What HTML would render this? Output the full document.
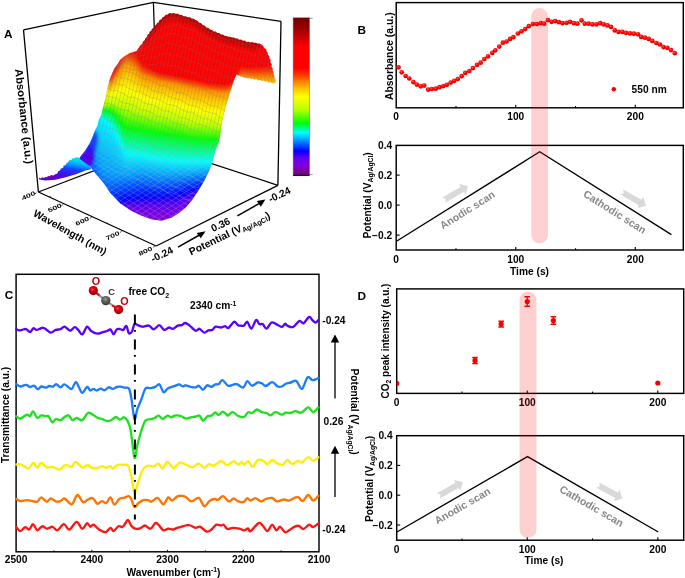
<!DOCTYPE html>
<html><head><meta charset="utf-8"><style>
html,body{margin:0;padding:0;background:#fff;width:685px;height:578px;overflow:hidden}
svg{display:block;will-change:transform}
</style></head><body>
<svg width="685" height="578" viewBox="0 0 685 578">
<defs><linearGradient id="gCbar" x1="0" y1="0" x2="0" y2="1"><stop offset="0" stop-color="#700000"/><stop offset="0.075" stop-color="#A00000"/><stop offset="0.15" stop-color="#E00000"/><stop offset="0.19" stop-color="#FF0000"/><stop offset="0.32" stop-color="#FF0000"/><stop offset="0.37" stop-color="#FF4000"/><stop offset="0.415" stop-color="#FF9000"/><stop offset="0.46" stop-color="#FFD000"/><stop offset="0.5" stop-color="#FFFF00"/><stop offset="0.58" stop-color="#C0FF00"/><stop offset="0.67" stop-color="#00FF00"/><stop offset="0.73" stop-color="#00FFFF"/><stop offset="0.775" stop-color="#00A0FF"/><stop offset="0.846" stop-color="#0000FF"/><stop offset="0.89" stop-color="#6000F0"/><stop offset="0.936" stop-color="#8000E0"/><stop offset="0.981" stop-color="#800090"/><stop offset="1.0" stop-color="#700080"/></linearGradient><radialGradient id="gDot" cx="0.4" cy="0.35" r="0.65"><stop offset="0" stop-color="#FF6060"/><stop offset="0.45" stop-color="#FF0000"/><stop offset="1" stop-color="#E00000"/></radialGradient><clipPath id="cpD1"><rect x="396.7" y="288.9" width="287.00000000000006" height="104.5"/></clipPath><radialGradient id="gO" cx="0.4" cy="0.38" r="0.62"><stop offset="0" stop-color="#FF5050"/><stop offset="0.35" stop-color="#E00010"/><stop offset="1" stop-color="#900000"/></radialGradient><radialGradient id="gC" cx="0.45" cy="0.35" r="0.62"><stop offset="0" stop-color="#9A9A9A"/><stop offset="0.4" stop-color="#666"/><stop offset="1" stop-color="#3A3A3A"/></radialGradient><clipPath id="cpMain"><polygon points="79.5,158.6 80.4,156.8 85.6,149.9 89.9,143 92.5,136.9 95.1,130 97.4,125.7 98.7,120 101.1,115.5 104,103.8 106.9,90.7 109.8,79 114.2,68.8 117.5,64.2 120,60 123.4,56.9 129.2,53.3 136.5,51.1 140.6,45.1 142.4,43.8 142.9,41.6 144.7,40.2 145.4,38.2 147.1,36.8 147.4,34.8 149.1,33.7 149.6,31.8 151.3,30.8 151.8,28.9 153.5,27.9 154.4,26.1 156,25 156.9,23.2 158.7,22.2 159.5,20.1 161.5,19.2 162.5,17.3 164.3,16.4 165.7,14.8 167.8,14.6 169.3,13.1 171.5,13.6 173.7,13.1 175.8,13.8 178,13.7 179.8,14.9 181.9,14.9 183.6,16.3 185.7,16.2 187.5,17.2 190.1,17.2 191.6,18.6 193.8,18.8 195.4,20.1 197.5,20.7 198.9,22.5 201.2,23.2 202.7,25 204.8,25.8 206.3,27.4 208.5,27.9 210,29.5 212,30.1 213.6,31.6 215.7,31.6 217.3,32.9 219.3,33 220.9,34.4 223,34.4 224.6,35.8 226.6,36 228.3,36.8 230.2,36.7 231.9,37.6 233.9,37.5 235.5,38.6 237.5,38.6 239.2,39.7 241.2,39.5 242.8,40.8 244.9,40.6 246.5,41.9 248.4,41.7 250.2,42.6 252.1,42 253.9,42.8 255.7,42.7 257.6,43.5 259.6,43.6 261.2,44.5 263.1,45.8 264.2,47.9 266.2,49.3 266.5,51.2 267.8,52.7 267.9,54.8 269.3,56.3 269.4,58.2 270.6,60.1 270.4,62.4 271.8,64.2 271.4,66.5 272.7,68.3 272.7,70.4 273.7,72.2 273.7,74.3 274.6,76.2 274.5,78.3 275.6,80.1 275.4,82 276.1,83.7 274.4,82.6 272.3,83.7 270.8,81.9 268.7,82.8 267.2,81.3 265.2,81.8 263.7,80.5 261.7,81.1 260.2,79.8 258.2,80.5 256.7,78.9 254.7,79.7 253.1,78.6 251.3,78.9 249.6,78 247.7,78.6 246.1,77.4 244.3,77.9 242.8,76.7 240.9,76.8 239.8,75.4 237.9,75.5 236.7,74.2 233.9,80.4 230.3,92.1 225.9,106.7 222.3,121.3 219.5,140 215.5,150.2 212.4,162.5 209.3,170.7 204.2,180.9 198.1,191.1 192,200.3 185.8,207.4 179.7,212.6 171.5,217.7 161.3,220.7 151.1,219.3 140.9,215.6 130.7,210.5 120.4,203.4 110.2,193.1 105,184.9 101,180 96,174.2 90.8,167.2"/></clipPath><clipPath id="cpBump"><polygon points="39.1,178.2 45.2,177.2 51.3,175.7 55.4,174.6 58.5,171.6 62.6,167.5 66.7,163.4 69.7,160.3 73.8,158.1 75.9,157.4 78.2,157.4 80.4,158.2 84,161.5 88,165 91.5,168.2 90.2,169.4 86.1,170.3 75.9,174.2 65.7,177.3 55.4,179.8 45.2,180.4 39.1,179.4"/></clipPath><filter id="bl1" x="-10%" y="-10%" width="120%" height="120%"><feGaussianBlur stdDeviation="1.1"/></filter><filter id="bl2" x="-20%" y="-20%" width="140%" height="140%"><feGaussianBlur stdDeviation="1.6"/></filter><filter id="bl3" x="-20%" y="-20%" width="140%" height="140%"><feGaussianBlur stdDeviation="2.6"/></filter><linearGradient id="gBump" gradientUnits="userSpaceOnUse" x1="70" y1="157" x2="66" y2="180"><stop offset="0" stop-color="#00E8F0"/><stop offset="0.25" stop-color="#00B0FF"/><stop offset="0.5" stop-color="#1840FF"/><stop offset="0.8" stop-color="#4010E8"/><stop offset="1" stop-color="#6800C8"/></linearGradient><linearGradient id="gMesh" gradientUnits="userSpaceOnUse" x1="0" y1="105" x2="0" y2="175"><stop offset="0" stop-color="#707070"/><stop offset="1" stop-color="#B8B8B8"/></linearGradient><clipPath id="cpLow"><rect x="60" y="145" width="240" height="100"/></clipPath><linearGradient id="gBand" gradientUnits="userSpaceOnUse" x1="96" y1="134" x2="84" y2="162"><stop offset="0" stop-color="#1838FF" stop-opacity="0.6"/><stop offset="0.4" stop-color="#2010F8"/><stop offset="1" stop-color="#6000E0"/></linearGradient></defs>
<line x1="23.5" y1="29.9" x2="153.4" y2="2.3" stroke="#000" stroke-width="1.25" />
<line x1="153.4" y1="2.3" x2="281" y2="21.3" stroke="#000" stroke-width="1.25" />
<line x1="153.4" y1="2.3" x2="158.3" y2="146.1" stroke="#000" stroke-width="1.25" />
<line x1="38.4" y1="192" x2="158.3" y2="146.1" stroke="#000" stroke-width="1.25" />
<line x1="158.3" y1="146.1" x2="277.9" y2="185.3" stroke="#000" stroke-width="1.25" />
<polygon points="39,177.5 40.7,178.5 42.1,177.2 43.8,178 45.2,177 46.8,177.3 48.1,176 49.8,176.3 51.2,175.1 53.5,175.6 55.2,174.3 57.4,173.5 58.1,171.2 60,170.4 60.8,168.5 63.1,168 63.5,165.7 65.6,165.1 66.5,163.2 68.3,162 69.5,160 71.4,160.2 72.2,158.3 74,158.6 75.9,157.2 78.1,157.6 80.7,157.9 81.2,159.7 83,160.1 84,161.5 88,165 91.5,168.2 90.2,169.4 86.1,170.3 75.9,174.2 65.7,177.3 55.4,179.8 45.2,180.4 39.1,179.4" fill="url(#gBump)"/>
<g clip-path="url(#cpMain)"><g filter="url(#bl1)">
<rect x="70" y="0" width="215" height="230" fill="#780088"/>
<polygon points="76,205 79,206.4 82,210.7 85,215 88,219.3 91,223.6 94,226.9 97,229.7 100,232.5 103,234.9 106,233.7 109,232.5 112,231.2 115,230.5 118,229.8 121,229.1 124,228.4 127,228.1 130,228.5 133,228.8 136,229.1 139,229.6 142,230 145,230.3 148,230.7 151,231.1 154,231.4 157,231.8 160,231.8 163,231.5 166,231.1 169,230.7 172,230.4 175,230 178,228.5 181,227.1 184,225.6 187,224.2 190,222.7 193,221.1 196,219.3 199,217.4 202,215.6 205,213.8 208,212 211,211.6 214,211.3 217,210.9 220,210.5 223,210.2 226,207.6 229,203 232,198 235,192 238,190 241,190 244,190 247,190 250,190 253,190 256,190 259,190 262,190 265,190 268,190 271,190 274,190 277,190 280,190 283,190 283,-5 76,-5" fill="#780088"/>
<polygon points="76,203.2 79,204.7 82,209 85,213.2 88,217.5 91,221.8 94,225.2 97,228 100,230.9 103,233.4 106,232.1 109,230.8 112,229.5 115,228.7 118,228.1 121,227.4 124,226.7 127,226.5 130,226.8 133,227.1 136,227.4 139,227.8 142,228.2 145,228.6 148,228.9 151,229.3 154,229.6 157,229.9 160,230 163,229.6 166,229.3 169,228.9 172,228.6 175,228.2 178,226.8 181,225.4 184,223.9 187,222.5 190,221.1 193,219.5 196,217.7 199,215.9 202,214.1 205,212.3 208,210.6 211,210.2 214,209.7 217,209.3 220,208.9 223,208.4 226,206 229,201.7 232,196.8 235,190.8 238,188.8 241,188.8 244,188.8 247,188.8 250,188.8 253,188.8 256,188.8 259,188.8 262,188.8 265,188.8 268,188.8 271,188.8 274,188.8 277,188.8 280,188.8 283,188.8 283,-5 76,-5" fill="#7E008E"/>
<polygon points="76,201.5 79,202.9 82,207.2 85,211.5 88,215.8 91,220.1 94,223.5 97,226.4 100,229.3 103,231.8 106,230.5 109,229.1 112,227.8 115,227 118,226.4 121,225.7 124,225.1 127,224.9 130,225.1 133,225.4 136,225.7 139,226.1 142,226.5 145,226.8 148,227.1 151,227.4 154,227.8 157,228.1 160,228.1 163,227.8 166,227.5 169,227.1 172,226.8 175,226.5 178,225.1 181,223.7 184,222.3 187,220.9 190,219.4 193,217.9 196,216.1 199,214.4 202,212.6 205,210.9 208,209.2 211,208.7 214,208.2 217,207.7 220,207.2 223,206.7 226,204.4 229,200.3 232,195.7 235,189.7 238,187.7 241,187.7 244,187.7 247,187.7 250,187.7 253,187.7 256,187.7 259,187.7 262,187.7 265,187.7 268,187.7 271,187.7 274,187.7 277,187.7 280,187.7 283,187.7 283,-5 76,-5" fill="#800099"/>
<polygon points="76,199.8 79,201.2 82,205.5 85,209.8 88,214 91,218.3 94,221.8 97,224.8 100,227.7 103,230.3 106,228.9 109,227.5 112,226 115,225.3 118,224.7 121,224.1 124,223.4 127,223.2 130,223.5 133,223.7 136,224 139,224.4 142,224.7 145,225 148,225.3 151,225.6 154,225.9 157,226.2 160,226.3 163,226 166,225.7 169,225.4 172,225.1 175,224.8 178,223.4 181,222 184,220.6 187,219.2 190,217.8 193,216.2 196,214.5 199,212.8 202,211.1 205,209.4 208,207.8 211,207.2 214,206.7 217,206.1 220,205.6 223,205 226,202.8 229,199 232,194.5 235,188.5 238,186.5 241,186.5 244,186.5 247,186.5 250,186.5 253,186.5 256,186.5 259,186.5 262,186.5 265,186.5 268,186.5 271,186.5 274,186.5 277,186.5 280,186.5 283,186.5 283,-5 76,-5" fill="#8000A5"/>
<polygon points="76,198 79,199.4 82,203.7 85,208 88,212.3 91,216.6 94,220 97,223.1 100,226.2 103,228.8 106,227.3 109,225.8 112,224.3 115,223.5 118,223 121,222.4 124,221.8 127,221.6 130,221.8 133,222.1 136,222.3 139,222.7 142,223 145,223.3 148,223.5 151,223.8 154,224.1 157,224.4 160,224.4 163,224.1 166,223.8 169,223.6 172,223.3 175,223 178,221.6 181,220.3 184,218.9 187,217.5 190,216.2 193,214.6 196,213 199,211.3 202,209.7 205,208 208,206.4 211,205.8 214,205.1 217,204.5 220,203.9 223,203.3 226,201.1 229,197.7 232,193.3 235,187.3 238,185.3 241,185.3 244,185.3 247,185.3 250,185.3 253,185.3 256,185.3 259,185.3 262,185.3 265,185.3 268,185.3 271,185.3 274,185.3 277,185.3 280,185.3 283,185.3 283,-5 76,-5" fill="#8000B2"/>
<polygon points="76,196.2 79,197.7 82,202 85,206.2 88,210.5 91,214.8 94,218.3 97,221.5 100,224.6 103,227.3 106,225.7 109,224.1 112,222.6 115,221.8 118,221.3 121,220.7 124,220.1 127,219.9 130,220.2 133,220.4 136,220.6 139,220.9 142,221.2 145,221.5 148,221.8 151,222 154,222.3 157,222.5 160,222.5 163,222.3 166,222 169,221.8 172,221.5 175,221.2 178,219.9 181,218.6 184,217.2 187,215.9 190,214.5 193,213 196,211.4 199,209.8 202,208.2 205,206.6 208,205 211,204.3 214,203.6 217,202.9 220,202.2 223,201.6 226,199.5 229,196.3 232,192.2 235,186.2 238,184.2 241,184.2 244,184.2 247,184.2 250,184.2 253,184.2 256,184.2 259,184.2 262,184.2 265,184.2 268,184.2 271,184.2 274,184.2 277,184.2 280,184.2 283,184.2 283,-5 76,-5" fill="#8000BE"/>
<polygon points="76,194.5 79,195.9 82,200.2 85,204.5 88,208.8 91,213.1 94,216.6 97,219.8 100,223 103,225.7 106,224.1 109,222.5 112,220.8 115,220.1 118,219.6 121,219 124,218.5 127,218.3 130,218.5 133,218.7 136,218.9 139,219.2 142,219.5 145,219.7 148,220 151,220.2 154,220.4 157,220.7 160,220.7 163,220.5 166,220.2 169,220 172,219.7 175,219.5 178,218.2 181,216.8 184,215.5 187,214.2 190,212.9 193,211.4 196,209.8 199,208.3 202,206.7 205,205.1 208,203.6 211,202.8 214,202.1 217,201.3 220,200.6 223,199.8 226,197.9 229,195 232,191 235,185 238,183 241,183 244,183 247,183 250,183 253,183 256,183 259,183 262,183 265,183 268,183 271,183 274,183 277,183 280,183 283,183 283,-5 76,-5" fill="#8000CB"/>
<polygon points="76,192.7 79,194.2 82,198.5 85,202.7 88,207 91,211.3 94,214.9 97,218.2 100,221.4 103,224.2 106,222.5 109,220.8 112,219.1 115,218.3 118,217.8 121,217.3 124,216.8 127,216.6 130,216.8 133,217 136,217.2 139,217.5 142,217.7 145,218 148,218.2 151,218.4 154,218.6 157,218.8 160,218.8 163,218.6 166,218.4 169,218.2 172,218 175,217.7 178,216.4 181,215.1 184,213.8 187,212.5 190,211.2 193,209.8 196,208.3 199,206.7 202,205.2 205,203.7 208,202.2 211,201.4 214,200.6 217,199.7 220,198.9 223,198.1 226,196.3 229,193.6 232,189.8 235,183.8 238,181.8 241,181.8 244,181.8 247,181.8 250,181.8 253,181.8 256,181.8 259,181.8 262,181.8 265,181.8 268,181.8 271,181.8 274,181.8 277,181.8 280,181.8 283,181.8 283,-5 76,-5" fill="#8000D7"/>
<polygon points="76,191 79,192.4 82,196.7 85,201 88,205.3 91,209.6 94,213.2 97,216.5 100,219.9 103,222.7 106,220.9 109,219.1 112,217.4 115,216.6 118,216.1 121,215.7 124,215.2 127,215 130,215.2 133,215.4 136,215.5 139,215.8 142,216 145,216.2 148,216.4 151,216.6 154,216.8 157,217 160,217 163,216.8 166,216.6 169,216.4 172,216.2 175,216 178,214.7 181,213.4 184,212.1 187,210.9 190,209.6 193,208.2 196,206.7 199,205.2 202,203.7 205,202.2 208,200.8 211,199.9 214,199 217,198.2 220,197.3 223,196.4 226,194.7 229,192.3 232,188.7 235,182.7 238,180.7 241,180.7 244,180.7 247,180.7 250,180.7 253,180.7 256,180.7 259,180.7 262,180.7 265,180.7 268,180.7 271,180.7 274,180.7 277,180.7 280,180.7 283,180.7 283,-5 76,-5" fill="#7F00E1"/>
<polygon points="76,189.5 79,190.9 82,195.2 85,199.5 88,203.7 91,208 94,211.7 97,215.2 100,218.6 103,221.5 106,219.6 109,217.8 112,216 115,215.3 118,214.8 121,214.3 124,213.8 127,213.6 130,213.7 133,213.9 136,214 139,214.2 142,214.4 145,214.6 148,214.7 151,214.9 154,215.1 157,215.3 160,215.3 163,215.1 166,214.9 169,214.7 172,214.5 175,214.3 178,213.1 181,211.8 184,210.5 187,209.3 190,208 193,206.7 196,205.2 199,203.8 202,202.3 205,200.9 208,199.5 211,198.6 214,197.7 217,196.8 220,195.9 223,195 226,193.3 229,191.1 232,187.6 235,181.6 238,179.6 241,179.6 244,179.6 247,179.6 250,179.6 253,179.6 256,179.6 259,179.6 262,179.6 265,179.6 268,179.6 271,179.6 274,179.6 277,179.6 280,179.6 283,179.6 283,-5 76,-5" fill="#7A00E3"/>
<polygon points="76,188.2 79,189.6 82,193.9 85,198.2 88,202.5 91,206.8 94,210.6 97,214.1 100,217.6 103,220.6 106,218.8 109,217 112,215.2 115,214.4 118,213.8 121,213.2 124,212.7 127,212.4 130,212.5 133,212.6 136,212.7 139,212.8 142,213 145,213.1 148,213.3 151,213.4 154,213.6 157,213.8 160,213.8 163,213.6 166,213.4 169,213.1 172,212.9 175,212.7 178,211.5 181,210.3 184,209 187,207.8 190,206.6 193,205.3 196,203.9 199,202.5 202,201.1 205,199.7 208,198.3 211,197.4 214,196.5 217,195.6 220,194.8 223,193.9 226,192.3 229,190.2 232,186.8 235,180.8 238,178.8 241,178.8 244,178.8 247,178.8 250,178.8 253,178.8 256,178.8 259,178.8 262,178.8 265,178.8 268,178.8 271,178.8 274,178.8 277,178.8 280,178.8 283,178.8 283,-5 76,-5" fill="#7500E6"/>
<polygon points="76,187 79,188.4 82,192.7 85,197 88,201.2 91,205.5 94,209.4 97,213 100,216.7 103,219.8 106,218 109,216.2 112,214.3 115,213.5 118,212.8 121,212.2 124,211.5 127,211.2 130,211.3 133,211.3 136,211.4 139,211.5 142,211.6 145,211.7 148,211.8 151,212 154,212.1 157,212.3 160,212.3 163,212 166,211.8 169,211.6 172,211.4 175,211.2 178,210 181,208.8 184,207.6 187,206.4 190,205.2 193,203.9 196,202.5 199,201.2 202,199.8 205,198.5 208,197.1 211,196.3 214,195.4 217,194.5 220,193.6 223,192.8 226,191.3 229,189.3 232,186 235,180 238,178 241,178 244,178 247,178 250,178 253,178 256,178 259,178 262,178 265,178 268,178 271,178 274,178 277,178 280,178 283,178 283,-5 76,-5" fill="#7000E8"/>
<polygon points="76,185.7 79,187.1 82,191.4 85,195.7 88,200 91,204.3 94,208.2 97,212 100,215.8 103,219 106,217.1 109,215.3 112,213.5 115,212.6 118,211.8 121,211.1 124,210.4 127,210 130,210 133,210.1 136,210.1 139,210.1 142,210.1 145,210.3 148,210.4 151,210.5 154,210.7 157,210.8 160,210.7 163,210.5 166,210.3 169,210 172,209.8 175,209.6 178,208.4 181,207.2 184,206.1 187,204.9 190,203.7 193,202.5 196,201.2 199,199.9 202,198.6 205,197.3 208,196 211,195.1 214,194.3 217,193.4 220,192.5 223,191.7 226,190.3 229,188.4 232,185.1 235,179.1 238,177.1 241,177.1 244,177.1 247,177.1 250,177.1 253,177.1 256,177.1 259,177.1 262,177.1 265,177.1 268,177.1 271,177.1 274,177.1 277,177.1 280,177.1 283,177.1 283,-5 76,-5" fill="#6B00EA"/>
<polygon points="76,184.5 79,185.9 82,190.2 85,194.5 88,198.7 91,203 94,207.1 97,210.9 100,214.8 103,218.1 106,216.3 109,214.5 112,212.7 115,211.7 118,210.9 121,210.1 124,209.3 127,208.8 130,208.8 133,208.8 136,208.8 139,208.7 142,208.7 145,208.8 148,208.9 151,209.1 154,209.2 157,209.3 160,209.2 163,209 166,208.7 169,208.5 172,208.2 175,208 178,206.8 181,205.7 184,204.6 187,203.4 190,202.3 193,201.1 196,199.8 199,198.6 202,197.3 205,196.1 208,194.8 211,194 214,193.1 217,192.3 220,191.4 223,190.6 226,189.3 229,187.5 232,184.3 235,178.3 238,176.3 241,176.3 244,176.3 247,176.3 250,176.3 253,176.3 256,176.3 259,176.3 262,176.3 265,176.3 268,176.3 271,176.3 274,176.3 277,176.3 280,176.3 283,176.3 283,-5 76,-5" fill="#6600ED"/>
<polygon points="76,183.2 79,184.6 82,188.9 85,193.2 88,197.5 91,201.8 94,205.9 97,209.9 100,213.9 103,217.3 106,215.5 109,213.7 112,211.8 115,210.8 118,209.9 121,209 124,208.2 127,207.6 130,207.6 133,207.5 136,207.5 139,207.4 142,207.3 145,207.4 148,207.5 151,207.6 154,207.7 157,207.8 160,207.7 163,207.5 166,207.2 169,206.9 172,206.7 175,206.4 178,205.3 181,204.2 184,203.1 187,202 190,200.9 193,199.7 196,198.5 199,197.3 202,196.1 205,194.8 208,193.6 211,192.8 214,192 217,191.2 220,190.3 223,189.5 226,188.2 229,186.6 232,183.5 235,177.5 238,175.5 241,175.5 244,175.5 247,175.5 250,175.5 253,175.5 256,175.5 259,175.5 262,175.5 265,175.5 268,175.5 271,175.5 274,175.5 277,175.5 280,175.5 283,175.5 283,-5 76,-5" fill="#6100EF"/>
<polygon points="76,182 79,183.4 82,187.7 85,192 88,196.2 91,200.5 94,204.7 97,208.8 100,212.9 103,216.5 106,214.6 109,212.8 112,211 115,209.9 118,208.9 121,208 124,207 127,206.5 130,206.4 133,206.3 136,206.2 139,206 142,205.9 145,206 148,206.1 151,206.1 154,206.2 157,206.3 160,206.2 163,205.9 166,205.7 169,205.4 172,205.1 175,204.8 178,203.7 181,202.7 184,201.6 187,200.5 190,199.4 193,198.3 196,197.1 199,196 202,194.8 205,193.6 208,192.5 211,191.7 214,190.8 217,190 220,189.2 223,188.4 226,187.2 229,185.7 232,182.6 235,176.6 238,174.6 241,174.6 244,174.6 247,174.6 250,174.6 253,174.6 256,174.6 259,174.6 262,174.6 265,174.6 268,174.6 271,174.6 274,174.6 277,174.6 280,174.6 283,174.6 283,-5 76,-5" fill="#5500F2"/>
<polygon points="76,180.7 79,182.1 82,186.4 85,190.7 88,195 91,199.3 94,203.5 97,207.8 100,212 103,215.6 106,213.8 109,212 112,210.2 115,209 118,208 121,206.9 124,205.9 127,205.3 130,205.1 133,205 136,204.8 139,204.7 142,204.5 145,204.5 148,204.6 151,204.7 154,204.8 157,204.8 160,204.7 163,204.4 166,204.1 169,203.8 172,203.5 175,203.2 178,202.2 181,201.1 184,200.1 187,199 190,198 193,196.9 196,195.8 199,194.7 202,193.5 205,192.4 208,191.3 211,190.5 214,189.7 217,188.9 220,188.1 223,187.3 226,186.2 229,184.8 232,181.8 235,175.8 238,173.8 241,173.8 244,173.8 247,173.8 250,173.8 253,173.8 256,173.8 259,173.8 262,173.8 265,173.8 268,173.8 271,173.8 274,173.8 277,173.8 280,173.8 283,173.8 283,-5 76,-5" fill="#4600F4"/>
<polygon points="76,179.5 79,180.9 82,185.2 85,189.5 88,193.7 91,198 94,202.4 97,206.7 100,211.1 103,214.8 106,213 109,211.2 112,209.3 115,208.1 118,207 121,205.9 124,204.8 127,204.1 130,203.9 133,203.7 136,203.5 139,203.3 142,203.1 145,203.1 148,203.2 151,203.2 154,203.3 157,203.3 160,203.2 163,202.9 166,202.6 169,202.3 172,202 175,201.7 178,200.6 181,199.6 184,198.6 187,197.6 190,196.6 193,195.5 196,194.4 199,193.4 202,192.3 205,191.2 208,190.1 211,189.4 214,188.6 217,187.8 220,187 223,186.2 226,185.2 229,183.9 232,181 235,175 238,173 241,173 244,173 247,173 250,173 253,173 256,173 259,173 262,173 265,173 268,173 271,173 274,173 277,173 280,173 283,173 283,-5 76,-5" fill="#3700F6"/>
<polygon points="76,178.2 79,179.6 82,183.9 85,188.2 88,192.5 91,196.8 94,201.2 97,205.7 100,210.1 103,214 106,212.1 109,210.3 112,208.5 115,207.2 118,206 121,204.8 124,203.7 127,202.9 130,202.7 133,202.5 136,202.2 139,201.9 142,201.7 145,201.7 148,201.7 151,201.8 154,201.8 157,201.8 160,201.7 163,201.4 166,201.1 169,200.7 172,200.4 175,200.1 178,199.1 181,198.1 184,197.1 187,196.1 190,195.1 193,194.1 196,193.1 199,192.1 202,191 205,190 208,189 211,188.2 214,187.4 217,186.7 220,185.9 223,185.1 226,184.1 229,182.9 232,180.1 235,174.1 238,172.1 241,172.1 244,172.1 247,172.1 250,172.1 253,172.1 256,172.1 259,172.1 262,172.1 265,172.1 268,172.1 271,172.1 274,172.1 277,172.1 280,172.1 283,172.1 283,-5 76,-5" fill="#2700F9"/>
<polygon points="76,177 79,178.4 82,182.7 85,187 88,191.2 91,195.5 94,200 97,204.6 100,209.2 103,213.1 106,211.3 109,209.5 112,207.7 115,206.3 118,205.1 121,203.8 124,202.5 127,201.7 130,201.5 133,201.2 136,200.9 139,200.6 142,200.2 145,200.2 148,200.3 151,200.3 154,200.3 157,200.3 160,200.2 163,199.9 166,199.5 169,199.2 172,198.8 175,198.5 178,197.5 181,196.6 184,195.6 187,194.7 190,193.7 193,192.7 196,191.7 199,190.8 202,189.8 205,188.8 208,187.8 211,187.1 214,186.3 217,185.6 220,184.8 223,184.1 226,183.1 229,182 232,179.3 235,173.3 238,171.3 241,171.3 244,171.3 247,171.3 250,171.3 253,171.3 256,171.3 259,171.3 262,171.3 265,171.3 268,171.3 271,171.3 274,171.3 277,171.3 280,171.3 283,171.3 283,-5 76,-5" fill="#1800FB"/>
<polygon points="76,175.7 79,177.1 82,181.4 85,185.7 88,190 91,194.3 94,198.8 97,203.5 100,208.2 103,212.3 106,210.5 109,208.7 112,206.8 115,205.4 118,204.1 121,202.8 124,201.4 127,200.5 130,200.2 133,199.9 136,199.6 139,199.2 142,198.8 145,198.8 148,198.8 151,198.8 154,198.8 157,198.9 160,198.7 163,198.3 166,198 169,197.6 172,197.3 175,196.9 178,196 181,195.1 184,194.1 187,193.2 190,192.3 193,191.3 196,190.4 199,189.5 202,188.5 205,187.6 208,186.6 211,185.9 214,185.2 217,184.4 220,183.7 223,183 226,182.1 229,181.1 232,178.5 235,172.5 238,170.5 241,170.5 244,170.5 247,170.5 250,170.5 253,170.5 256,170.5 259,170.5 262,170.5 265,170.5 268,170.5 271,170.5 274,170.5 277,170.5 280,170.5 283,170.5 283,-5 76,-5" fill="#0900FE"/>
<polygon points="76,173 79,174.4 82,178.8 85,183.1 88,187.4 91,191.7 94,196.3 97,201.1 100,206 103,210.1 106,208.5 109,206.8 112,205.1 115,203.7 118,202.4 121,201 124,199.7 127,198.8 130,198.5 133,198.2 136,197.8 139,197.4 142,197 145,197 148,197 151,197 154,197 157,197.1 160,196.9 163,196.6 166,196.2 169,195.9 172,195.5 175,195.2 178,194.3 181,193.4 184,192.5 187,191.6 190,190.8 193,189.9 196,189 199,188.1 202,187.2 205,186.3 208,185.4 211,184.7 214,184 217,183.3 220,182.6 223,181.9 226,181.1 229,180.2 232,177.6 235,171.6 238,169.6 241,169.6 244,169.6 247,169.6 250,169.6 253,169.6 256,169.6 259,169.6 262,169.6 265,169.6 268,169.6 271,169.6 274,169.6 277,169.6 280,169.6 283,169.6 283,-5 76,-5" fill="#0007FF"/>
<polygon points="76,168.4 79,169.8 82,174.2 85,178.5 88,182.9 91,187.2 94,192 97,196.9 100,201.9 103,206.2 106,204.8 109,203.4 112,202.1 115,200.8 118,199.6 121,198.5 124,197.3 127,196.5 130,196.2 133,195.8 136,195.5 139,195.1 142,194.6 145,194.7 148,194.7 151,194.8 154,194.8 157,194.9 160,194.8 163,194.4 166,194.1 169,193.8 172,193.5 175,193.2 178,192.4 181,191.6 184,190.8 187,190 190,189.1 193,188.3 196,187.5 199,186.7 202,185.8 205,185 208,184.1 211,183.5 214,182.8 217,182.2 220,181.5 223,180.9 226,180.1 229,179.2 232,176.6 235,170.6 238,168.6 241,168.6 244,168.6 247,168.6 250,168.6 253,168.6 256,168.6 259,168.6 262,168.6 265,168.6 268,168.6 271,168.6 274,168.6 277,168.6 280,168.6 283,168.6 283,-5 76,-5" fill="#0017FF"/>
<polygon points="76,163.7 79,165.2 82,169.6 85,174 88,178.4 91,182.8 94,187.6 97,192.7 100,197.8 103,202.3 106,201.2 109,200.1 112,199 115,198 118,196.9 121,195.9 124,194.8 127,194.1 130,193.8 133,193.5 136,193.1 139,192.7 142,192.3 145,192.3 148,192.4 151,192.5 154,192.6 157,192.7 160,192.6 163,192.3 166,192 169,191.8 172,191.5 175,191.2 178,190.5 181,189.7 184,189 187,188.3 190,187.5 193,186.8 196,186 199,185.2 202,184.4 205,183.6 208,182.9 211,182.3 214,181.7 217,181.1 220,180.5 223,179.9 226,179.1 229,178.2 232,175.6 235,169.6 238,167.6 241,167.6 244,167.6 247,167.6 250,167.6 253,167.6 256,167.6 259,167.6 262,167.6 265,167.6 268,167.6 271,167.6 274,167.6 277,167.6 280,167.6 283,167.6 283,-5 76,-5" fill="#0026FF"/>
<polygon points="76,159.1 79,160.6 82,165 85,169.5 88,173.9 91,178.3 94,183.3 97,188.5 100,193.8 103,198.4 106,197.6 109,196.8 112,196 115,195.1 118,194.2 121,193.3 124,192.4 127,191.7 130,191.4 133,191.1 136,190.7 139,190.3 142,189.9 145,190 148,190.1 151,190.3 154,190.4 157,190.5 160,190.5 163,190.2 166,190 169,189.7 172,189.5 175,189.2 178,188.6 181,187.9 184,187.2 187,186.6 190,185.9 193,185.2 196,184.5 199,183.8 202,183 205,182.3 208,181.6 211,181 214,180.5 217,180 220,179.4 223,178.9 226,178.1 229,177.2 232,174.6 235,168.6 238,166.6 241,166.6 244,166.6 247,166.6 250,166.6 253,166.6 256,166.6 259,166.6 262,166.6 265,166.6 268,166.6 271,166.6 274,166.6 277,166.6 280,166.6 283,166.6 283,-5 76,-5" fill="#0036FF"/>
<polygon points="76,154.5 79,156 82,160.4 85,164.9 88,169.4 91,173.9 94,178.9 97,184.3 100,189.7 103,194.5 106,194 109,193.5 112,193 115,192.3 118,191.5 121,190.7 124,190 127,189.4 130,189.1 133,188.7 136,188.4 139,188 142,187.5 145,187.7 148,187.8 151,188 154,188.1 157,188.3 160,188.3 163,188.1 166,187.9 169,187.7 172,187.5 175,187.3 178,186.7 181,186.1 184,185.5 187,184.9 190,184.3 193,183.7 196,183 199,182.3 202,181.7 205,181 208,180.3 211,179.8 214,179.3 217,178.8 220,178.4 223,177.9 226,177.1 229,176.2 232,173.6 235,167.6 238,165.6 241,165.6 244,165.6 247,165.6 250,165.6 253,165.6 256,165.6 259,165.6 262,165.6 265,165.6 268,165.6 271,165.6 274,165.6 277,165.6 280,165.6 283,165.6 283,-5 76,-5" fill="#0046FF"/>
<polygon points="76,149.8 79,151.4 82,155.9 85,160.4 88,164.9 91,169.4 94,174.6 97,180.1 100,185.6 103,190.6 106,190.4 109,190.2 112,190 115,189.4 118,188.8 121,188.2 124,187.5 127,187 130,186.7 133,186.4 136,186 139,185.6 142,185.2 145,185.3 148,185.5 151,185.7 154,185.9 157,186.1 160,186.1 163,186 166,185.8 169,185.6 172,185.5 175,185.3 178,184.8 181,184.3 184,183.7 187,183.2 190,182.7 193,182.1 196,181.5 199,180.9 202,180.3 205,179.6 208,179 211,178.6 214,178.2 217,177.7 220,177.3 223,176.9 226,176.2 229,175.3 232,172.6 235,166.6 238,164.6 241,164.6 244,164.6 247,164.6 250,164.6 253,164.6 256,164.6 259,164.6 262,164.6 265,164.6 268,164.6 271,164.6 274,164.6 277,164.6 280,164.6 283,164.6 283,-5 76,-5" fill="#0056FF"/>
<polygon points="76,145.2 79,146.7 82,151.3 85,155.8 88,160.4 91,165 94,170.2 97,175.9 100,181.6 103,186.7 106,186.8 109,186.9 112,187 115,186.6 118,186.1 121,185.6 124,185.1 127,184.6 130,184.3 133,184 136,183.6 139,183.2 142,182.8 145,183 148,183.2 151,183.5 154,183.7 157,183.9 160,184 163,183.9 166,183.7 169,183.6 172,183.5 175,183.3 178,182.9 181,182.4 184,182 187,181.5 190,181.1 193,180.6 196,180 199,179.4 202,178.9 205,178.3 208,177.7 211,177.4 214,177 217,176.6 220,176.2 223,175.8 226,175.2 229,174.3 232,171.7 235,165.7 238,163.7 241,163.7 244,163.7 247,163.7 250,163.7 253,163.7 256,163.7 259,163.7 262,163.7 265,163.7 268,163.7 271,163.7 274,163.7 277,163.7 280,163.7 283,163.7 283,-5 76,-5" fill="#0065FF"/>
<polygon points="76,140.6 79,142.1 82,146.7 85,151.3 88,155.9 91,160.5 94,165.9 97,171.7 100,177.5 103,182.7 106,183.1 109,183.5 112,183.9 115,183.7 118,183.4 121,183 124,182.6 127,182.3 130,182 133,181.6 136,181.3 139,180.9 142,180.5 145,180.7 148,180.9 151,181.2 154,181.5 157,181.7 160,181.8 163,181.7 166,181.6 169,181.5 172,181.5 175,181.4 178,181 181,180.6 184,180.2 187,179.8 190,179.5 193,179 196,178.5 199,178 202,177.5 205,177 208,176.5 211,176.1 214,175.8 217,175.5 220,175.2 223,174.8 226,174.2 229,173.3 232,170.7 235,164.7 238,162.7 241,162.7 244,162.7 247,162.7 250,162.7 253,162.7 256,162.7 259,162.7 262,162.7 265,162.7 268,162.7 271,162.7 274,162.7 277,162.7 280,162.7 283,162.7 283,-5 76,-5" fill="#0075FF"/>
<polygon points="76,135.9 79,137.5 82,142.1 85,146.8 88,151.4 91,156.1 94,161.6 97,167.5 100,173.4 103,178.8 106,179.5 109,180.2 112,180.9 115,180.9 118,180.7 121,180.4 124,180.2 127,179.9 130,179.6 133,179.3 136,178.9 139,178.5 142,178.1 145,178.3 148,178.6 151,178.9 154,179.3 157,179.6 160,179.7 163,179.6 166,179.6 169,179.5 172,179.4 175,179.4 178,179.1 181,178.8 184,178.5 187,178.2 190,177.9 193,177.5 196,177 199,176.6 202,176.1 205,175.6 208,175.2 211,174.9 214,174.6 217,174.4 220,174.1 223,173.8 226,173.2 229,172.3 232,169.7 235,163.7 238,161.7 241,161.7 244,161.7 247,161.7 250,161.7 253,161.7 256,161.7 259,161.7 262,161.7 265,161.7 268,161.7 271,161.7 274,161.7 277,161.7 280,161.7 283,161.7 283,-5 76,-5" fill="#0085FF"/>
<polygon points="76,131.3 79,132.9 82,137.6 85,142.2 88,146.9 91,151.6 94,157.2 97,163.3 100,169.4 103,174.9 106,175.9 109,176.9 112,177.9 115,178 118,177.9 121,177.8 124,177.7 127,177.6 130,177.2 133,176.9 136,176.6 139,176.1 142,175.7 145,176 148,176.3 151,176.7 154,177 157,177.4 160,177.5 163,177.5 166,177.5 169,177.5 172,177.4 175,177.4 178,177.2 181,176.9 184,176.7 187,176.5 190,176.2 193,175.9 196,175.5 199,175.1 202,174.7 205,174.3 208,173.9 211,173.7 214,173.5 217,173.2 220,173 223,172.8 226,172.2 229,171.3 232,168.7 235,162.7 238,160.7 241,160.7 244,160.7 247,160.7 250,160.7 253,160.7 256,160.7 259,160.7 262,160.7 265,160.7 268,160.7 271,160.7 274,160.7 277,160.7 280,160.7 283,160.7 283,-5 76,-5" fill="#0095FF"/>
<polygon points="76,127.3 79,128.8 82,133.3 85,137.8 88,142.2 91,146.7 94,152.2 97,158.2 100,164.2 103,169.8 106,171.1 109,172.3 112,173.6 115,174.1 118,174.4 121,174.6 124,174.9 127,174.9 130,174.6 133,174.4 136,174 139,173.6 142,173.3 145,173.6 148,174 151,174.3 154,174.7 157,175.1 160,175.3 163,175.3 166,175.3 169,175.3 172,175.4 175,175.4 178,175.2 181,175 184,174.9 187,174.7 190,174.5 193,174.3 196,173.9 199,173.6 202,173.2 205,172.9 208,172.5 211,172.4 214,172.2 217,172 220,171.8 223,171.6 226,171.1 229,170.2 232,167.6 235,161.6 238,159.6 241,159.6 244,159.6 247,159.6 250,159.6 253,159.6 256,159.6 259,159.6 262,159.6 265,159.6 268,159.6 271,159.6 274,159.6 277,159.6 280,159.6 283,159.6 283,-5 76,-5" fill="#00A4FF"/>
<polygon points="76,124.8 79,126 82,129.7 85,133.4 88,137.1 91,140.8 94,145.6 97,151.1 100,156.5 103,161.6 106,163.1 109,164.6 112,166.1 115,167.4 118,168.6 121,169.9 124,171.1 127,171.7 130,171.5 133,171.3 136,171.1 139,170.9 142,170.6 145,171 148,171.4 151,171.8 154,172.2 157,172.6 160,172.8 163,172.9 166,173 169,173.1 172,173.1 175,173.2 178,173.1 181,173 184,172.9 187,172.8 190,172.7 193,172.5 196,172.2 199,171.9 202,171.6 205,171.3 208,171 211,170.8 214,170.6 217,170.4 220,170.3 223,170.1 226,169.5 229,168.6 232,166 235,160 238,158 241,158 244,158 247,158 250,158 253,158 256,158 259,158 262,158 265,158 268,158 271,158 274,158 277,158 280,158 283,158 283,-5 76,-5" fill="#00B3FF"/>
<polygon points="76,122.3 79,123.3 82,126.2 85,129 88,131.9 91,134.8 94,139 97,143.9 100,148.8 103,153.3 106,155.1 109,156.8 112,158.6 115,160.7 118,162.9 121,165.1 124,167.3 127,168.5 130,168.4 133,168.3 136,168.2 139,168.1 142,168 145,168.4 148,168.8 151,169.2 154,169.7 157,170.1 160,170.4 163,170.5 166,170.6 169,170.8 172,170.9 175,171 178,171 181,170.9 184,170.9 187,170.8 190,170.8 193,170.6 196,170.4 199,170.1 202,169.9 205,169.7 208,169.4 211,169.3 214,169.1 217,168.9 220,168.7 223,168.5 226,168 229,167.1 232,164.4 235,158.4 238,156.4 241,156.4 244,156.4 247,156.4 250,156.4 253,156.4 256,156.4 259,156.4 262,156.4 265,156.4 268,156.4 271,156.4 274,156.4 277,156.4 280,156.4 283,156.4 283,-5 76,-5" fill="#00C2FF"/>
<polygon points="76,119.8 79,120.5 82,122.6 85,124.7 88,126.8 91,128.9 94,132.4 97,136.7 100,141 103,145.1 106,147.1 109,149.1 112,151.1 115,154 118,157.2 121,160.3 124,163.5 127,165.3 130,165.3 133,165.3 136,165.3 139,165.3 142,165.3 145,165.7 148,166.2 151,166.7 154,167.1 157,167.6 160,167.9 163,168.1 166,168.3 169,168.5 172,168.7 175,168.8 178,168.8 181,168.9 184,168.9 187,168.9 190,168.9 193,168.8 196,168.6 199,168.4 202,168.2 205,168.1 208,167.9 211,167.7 214,167.5 217,167.3 220,167.2 223,167 226,166.4 229,165.5 232,162.9 235,156.9 238,154.9 241,154.9 244,154.9 247,154.9 250,154.9 253,154.9 256,154.9 259,154.9 262,154.9 265,154.9 268,154.9 271,154.9 274,154.9 277,154.9 280,154.9 283,154.9 283,-5 76,-5" fill="#00D1FF"/>
<polygon points="76,117.3 79,117.8 82,119 85,120.3 88,121.6 91,122.9 94,125.8 97,129.6 100,133.3 103,136.9 106,139.1 109,141.3 112,143.6 115,147.3 118,151.4 121,155.5 124,159.7 127,162 130,162.2 133,162.3 136,162.4 139,162.5 142,162.7 145,163.1 148,163.6 151,164.1 154,164.6 157,165.1 160,165.4 163,165.7 166,165.9 169,166.2 172,166.4 175,166.7 178,166.7 181,166.8 184,166.8 187,166.9 190,167 193,166.9 196,166.8 199,166.7 202,166.6 205,166.5 208,166.3 211,166.1 214,166 217,165.8 220,165.6 223,165.4 226,164.8 229,163.9 232,161.3 235,155.3 238,153.3 241,153.3 244,153.3 247,153.3 250,153.3 253,153.3 256,153.3 259,153.3 262,153.3 265,153.3 268,153.3 271,153.3 274,153.3 277,153.3 280,153.3 283,153.3 283,-5 76,-5" fill="#00DFFF"/>
<polygon points="76,114.8 79,115 82,115.5 85,116 88,116.5 91,116.9 94,119.2 97,122.4 100,125.6 103,128.7 106,131.1 109,133.6 112,136 115,140.6 118,145.7 121,150.8 124,155.9 127,158.8 130,159 133,159.2 136,159.5 139,159.7 142,160 145,160.5 148,161 151,161.5 154,162.1 157,162.6 160,163 163,163.3 166,163.6 169,163.9 172,164.2 175,164.5 178,164.6 181,164.7 184,164.8 187,165 190,165.1 193,165.1 196,165 199,165 202,164.9 205,164.8 208,164.8 211,164.6 214,164.4 217,164.2 220,164 223,163.9 226,163.3 229,162.4 232,159.8 235,153.8 238,151.8 241,151.8 244,151.8 247,151.8 250,151.8 253,151.8 256,151.8 259,151.8 262,151.8 265,151.8 268,151.8 271,151.8 274,151.8 277,151.8 280,151.8 283,151.8 283,-5 76,-5" fill="#00EEFF"/>
<polygon points="76,112.4 79,112.3 82,111.9 85,111.6 88,111.3 91,111 94,112.6 97,115.2 100,117.8 103,120.4 106,123.1 109,125.8 112,128.5 115,133.9 118,139.9 121,146 124,152 127,155.6 130,155.9 133,156.2 136,156.6 139,157 142,157.4 145,157.9 148,158.4 151,159 154,159.5 157,160.1 160,160.5 163,160.9 166,161.2 169,161.6 172,162 175,162.3 178,162.5 181,162.7 184,162.8 187,163 190,163.2 193,163.3 196,163.3 199,163.2 202,163.2 205,163.2 208,163.2 211,163 214,162.9 217,162.7 220,162.5 223,162.3 226,161.7 229,160.8 232,158.2 235,152.2 238,150.2 241,150.2 244,150.2 247,150.2 250,150.2 253,150.2 256,150.2 259,150.2 262,150.2 265,150.2 268,150.2 271,150.2 274,150.2 277,150.2 280,150.2 283,150.2 283,-5 76,-5" fill="#00FDFF"/>
<polygon points="76,110.8 79,110.7 82,110.3 85,109.9 88,109.5 91,109.1 94,110.7 97,113.3 100,115.8 103,118.4 106,120.9 109,123.4 112,125.9 115,131.2 118,137.1 121,143.1 124,149 127,152.5 130,152.9 133,153.2 136,153.5 139,154 142,154.4 145,154.9 148,155.5 151,156 154,156.6 157,157.1 160,157.6 163,157.9 166,158.3 169,158.7 172,159 175,159.4 178,159.6 181,159.8 184,160.1 187,160.3 190,160.5 193,160.6 196,160.6 199,160.6 202,160.7 205,160.7 208,160.7 211,160.5 214,160.4 217,160.2 220,160 223,159.9 226,159.4 229,158.5 232,156 235,150 238,148 241,148 244,148 247,148 250,148 253,148 256,148 259,148 262,148 265,148 268,148 271,148 274,148 277,148 280,148 283,148 283,-5 76,-5" fill="#00FFE5"/>
<polygon points="76,109.4 79,109.3 82,109 85,108.6 88,108.3 91,107.9 94,109.6 97,112.1 100,114.7 103,117.3 106,119.5 109,121.8 112,124.1 115,129.1 118,134.8 121,140.5 124,146.1 127,149.5 130,149.8 133,150.2 136,150.5 139,150.9 142,151.3 145,151.9 148,152.4 151,153 154,153.5 157,154.1 160,154.5 163,154.9 166,155.3 169,155.6 172,156 175,156.4 178,156.6 181,156.9 184,157.1 187,157.4 190,157.7 193,157.8 196,157.9 199,157.9 202,157.9 205,158 208,158 211,157.9 214,157.7 217,157.6 220,157.4 223,157.3 226,156.9 229,156.1 232,153.7 235,147.7 238,145.7 241,145.7 244,145.7 247,145.7 250,145.7 253,145.7 256,145.7 259,145.7 262,145.7 265,145.7 268,145.7 271,145.7 274,145.7 277,145.7 280,145.7 283,145.7 283,-5 76,-5" fill="#00FFC8"/>
<polygon points="76,108 79,107.9 82,107.6 85,107.3 88,107 91,106.8 94,108.4 97,111 100,113.6 103,116.2 106,118.2 109,120.2 112,122.3 115,127 118,132.4 121,137.8 124,143.3 127,146.5 130,146.8 133,147.1 136,147.5 139,147.9 142,148.3 145,148.8 148,149.4 151,149.9 154,150.5 157,151 160,151.5 163,151.9 166,152.2 169,152.6 172,153 175,153.3 178,153.6 181,153.9 184,154.2 187,154.5 190,154.8 193,155 196,155.1 199,155.2 202,155.2 205,155.3 208,155.3 211,155.2 214,155.1 217,155 220,154.8 223,154.7 226,154.3 229,153.7 232,151.3 235,145.3 238,143.3 241,143.3 244,143.3 247,143.3 250,143.3 253,143.3 256,143.3 259,143.3 262,143.3 265,143.3 268,143.3 271,143.3 274,143.3 277,143.3 280,143.3 283,143.3 283,-5 76,-5" fill="#00FFAA"/>
<polygon points="76,106.6 79,106.5 82,106.3 85,106 88,105.8 91,105.6 94,107.3 97,109.9 100,112.6 103,115.1 106,116.9 109,118.7 112,120.4 115,124.9 118,130.1 121,135.2 124,140.4 127,143.4 130,143.8 133,144.1 136,144.4 139,144.9 142,145.3 145,145.8 148,146.4 151,146.9 154,147.5 157,148 160,148.5 163,148.8 166,149.2 169,149.6 172,149.9 175,150.3 178,150.6 181,151 184,151.3 187,151.7 190,152 193,152.2 196,152.3 199,152.4 202,152.5 205,152.6 208,152.6 211,152.5 214,152.4 217,152.3 220,152.2 223,152.1 226,151.8 229,151.3 232,149 235,143 238,141 241,141 244,141 247,141 250,141 253,141 256,141 259,141 262,141 265,141 268,141 271,141 274,141 277,141 280,141 283,141 283,-5 76,-5" fill="#00FF8C"/>
<polygon points="76,105.2 79,105.1 82,105 85,104.8 88,104.6 91,104.4 94,106.1 97,108.8 100,111.5 103,114.1 106,115.6 109,117.1 112,118.6 115,122.8 118,127.7 121,132.6 124,137.5 127,140.4 130,140.7 133,141.1 136,141.4 139,141.8 142,142.2 145,142.8 148,143.3 151,143.9 154,144.4 157,145 160,145.4 163,145.8 166,146.2 169,146.5 172,146.9 175,147.3 178,147.7 181,148 184,148.4 187,148.8 190,149.2 193,149.5 196,149.6 199,149.7 202,149.8 205,149.9 208,150 211,149.9 214,149.8 217,149.7 220,149.6 223,149.6 226,149.3 229,148.9 232,146.7 235,140.7 238,138.7 241,138.7 244,138.7 247,138.7 250,138.7 253,138.7 256,138.7 259,138.7 262,138.7 265,138.7 268,138.7 271,138.7 274,138.7 277,138.7 280,138.7 283,138.7 283,-5 76,-5" fill="#00FF6E"/>
<polygon points="76,103.8 79,103.8 82,103.6 85,103.5 88,103.3 91,103.2 94,105 97,107.7 100,110.4 103,113 106,114.3 109,115.5 112,116.8 115,120.8 118,125.4 121,130 124,134.6 127,137.4 130,137.7 133,138 136,138.4 139,138.8 142,139.2 145,139.7 148,140.3 151,140.8 154,141.4 157,141.9 160,142.4 163,142.8 166,143.1 169,143.5 172,143.9 175,144.2 178,144.7 181,145.1 184,145.5 187,146 190,146.4 193,146.7 196,146.8 199,146.9 202,147 205,147.2 208,147.3 211,147.2 214,147.2 217,147.1 220,147.1 223,147 226,146.8 229,146.5 232,144.3 235,138.3 238,136.3 241,136.3 244,136.3 247,136.3 250,136.3 253,136.3 256,136.3 259,136.3 262,136.3 265,136.3 268,136.3 271,136.3 274,136.3 277,136.3 280,136.3 283,136.3 283,-5 76,-5" fill="#00FF51"/>
<polygon points="76,102.4 79,102.4 82,102.3 85,102.2 88,102.1 91,102 94,103.8 97,106.6 100,109.3 103,111.9 106,112.9 109,114 112,115 115,118.7 118,123 121,127.4 124,131.7 127,134.3 130,134.7 133,135 136,135.3 139,135.8 142,136.2 145,136.7 148,137.3 151,137.8 154,138.4 157,138.9 160,139.4 163,139.7 166,140.1 169,140.5 172,140.8 175,141.2 178,141.7 181,142.1 184,142.6 187,143.1 190,143.6 193,143.9 196,144 199,144.2 202,144.3 205,144.5 208,144.6 211,144.6 214,144.5 217,144.5 220,144.5 223,144.4 226,144.3 229,144.1 232,142 235,136 238,134 241,134 244,134 247,134 250,134 253,134 256,134 259,134 262,134 265,134 268,134 271,134 274,134 277,134 280,134 283,134 283,-5 76,-5" fill="#00FF33"/>
<polygon points="76,101 79,101 82,101 85,100.9 88,100.9 91,100.8 94,102.7 97,105.5 100,108.2 103,110.8 106,111.6 109,112.4 112,113.2 115,116.6 118,120.7 121,124.8 124,128.9 127,131.3 130,131.6 133,132 136,132.3 139,132.7 142,133.1 145,133.7 148,134.2 151,134.8 154,135.3 157,135.9 160,136.3 163,136.7 166,137.1 169,137.4 172,137.8 175,138.2 178,138.7 181,139.2 184,139.7 187,140.2 190,140.7 193,141.1 196,141.3 199,141.4 202,141.6 205,141.8 208,141.9 211,141.9 214,141.9 217,141.9 220,141.9 223,141.8 226,141.8 229,141.7 232,139.7 235,133.7 238,131.7 241,131.7 244,131.7 247,131.7 250,131.7 253,131.7 256,131.7 259,131.7 262,131.7 265,131.7 268,131.7 271,131.7 274,131.7 277,131.7 280,131.7 283,131.7 283,-5 76,-5" fill="#00FF15"/>
<polygon points="76,99.8 79,99.8 82,99.8 85,99.9 88,99.9 91,99.9 94,101.8 97,104.6 100,107.4 103,109.9 106,110.5 109,111.1 112,111.7 115,114.9 118,118.7 121,122.5 124,126.4 127,128.7 130,129 133,129.3 136,129.7 139,130.1 142,130.6 145,131.1 148,131.7 151,132.2 154,132.8 157,133.3 160,133.8 163,134.1 166,134.5 169,134.9 172,135.3 175,135.6 178,136.2 181,136.7 184,137.3 187,137.8 190,138.4 193,138.7 196,138.9 199,139.1 202,139.3 205,139.5 208,139.7 211,139.7 214,139.7 217,139.7 220,139.7 223,139.7 226,139.7 229,139.7 232,137.7 235,131.7 238,129.6 241,129.6 244,129.6 247,129.6 250,129.6 253,129.6 256,129.6 259,129.6 262,129.6 265,129.6 268,129.6 271,129.6 274,129.6 277,129.6 280,129.6 283,129.6 283,-5 76,-5" fill="#04FF00"/>
<polygon points="76,99.2 79,99.2 82,99.3 85,99.4 88,99.5 91,99.6 94,101.4 97,104.2 100,106.9 103,109.5 106,110 109,110.5 112,111 115,114 118,117.6 121,121.2 124,124.8 127,127.1 130,127.4 133,127.8 136,128.2 139,128.7 142,129.2 145,129.7 148,130.3 151,130.8 154,131.4 157,131.9 160,132.4 163,132.8 166,133.1 169,133.5 172,133.9 175,134.3 178,134.9 181,135.4 184,136 187,136.6 190,137.1 193,137.5 196,137.7 199,137.9 202,138.1 205,138.3 208,138.5 211,138.5 214,138.6 217,138.6 220,138.6 223,138.7 226,138.7 229,138.6 232,136.5 235,130.5 238,128.2 241,128 244,128 247,128 250,128 253,128 256,128 259,128 262,128 265,128 268,128 271,128 274,128 277,128 280,128 283,128 283,-5 76,-5" fill="#13FF00"/>
<polygon points="76,98.6 79,98.6 82,98.8 85,98.9 88,99.1 91,99.2 94,101.1 97,103.8 100,106.5 103,109 106,109.4 109,109.9 112,110.3 115,113.1 118,116.5 121,119.9 124,123.3 127,125.4 130,125.8 133,126.2 136,126.6 139,127.2 142,127.8 145,128.3 148,128.9 151,129.4 154,130 157,130.5 160,131 163,131.4 166,131.8 169,132.2 172,132.6 175,133 178,133.6 181,134.1 184,134.7 187,135.3 190,135.9 193,136.3 196,136.5 199,136.7 202,136.9 205,137.1 208,137.3 211,137.4 214,137.5 217,137.5 220,137.6 223,137.7 226,137.6 229,137.4 232,135.3 235,129.3 238,126.9 241,126.4 244,126.4 247,126.4 250,126.4 253,126.4 256,126.4 259,126.4 262,126.4 265,126.4 268,126.4 271,126.4 274,126.4 277,126.4 280,126.4 283,126.4 283,-5 76,-5" fill="#22FF00"/>
<polygon points="76,98 79,98 82,98.2 85,98.5 88,98.7 91,98.9 94,100.8 97,103.4 100,106.1 103,108.5 106,108.9 109,109.3 112,109.6 115,112.3 118,115.4 121,118.6 124,121.8 127,123.8 130,124.2 133,124.6 136,125.1 139,125.7 142,126.4 145,126.9 148,127.5 151,128 154,128.6 157,129.1 160,129.6 163,130 166,130.4 169,130.8 172,131.2 175,131.7 178,132.2 181,132.8 184,133.4 187,134 190,134.6 193,135 196,135.3 199,135.5 202,135.7 205,135.9 208,136.2 211,136.3 214,136.4 217,136.4 220,136.5 223,136.6 226,136.6 229,136.3 232,134.2 235,128.2 238,125.5 241,124.9 244,124.9 247,124.9 250,124.9 253,124.9 256,124.9 259,124.9 262,124.9 265,124.9 268,124.9 271,124.9 274,124.9 277,124.9 280,124.9 283,124.9 283,-5 76,-5" fill="#31FF00"/>
<polygon points="76,97.3 79,97.4 82,97.7 85,98 88,98.3 91,98.6 94,100.4 97,103 100,105.6 103,108 106,108.3 109,108.6 112,108.9 115,111.4 118,114.4 121,117.3 124,120.3 127,122.2 130,122.6 133,123 136,123.6 139,124.3 142,125 145,125.5 148,126.1 151,126.6 154,127.2 157,127.7 160,128.2 163,128.6 166,129.1 169,129.5 172,129.9 175,130.3 178,130.9 181,131.5 184,132.2 187,132.8 190,133.4 193,133.8 196,134 199,134.3 202,134.5 205,134.8 208,135 211,135.1 214,135.2 217,135.4 220,135.5 223,135.6 226,135.5 229,135.2 232,133 235,127 238,124.2 241,123.3 244,123.3 247,123.3 250,123.3 253,123.3 256,123.3 259,123.3 262,123.3 265,123.3 268,123.3 271,123.3 274,123.3 277,123.3 280,123.3 283,123.3 283,-5 76,-5" fill="#40FF00"/>
<polygon points="76,96.7 79,96.8 82,97.2 85,97.5 88,97.9 91,98.2 94,100.1 97,102.6 100,105.2 103,107.6 106,107.8 109,108 112,108.3 115,110.5 118,113.3 121,116 124,118.8 127,120.6 130,121 133,121.5 136,122 139,122.8 142,123.5 145,124.1 148,124.7 151,125.2 154,125.8 157,126.3 160,126.8 163,127.2 166,127.7 169,128.1 172,128.6 175,129 178,129.6 181,130.3 184,130.9 187,131.5 190,132.1 193,132.6 196,132.8 199,133.1 202,133.3 205,133.6 208,133.8 211,134 214,134.1 217,134.3 220,134.4 223,134.6 226,134.5 229,134.1 232,131.8 235,125.8 238,122.8 241,121.8 244,121.8 247,121.8 250,121.8 253,121.8 256,121.8 259,121.8 262,121.8 265,121.8 268,121.8 271,121.8 274,121.8 277,121.8 280,121.8 283,121.8 283,-5 76,-5" fill="#4FFF00"/>
<polygon points="76,96.1 79,96.2 82,96.6 85,97.1 88,97.5 91,97.9 94,99.7 97,102.3 100,104.8 103,107.1 106,107.2 109,107.4 112,107.6 115,109.6 118,112.2 121,114.7 124,117.3 127,118.9 130,119.4 133,119.9 136,120.5 139,121.3 142,122.1 145,122.7 148,123.3 151,123.8 154,124.4 157,124.9 160,125.4 163,125.9 166,126.3 169,126.8 172,127.2 175,127.7 178,128.3 181,129 184,129.6 187,130.2 190,130.9 193,131.3 196,131.6 199,131.9 202,132.1 205,132.4 208,132.7 211,132.9 214,133 217,133.2 220,133.4 223,133.6 226,133.4 229,133 232,130.7 235,124.7 238,121.4 241,120.2 244,120.2 247,120.2 250,120.2 253,120.2 256,120.2 259,120.2 262,120.2 265,120.2 268,120.2 271,120.2 274,120.2 277,120.2 280,120.2 283,120.2 283,-5 76,-5" fill="#5EFF00"/>
<polygon points="76,95.5 79,95.6 82,96.1 85,96.6 88,97.1 91,97.6 94,99.4 97,101.9 100,104.4 103,106.6 106,106.7 109,106.8 112,106.9 115,108.8 118,111.1 121,113.4 124,115.8 127,117.3 130,117.8 133,118.3 136,119 139,119.9 142,120.7 145,121.3 148,121.9 151,122.4 154,123 157,123.5 160,124 163,124.5 166,125 169,125.4 172,125.9 175,126.4 178,127 181,127.7 184,128.3 187,129 190,129.6 193,130.1 196,130.4 199,130.6 202,130.9 205,131.2 208,131.5 211,131.7 214,131.9 217,132.1 220,132.3 223,132.5 226,132.4 229,131.8 232,129.5 235,123.5 238,120.1 241,118.7 244,118.7 247,118.7 250,118.7 253,118.7 256,118.7 259,118.7 262,118.7 265,118.7 268,118.7 271,118.7 274,118.7 277,118.7 280,118.7 283,118.7 283,-5 76,-5" fill="#6DFF00"/>
<polygon points="76,94.8 79,95 82,95.6 85,96.1 88,96.7 91,97.2 94,99.1 97,101.5 100,103.9 103,106.1 106,106.2 109,106.2 112,106.2 115,107.9 118,110 121,112.1 124,114.3 127,115.7 130,116.2 133,116.8 136,117.4 139,118.4 142,119.3 145,119.9 148,120.5 151,121 154,121.6 157,122.1 160,122.6 163,123.1 166,123.6 169,124.1 172,124.6 175,125 178,125.7 181,126.4 184,127 187,127.7 190,128.4 193,128.8 196,129.1 199,129.4 202,129.7 205,130 208,130.3 211,130.6 214,130.8 217,131 220,131.3 223,131.5 226,131.3 229,130.7 232,128.3 235,122.3 238,118.7 241,117.1 244,117.1 247,117.1 250,117.1 253,117.1 256,117.1 259,117.1 262,117.1 265,117.1 268,117.1 271,117.1 274,117.1 277,117.1 280,117.1 283,117.1 283,-5 76,-5" fill="#7CFF00"/>
<polygon points="76,94.2 79,94.4 82,95 85,95.7 88,96.3 91,96.9 94,98.7 97,101.1 100,103.5 103,105.7 106,105.6 109,105.6 112,105.5 115,107 118,108.9 121,110.8 124,112.8 127,114.1 130,114.6 133,115.2 136,115.9 139,116.9 142,117.9 145,118.5 148,119.1 151,119.6 154,120.2 157,120.7 160,121.2 163,121.7 166,122.2 169,122.7 172,123.2 175,123.7 178,124.4 181,125.1 184,125.8 187,126.4 190,127.1 193,127.6 196,127.9 199,128.2 202,128.5 205,128.9 208,129.2 211,129.4 214,129.7 217,130 220,130.2 223,130.5 226,130.3 229,129.6 232,127.2 235,121.2 238,117.4 241,115.6 244,115.6 247,115.6 250,115.6 253,115.6 256,115.6 259,115.6 262,115.6 265,115.6 268,115.6 271,115.6 274,115.6 277,115.6 280,115.6 283,115.6 283,-5 76,-5" fill="#8BFF00"/>
<polygon points="76,93.6 79,93.8 82,94.5 85,95.2 88,95.9 91,96.6 94,98.4 97,100.7 100,103.1 103,105.2 106,105.1 109,104.9 112,104.8 115,106.2 118,107.9 121,109.5 124,111.2 127,112.5 130,113 133,113.6 136,114.4 139,115.4 142,116.5 145,117.1 148,117.7 151,118.2 154,118.8 157,119.3 160,119.8 163,120.4 166,120.9 169,121.4 172,121.9 175,122.4 178,123.1 181,123.8 184,124.5 187,125.2 190,125.9 193,126.4 196,126.7 199,127 202,127.4 205,127.7 208,128 211,128.3 214,128.6 217,128.9 220,129.2 223,129.5 226,129.2 229,128.5 232,126 235,120 238,116 241,114 244,114 247,114 250,114 253,114 256,114 259,114 262,114 265,114 268,114 271,114 274,114 277,114 280,114 283,114 283,-5 76,-5" fill="#9AFF00"/>
<polygon points="76,93 79,93.2 82,94 85,94.7 88,95.5 91,96.2 94,98 97,100.3 100,102.7 103,104.7 106,104.5 109,104.3 112,104.1 115,105.3 118,106.8 121,108.2 124,109.7 127,110.8 130,111.4 133,112 136,112.8 139,114 142,115.1 145,115.7 148,116.3 151,116.8 154,117.4 157,117.9 160,118.4 163,119 166,119.5 169,120 172,120.6 175,121.1 178,121.8 181,122.5 184,123.2 187,123.9 190,124.6 193,125.1 196,125.5 199,125.8 202,126.2 205,126.5 208,126.8 211,127.2 214,127.5 217,127.8 220,128.1 223,128.4 226,128.2 229,127.4 232,124.8 235,118.8 238,114.6 241,112.4 244,112.4 247,112.4 250,112.4 253,112.4 256,112.4 259,112.4 262,112.4 265,112.4 268,112.4 271,112.4 274,112.4 277,112.4 280,112.4 283,112.4 283,-5 76,-5" fill="#A9FF00"/>
<polygon points="76,92.4 79,92.6 82,93.4 85,94.3 88,95.1 91,95.9 94,97.7 97,100 100,102.2 103,104.2 106,104 109,103.7 112,103.5 115,104.4 118,105.7 121,106.9 124,108.2 127,109.2 130,109.8 133,110.5 136,111.3 139,112.5 142,113.7 145,114.3 148,114.9 151,115.4 154,116 157,116.5 160,117.1 163,117.6 166,118.1 169,118.7 172,119.2 175,119.8 178,120.5 181,121.2 184,121.9 187,122.6 190,123.4 193,123.9 196,124.2 199,124.6 202,125 205,125.3 208,125.7 211,126 214,126.4 217,126.7 220,127.1 223,127.4 226,127.1 229,126.2 232,123.7 235,117.7 238,113.3 241,110.9 244,110.9 247,110.9 250,110.9 253,110.9 256,110.9 259,110.9 262,110.9 265,110.9 268,110.9 271,110.9 274,110.9 277,110.9 280,110.9 283,110.9 283,-5 76,-5" fill="#B7FF00"/>
<polygon points="76,91.6 79,91.9 82,92.8 85,93.7 88,94.5 91,95.4 94,97.2 97,99.4 100,101.7 103,103.6 106,103.3 109,103 112,102.7 115,103.5 118,104.6 121,105.7 124,106.7 127,107.6 130,108.3 133,109 136,109.8 139,111.1 142,112.4 145,113 148,113.5 151,114.1 154,114.6 157,115.2 160,115.7 163,116.3 166,116.8 169,117.4 172,117.9 175,118.5 178,119.2 181,119.9 184,120.7 187,121.4 190,122.1 193,122.7 196,123 199,123.4 202,123.8 205,124.2 208,124.5 211,124.9 214,125.3 217,125.6 220,126 223,126.3 226,126 229,125.1 232,122.4 235,116.4 238,111.8 241,109.3 244,109.3 247,109.3 250,109.3 253,109.3 256,109.3 259,109.3 262,109.3 265,109.3 268,109.3 271,109.2 274,109.2 277,109.2 280,109.2 283,109.2 283,-5 76,-5" fill="#C2FF00"/>
<polygon points="76,90.7 79,91.1 82,92 85,92.9 88,93.8 91,94.7 94,96.5 97,98.7 100,100.9 103,102.8 106,102.5 109,102.2 112,101.9 115,102.6 118,103.5 121,104.4 124,105.2 127,106.1 130,106.8 133,107.5 136,108.5 139,109.8 142,111.2 145,111.8 148,112.3 151,112.9 154,113.4 157,114 160,114.5 163,115.1 166,115.6 169,116.2 172,116.7 175,117.2 178,118 181,118.7 184,119.4 187,120.2 190,120.9 193,121.4 196,121.8 199,122.2 202,122.6 205,123 208,123.4 211,123.8 214,124.1 217,124.5 220,124.8 223,125.2 226,124.8 229,123.8 232,121.1 235,115.1 238,110.3 241,107.5 244,107.5 247,107.6 250,107.6 253,107.6 256,107.6 259,107.6 262,107.6 265,107.5 268,107.5 271,107.5 274,107.5 277,107.5 280,107.5 283,107.5 283,-5 76,-5" fill="#C8FF00"/>
<polygon points="76,89.9 79,90.2 82,91.1 85,92.1 88,93 91,94 94,95.8 97,97.9 100,100.1 103,102.1 106,101.8 109,101.5 112,101.1 115,101.7 118,102.4 121,103.1 124,103.8 127,104.5 130,105.3 133,106.1 136,107.1 139,108.5 142,109.9 145,110.5 148,111.1 151,111.6 154,112.2 157,112.7 160,113.3 163,113.8 166,114.4 169,114.9 172,115.5 175,116 178,116.8 181,117.5 184,118.2 187,118.9 190,119.7 193,120.2 196,120.6 199,121 202,121.4 205,121.8 208,122.2 211,122.6 214,123 217,123.3 220,123.7 223,124.1 226,123.6 229,122.5 232,119.8 235,113.8 238,108.8 241,105.8 244,105.8 247,105.8 250,105.9 253,105.9 256,105.9 259,105.9 262,105.9 265,105.8 268,105.8 271,105.7 274,105.7 277,105.7 280,105.7 283,105.7 283,-5 76,-5" fill="#CDFF00"/>
<polygon points="76,89 79,89.3 82,90.3 85,91.3 88,92.3 91,93.3 94,95 97,97.2 100,99.4 103,101.3 106,101 109,100.7 112,100.4 115,100.7 118,101.2 121,101.8 124,102.3 127,103 130,103.8 133,104.6 136,105.7 139,107.2 142,108.7 145,109.3 148,109.9 151,110.4 154,111 157,111.5 160,112.1 163,112.6 166,113.2 169,113.7 172,114.3 175,114.8 178,115.5 181,116.3 184,117 187,117.7 190,118.4 193,119 196,119.4 199,119.9 202,120.3 205,120.7 208,121.1 211,121.5 214,121.8 217,122.2 220,122.6 223,122.9 226,122.5 229,121.3 232,118.5 235,112.5 238,107.2 241,104 244,104.1 247,104.1 250,104.2 253,104.3 256,104.3 259,104.2 262,104.2 265,104.1 268,104 271,104 274,104 277,104 280,104 283,104 283,-5 76,-5" fill="#D3FF00"/>
<polygon points="76,88.1 79,88.5 82,89.5 85,90.5 88,91.5 91,92.6 94,94.3 97,96.5 100,98.6 103,100.5 106,100.2 109,99.9 112,99.6 115,99.8 118,100.1 121,100.5 124,100.8 127,101.4 130,102.3 133,103.2 136,104.3 139,105.9 142,107.5 145,108.1 148,108.6 151,109.2 154,109.7 157,110.3 160,110.8 163,111.4 166,111.9 169,112.5 172,113 175,113.6 178,114.3 181,115 184,115.8 187,116.5 190,117.2 193,117.8 196,118.2 199,118.7 202,119.1 205,119.5 208,120 211,120.3 214,120.7 217,121.1 220,121.4 223,121.8 226,121.3 229,120 232,117.2 235,111.2 238,105.7 241,102.3 244,102.4 247,102.4 250,102.5 253,102.6 256,102.6 259,102.5 262,102.5 265,102.4 268,102.3 271,102.2 274,102.2 277,102.2 280,102.2 283,102.2 283,-5 76,-5" fill="#D8FF00"/>
<polygon points="76,87.2 79,87.6 82,88.7 85,89.7 88,90.8 91,91.8 94,93.6 97,95.7 100,97.8 103,99.7 106,99.4 109,99.1 112,98.8 115,98.9 118,99 121,99.2 124,99.4 127,99.9 130,100.8 133,101.8 136,102.9 139,104.6 142,106.2 145,106.9 148,107.4 151,108 154,108.5 157,109.1 160,109.6 163,110.2 166,110.7 169,111.3 172,111.8 175,112.3 178,113.1 181,113.8 184,114.5 187,115.3 190,116 193,116.6 196,117 199,117.5 202,117.9 205,118.4 208,118.8 211,119.2 214,119.6 217,119.9 220,120.3 223,120.7 226,120.1 229,118.8 232,115.9 235,109.9 238,104.2 241,100.5 244,100.6 247,100.7 250,100.8 253,100.9 256,100.9 259,100.8 262,100.8 265,100.7 268,100.6 271,100.5 274,100.5 277,100.5 280,100.5 283,100.5 283,-5 76,-5" fill="#DEFF00"/>
<polygon points="76,86.4 79,86.7 82,87.8 85,88.9 88,90 91,91.1 94,92.9 97,95 100,97.1 103,98.9 106,98.6 109,98.3 112,98 115,97.9 118,97.9 121,97.9 124,97.9 127,98.3 130,99.3 133,100.3 136,101.6 139,103.3 142,105 145,105.6 148,106.2 151,106.7 154,107.3 157,107.8 160,108.4 163,108.9 166,109.5 169,110 172,110.6 175,111.1 178,111.9 181,112.6 184,113.3 187,114 190,114.8 193,115.4 196,115.8 199,116.3 202,116.8 205,117.2 208,117.7 211,118.1 214,118.4 217,118.8 220,119.2 223,119.5 226,118.9 229,117.5 232,114.6 235,108.6 238,102.7 241,98.8 244,98.9 247,99 250,99.1 253,99.2 256,99.3 259,99.2 262,99 265,98.9 268,98.8 271,98.7 274,98.7 277,98.7 280,98.7 283,98.7 283,-5 76,-5" fill="#E3FF00"/>
<polygon points="76,85.5 79,85.9 82,87 85,88.1 88,89.3 91,90.4 94,92.2 97,94.2 100,96.3 103,98.1 106,97.8 109,97.5 112,97.2 115,97 118,96.8 121,96.6 124,96.4 127,96.8 130,97.8 133,98.9 136,100.2 139,102 142,103.8 145,104.4 148,105 151,105.5 154,106.1 157,106.6 160,107.2 163,107.7 166,108.3 169,108.8 172,109.4 175,109.9 178,110.6 181,111.4 184,112.1 187,112.8 190,113.5 193,114.1 196,114.6 199,115.1 202,115.6 205,116.1 208,116.6 211,116.9 214,117.3 217,117.7 220,118 223,118.4 226,117.7 229,116.2 232,113.2 235,107.2 238,101.1 241,97 244,97.2 247,97.3 250,97.4 253,97.6 256,97.6 259,97.5 262,97.3 265,97.2 268,97.1 271,97 274,97 277,97 280,97 283,97 283,-5 76,-5" fill="#E9FF00"/>
<polygon points="76,84.6 79,85 82,86.2 85,87.4 88,88.5 91,89.7 94,91.5 97,93.5 100,95.5 103,97.3 106,97 109,96.7 112,96.4 115,96.1 118,95.7 121,95.3 124,94.9 127,95.2 130,96.3 133,97.5 136,98.8 139,100.7 142,102.6 145,103.2 148,103.7 151,104.3 154,104.8 157,105.4 160,105.9 163,106.5 166,107 169,107.6 172,108.1 175,108.7 178,109.4 181,110.1 184,110.9 187,111.6 190,112.3 193,112.9 196,113.4 199,113.9 202,114.4 205,114.9 208,115.4 211,115.8 214,116.2 217,116.5 220,116.9 223,117.2 226,116.6 229,115 232,111.9 235,105.9 238,99.6 241,95.3 244,95.4 247,95.6 250,95.7 253,95.9 256,95.9 259,95.8 262,95.6 265,95.5 268,95.3 271,95.2 274,95.2 277,95.2 280,95.2 283,95.2 283,-5 76,-5" fill="#EEFF00"/>
<polygon points="76,83.7 79,84.2 82,85.4 85,86.6 88,87.8 91,89 94,90.7 97,92.8 100,94.8 103,96.5 106,96.2 109,95.9 112,95.6 115,95.1 118,94.6 121,94 124,93.5 127,93.7 130,94.8 133,96 136,97.4 139,99.4 142,101.3 145,102 148,102.5 151,103.1 154,103.6 157,104.2 160,104.7 163,105.3 166,105.8 169,106.4 172,106.9 175,107.4 178,108.2 181,108.9 184,109.6 187,110.4 190,111.1 193,111.7 196,112.2 199,112.7 202,113.3 205,113.8 208,114.3 211,114.7 214,115 217,115.4 220,115.7 223,116.1 226,115.4 229,113.7 232,110.6 235,104.6 238,98.1 241,93.6 244,93.7 247,93.9 250,94 253,94.2 256,94.3 259,94.1 262,93.9 265,93.8 268,93.6 271,93.5 274,93.5 277,93.5 280,93.5 283,93.5 283,-5 76,-5" fill="#F4FF00"/>
<polygon points="76,82.9 79,83.3 82,84.5 85,85.8 88,87 91,88.3 94,90 97,92 100,94 103,95.8 106,95.5 109,95.2 112,94.8 115,94.2 118,93.5 121,92.7 124,92 127,92.1 130,93.3 133,94.6 136,96.1 139,98.1 142,100.1 145,100.7 148,101.3 151,101.8 154,102.4 157,102.9 160,103.5 163,104 166,104.6 169,105.1 172,105.7 175,106.2 178,107 181,107.7 184,108.4 187,109.1 190,109.9 193,110.5 196,111 199,111.6 202,112.1 205,112.6 208,113.1 211,113.5 214,113.9 217,114.2 220,114.6 223,115 226,114.2 229,112.5 232,109.3 235,103.3 238,96.5 241,91.8 244,92 247,92.2 250,92.4 253,92.5 256,92.6 259,92.4 262,92.2 265,92.1 268,91.9 271,91.7 274,91.7 277,91.7 280,91.7 283,91.7 283,-5 76,-5" fill="#F9FF00"/>
<polygon points="76,82 79,82.4 82,83.7 85,85 88,86.3 91,87.6 94,89.3 97,91.3 100,93.2 103,95 106,94.7 109,94.4 112,94.1 115,93.3 118,92.4 121,91.4 124,90.5 127,90.6 130,91.8 133,93.1 136,94.7 139,96.8 142,98.9 145,99.5 148,100.1 151,100.6 154,101.2 157,101.7 160,102.3 163,102.8 166,103.4 169,103.9 172,104.5 175,105 178,105.7 181,106.5 184,107.2 187,107.9 190,108.6 193,109.3 196,109.8 199,110.4 202,110.9 205,111.5 208,112 211,112.4 214,112.7 217,113.1 220,113.5 223,113.8 226,113 229,111.2 232,108 235,102 238,95 241,90.1 244,90.3 247,90.5 250,90.7 253,90.9 256,90.9 259,90.7 262,90.5 265,90.3 268,90.1 271,90 274,90 277,90 280,90 283,90 283,-5 76,-5" fill="#FFFF00"/>
<polygon points="76,81 79,81.5 82,82.8 85,84.1 88,85.4 91,86.7 94,88.5 97,90.5 100,92.5 103,94.2 106,93.8 109,93.5 112,93.1 115,92 118,90.8 121,89.6 124,88.4 127,88.3 130,89.6 133,91 136,92.6 139,94.8 142,97 145,97.6 148,98.2 151,98.8 154,99.4 157,100 160,100.5 163,101.1 166,101.6 169,102.2 172,102.7 175,103.3 178,104 181,104.7 184,105.5 187,106.2 190,106.9 193,107.5 196,108.1 199,108.6 202,109.2 205,109.7 208,110.3 211,110.6 214,111 217,111.4 220,111.7 223,112.1 226,111.3 229,109.6 232,106.5 235,100.8 238,93.9 241,89 244,89.2 247,89.4 250,89.6 253,89.8 256,89.9 259,89.7 262,89.5 265,89.3 268,89.1 271,89 274,89 277,89 280,89 283,89 283,-5 76,-5" fill="#FFF700"/>
<polygon points="76,80 79,80.5 82,81.8 85,83.2 88,84.5 91,85.9 94,87.7 97,89.7 100,91.7 103,93.5 106,93 109,92.6 112,92.1 115,90.8 118,89.3 121,87.8 124,86.2 127,86 130,87.4 133,88.8 136,90.5 139,92.8 142,95.1 145,95.8 148,96.4 151,97 154,97.6 157,98.2 160,98.8 163,99.3 166,99.9 169,100.4 172,101 175,101.5 178,102.3 181,103 184,103.7 187,104.5 190,105.2 193,105.8 196,106.4 199,106.9 202,107.5 205,108 208,108.6 211,108.9 214,109.3 217,109.6 220,110 223,110.4 226,109.7 229,108 232,105 235,99.5 238,92.8 241,87.9 244,88.1 247,88.3 250,88.5 253,88.7 256,88.8 259,88.6 262,88.5 265,88.3 268,88.1 271,88 274,88 277,88 280,88 283,88 283,-5 76,-5" fill="#FFEF00"/>
<polygon points="76,79 79,79.5 82,80.9 85,82.3 88,83.7 91,85.1 94,86.9 97,88.9 100,90.9 103,92.7 106,92.2 109,91.7 112,91.1 115,89.6 118,87.8 121,85.9 124,84.1 127,83.7 130,85.2 133,86.6 136,88.4 139,90.8 142,93.2 145,93.9 148,94.6 151,95.2 154,95.8 157,96.5 160,97.1 163,97.6 166,98.2 169,98.7 172,99.3 175,99.8 178,100.5 181,101.3 184,102 187,102.7 190,103.4 193,104.1 196,104.6 199,105.2 202,105.7 205,106.3 208,106.8 211,107.2 214,107.6 217,107.9 220,108.3 223,108.6 226,108 229,106.4 232,103.6 235,98.3 238,91.7 241,86.9 244,87.1 247,87.3 250,87.5 253,87.7 256,87.7 259,87.6 262,87.4 265,87.3 268,87.1 271,87 274,87 277,87 280,87 283,87 283,-5 76,-5" fill="#FFE600"/>
<polygon points="76,78 79,78.5 82,79.9 85,81.4 88,82.8 91,84.2 94,86.1 97,88.1 100,90.2 103,92 106,91.4 109,90.8 112,90.2 115,88.3 118,86.2 121,84.1 124,82 127,81.4 130,82.9 133,84.4 136,86.3 139,88.8 142,91.3 145,92 148,92.7 151,93.4 154,94.1 157,94.7 160,95.3 163,95.9 166,96.4 169,97 172,97.5 175,98.1 178,98.8 181,99.5 184,100.3 187,101 190,101.7 193,102.4 196,102.9 199,103.5 202,104 205,104.6 208,105.1 211,105.5 214,105.8 217,106.2 220,106.5 223,106.9 226,106.3 229,104.8 232,102.1 235,97.1 238,90.6 241,85.8 244,86 247,86.2 250,86.4 253,86.6 256,86.7 259,86.5 262,86.4 265,86.3 268,86.1 271,86 274,86 277,86 280,86 283,86 283,-5 76,-5" fill="#FFDE00"/>
<polygon points="76,77.1 79,77.5 82,79 85,80.5 88,81.9 91,83.4 94,85.3 97,87.3 100,89.4 103,91.2 106,90.5 109,89.9 112,89.2 115,87.1 118,84.7 121,82.3 124,79.8 127,79.1 130,80.7 133,82.3 136,84.2 139,86.8 142,89.4 145,90.2 148,90.9 151,91.6 154,92.3 157,93 160,93.6 163,94.2 166,94.7 169,95.3 172,95.8 175,96.4 178,97.1 181,97.8 184,98.5 187,99.3 190,100 193,100.6 196,101.2 199,101.7 202,102.3 205,102.8 208,103.4 211,103.7 214,104.1 217,104.5 220,104.8 223,105.2 226,104.6 229,103.1 232,100.6 235,95.8 238,89.4 241,84.7 244,84.9 247,85.1 250,85.3 253,85.5 256,85.6 259,85.5 262,85.4 265,85.3 268,85.1 271,85.1 274,85.1 277,85.1 280,85.1 283,85.1 283,-5 76,-5" fill="#FFD600"/>
<polygon points="76,76.1 79,76.6 82,78.1 85,79.6 88,81.1 91,82.6 94,84.5 97,86.6 100,88.7 103,90.5 106,89.7 109,89 112,88.2 115,85.9 118,83.2 121,80.4 124,77.7 127,76.9 130,78.5 133,80.1 136,82.1 139,84.8 142,87.5 145,88.3 148,89 151,89.8 154,90.5 157,91.2 160,91.9 163,92.4 166,93 169,93.5 172,94.1 175,94.6 178,95.4 181,96.1 184,96.8 187,97.5 190,98.3 193,98.9 196,99.4 199,100 202,100.5 205,101.1 208,101.6 211,102 214,102.4 217,102.7 220,103.1 223,103.5 226,102.9 229,101.5 232,99.1 235,94.6 238,88.3 241,83.6 244,83.8 247,84 250,84.2 253,84.4 256,84.5 259,84.4 262,84.3 265,84.2 268,84.1 271,84.1 274,84.1 277,84.1 280,84.1 283,84.1 283,-5 76,-5" fill="#FFCD00"/>
<polygon points="76,75.1 79,75.6 82,77.1 85,78.7 88,80.2 91,81.7 94,83.7 97,85.8 100,87.9 103,89.7 106,88.9 109,88.1 112,87.2 115,84.7 118,81.6 121,78.6 124,75.6 127,74.6 130,76.2 133,77.9 136,79.9 139,82.8 142,85.6 145,86.5 148,87.2 151,88 154,88.7 157,89.5 160,90.2 163,90.7 166,91.2 169,91.8 172,92.3 175,92.9 178,93.6 181,94.3 184,95.1 187,95.8 190,96.5 193,97.2 196,97.7 199,98.3 202,98.8 205,99.4 208,99.9 211,100.3 214,100.6 217,101 220,101.4 223,101.7 226,101.2 229,99.9 232,97.6 235,93.4 238,87.2 241,82.6 244,82.8 247,83 250,83.2 253,83.4 256,83.5 259,83.4 262,83.3 265,83.2 268,83.1 271,83.1 274,83.1 277,83.1 280,83.1 283,83.1 283,-5 76,-5" fill="#FFC300"/>
<polygon points="76,74.1 79,74.6 82,76.2 85,77.8 88,79.3 91,80.9 94,82.8 97,85 100,87.1 103,89 106,88.1 109,87.2 112,86.3 115,83.4 118,80.1 121,76.8 124,73.4 127,72.3 130,74 133,75.7 136,77.8 139,80.7 142,83.7 145,84.6 148,85.4 151,86.2 154,87 157,87.7 160,88.4 163,89 166,89.5 169,90.1 172,90.6 175,91.2 178,91.9 181,92.6 184,93.3 187,94.1 190,94.8 193,95.4 196,96 199,96.5 202,97.1 205,97.6 208,98.2 211,98.5 214,98.9 217,99.3 220,99.6 223,100 226,99.5 229,98.3 232,96.1 235,92.1 238,86.1 241,81.5 244,81.7 247,81.9 250,82.1 253,82.3 256,82.4 259,82.3 262,82.3 265,82.2 268,82.1 271,82.1 274,82.1 277,82.1 280,82.1 283,82.1 283,-5 76,-5" fill="#FFB900"/>
<polygon points="76,73.1 79,73.6 82,75.2 85,76.8 88,78.5 91,80.1 94,82 97,84.2 100,86.4 103,88.2 106,87.3 109,86.3 112,85.3 115,82.2 118,78.6 121,74.9 124,71.3 127,70 130,71.8 133,73.6 136,75.7 139,78.7 142,81.8 145,82.7 148,83.5 151,84.4 154,85.2 157,86 160,86.7 163,87.2 166,87.8 169,88.3 172,88.9 175,89.4 178,90.2 181,90.9 184,91.6 187,92.3 190,93.1 193,93.7 196,94.3 199,94.8 202,95.4 205,95.9 208,96.4 211,96.8 214,97.2 217,97.5 220,97.9 223,98.3 226,97.8 229,96.7 232,94.7 235,90.9 238,85 241,80.4 244,80.6 247,80.8 250,81 253,81.2 256,81.3 259,81.3 262,81.2 265,81.2 268,81.1 271,81.1 274,81.1 277,81.1 280,81.1 283,81.1 283,-5 76,-5" fill="#FFAF00"/>
<polygon points="76,72.1 79,72.7 82,74.3 85,75.9 88,77.6 91,79.2 94,81.2 97,83.4 100,85.6 103,87.5 106,86.4 109,85.4 112,84.3 115,81 118,77 121,73.1 124,69.2 127,67.7 130,69.6 133,71.4 136,73.6 139,76.7 142,79.9 145,80.9 148,81.7 151,82.6 154,83.4 157,84.3 160,85 163,85.5 166,86.1 169,86.6 172,87.2 175,87.7 178,88.4 181,89.2 184,89.9 187,90.6 190,91.3 193,92 196,92.5 199,93.1 202,93.6 205,94.2 208,94.7 211,95.1 214,95.4 217,95.8 220,96.2 223,96.5 226,96.1 229,95.1 232,93.2 235,89.6 238,83.9 241,79.4 244,79.6 247,79.8 250,80 253,80.2 256,80.3 259,80.2 262,80.2 265,80.2 268,80.1 271,80.1 274,80.1 277,80.1 280,80.1 283,80.1 283,-5 76,-5" fill="#FFA500"/>
<polygon points="76,71.1 79,71.7 82,73.4 85,75 88,76.7 91,78.4 94,80.4 97,82.6 100,84.9 103,86.7 106,85.6 109,84.5 112,83.4 115,79.7 118,75.5 121,71.3 124,67 127,65.4 130,67.3 133,69.2 136,71.5 139,74.7 142,78 145,79 148,79.9 151,80.7 154,81.6 157,82.5 160,83.2 163,83.8 166,84.3 169,84.9 172,85.4 175,86 178,86.7 181,87.4 184,88.2 187,88.9 190,89.6 193,90.3 196,90.8 199,91.3 202,91.9 205,92.4 208,93 211,93.4 214,93.7 217,94.1 220,94.4 223,94.8 226,94.4 229,93.5 232,91.7 235,88.4 238,82.8 241,78.3 244,78.5 247,78.7 250,78.9 253,79.1 256,79.2 259,79.2 262,79.2 265,79.2 268,79.1 271,79.1 274,79.1 277,79.1 280,79.1 283,79.1 283,-5 76,-5" fill="#FF9B00"/>
<polygon points="76,70.1 79,70.7 82,72.4 85,74.1 88,75.8 91,77.5 94,79.6 97,81.9 100,84.1 103,86 106,84.8 109,83.6 112,82.4 115,78.5 118,74 121,69.4 124,64.9 127,63.2 130,65.1 133,67 136,69.4 139,72.7 142,76 145,77.1 148,78 151,78.9 154,79.9 157,80.8 160,81.5 163,82.1 166,82.6 169,83.1 172,83.7 175,84.2 178,85 181,85.7 184,86.4 187,87.2 190,87.9 193,88.5 196,89.1 199,89.6 202,90.2 205,90.7 208,91.3 211,91.6 214,92 217,92.4 220,92.7 223,93.1 226,92.8 229,91.8 232,90.2 235,87.2 238,81.7 241,77.2 244,77.4 247,77.6 250,77.8 253,78 256,78.2 259,78.1 262,78.1 265,78.1 268,78.1 271,78.1 274,78.1 277,78.1 280,78.1 283,78.1 283,-5 76,-5" fill="#FF9100"/>
<polygon points="76,69.4 79,69.9 82,71.7 85,73.4 88,75.2 91,76.9 94,79 97,81.2 100,83.5 103,85.4 106,84.2 109,83 112,81.8 115,77.8 118,73.1 121,68.4 124,63.8 127,61.9 130,63.8 133,65.7 136,68.1 139,71.6 142,75 145,76.1 148,77.1 151,78.1 154,79 157,80 160,80.8 163,81.3 166,81.8 169,82.4 172,82.9 175,83.5 178,84.2 181,84.9 184,85.6 187,86.4 190,87.1 193,87.7 196,88.3 199,88.8 202,89.4 205,90 208,90.5 211,90.9 214,91.2 217,91.6 220,92 223,92.3 226,92 229,91.1 232,89.5 235,86.5 238,80.9 241,76.4 244,76.6 247,76.8 250,77 253,77.2 256,77.3 259,77.3 262,77.3 265,77.3 268,77.3 271,77.2 274,77.2 277,77.2 280,77.2 283,77.2 283,-5 76,-5" fill="#FF8500"/>
<polygon points="76,68.6 79,69.2 82,71 85,72.8 88,74.5 91,76.3 94,78.4 97,80.6 100,82.9 103,84.8 106,83.6 109,82.4 112,81.3 115,77.2 118,72.4 121,67.6 124,62.8 127,60.9 130,62.7 133,64.6 136,67 139,70.6 142,74.1 145,75.3 148,76.3 151,77.3 154,78.3 157,79.4 160,80.2 163,80.7 166,81.3 169,81.8 172,82.4 175,82.9 178,83.6 181,84.3 184,85 187,85.7 190,86.4 193,87.1 196,87.6 199,88.2 202,88.8 205,89.4 208,89.9 211,90.3 214,90.6 217,91 220,91.4 223,91.7 226,91.5 229,90.6 232,89 235,85.9 238,80.2 241,75.6 244,75.8 247,76 250,76.2 253,76.4 256,76.5 259,76.5 262,76.4 265,76.4 268,76.4 271,76.4 274,76.4 277,76.4 280,76.4 283,76.4 283,-5 76,-5" fill="#FF7900"/>
<polygon points="76,67.9 79,68.5 82,70.3 85,72.1 88,73.9 91,75.7 94,77.8 97,80.1 100,82.3 103,84.2 106,83.1 109,81.9 112,80.8 115,76.6 118,71.7 121,66.8 124,61.8 127,59.8 130,61.6 133,63.4 136,65.9 139,69.5 142,73.2 145,74.5 148,75.5 151,76.6 154,77.7 157,78.7 160,79.6 163,80.1 166,80.7 169,81.2 172,81.8 175,82.3 178,83 181,83.7 184,84.4 187,85.1 190,85.8 193,86.4 196,87 199,87.6 202,88.2 205,88.7 208,89.3 211,89.7 214,90.1 217,90.4 220,90.8 223,91.1 226,90.9 229,90.1 232,88.5 235,85.4 238,79.5 241,74.8 244,75 247,75.2 250,75.4 253,75.6 256,75.7 259,75.6 262,75.6 265,75.5 268,75.5 271,75.5 274,75.5 277,75.5 280,75.5 283,75.5 283,-5 76,-5" fill="#FF6C00"/>
<polygon points="76,67.2 79,67.8 82,69.6 85,71.4 88,73.3 91,75.1 94,77.2 97,79.5 100,81.7 103,83.6 106,82.5 109,81.4 112,80.2 115,76 118,70.9 121,65.9 124,60.9 127,58.8 130,60.5 133,62.3 136,64.7 139,68.5 142,72.3 145,73.6 148,74.8 151,75.9 154,77 157,78.1 160,79 163,79.5 166,80.1 169,80.6 172,81.2 175,81.7 178,82.4 181,83.1 184,83.8 187,84.4 190,85.1 193,85.7 196,86.3 199,86.9 202,87.5 205,88.1 208,88.7 211,89.1 214,89.5 217,89.8 220,90.2 223,90.6 226,90.3 229,89.5 232,88 235,84.8 238,78.8 241,73.9 244,74.1 247,74.3 250,74.5 253,74.7 256,74.9 259,74.8 262,74.7 265,74.7 268,74.6 271,74.6 274,74.6 277,74.6 280,74.6 283,74.6 283,-5 76,-5" fill="#FF6000"/>
<polygon points="76,66.4 79,67 82,68.9 85,70.8 88,72.6 91,74.5 94,76.6 97,78.9 100,81.1 103,83 106,81.9 109,80.8 112,79.7 115,75.4 118,70.2 121,65.1 124,59.9 127,57.7 130,59.4 133,61.1 136,63.6 139,67.5 142,71.4 145,72.8 148,74 151,75.2 154,76.3 157,77.5 160,78.4 163,78.9 166,79.5 169,80 172,80.6 175,81.1 178,81.8 181,82.5 184,83.1 187,83.8 190,84.4 193,85.1 196,85.7 199,86.3 202,86.9 205,87.5 208,88.1 211,88.5 214,88.9 217,89.2 220,89.6 223,90 226,89.7 229,89 232,87.4 235,84.2 238,78.1 241,73.1 244,73.3 247,73.5 250,73.7 253,73.9 256,74 259,74 262,73.9 265,73.8 268,73.8 271,73.7 274,73.7 277,73.7 280,73.7 283,73.7 283,-5 76,-5" fill="#FF5400"/>
<polygon points="76,65.7 79,66.3 82,68.2 85,70.1 88,72 91,73.9 94,76 97,78.3 100,80.5 103,82.4 106,81.4 109,80.3 112,79.2 115,74.8 118,69.5 121,64.2 124,58.9 127,56.7 130,58.3 133,60 136,62.4 139,66.5 142,70.6 145,72 148,73.2 151,74.4 154,75.7 157,76.9 160,77.8 163,78.4 166,78.9 169,79.4 172,80 175,80.5 178,81.2 181,81.8 184,82.5 187,83.1 190,83.8 193,84.4 196,85.1 199,85.7 202,86.3 205,86.9 208,87.6 211,87.9 214,88.3 217,88.7 220,89 223,89.4 226,89.2 229,88.5 232,86.9 235,83.6 238,77.4 241,72.3 244,72.5 247,72.7 250,72.9 253,73.1 256,73.2 259,73.1 262,73.1 265,73 268,72.9 271,72.8 274,72.8 277,72.8 280,72.8 283,72.8 283,-5 76,-5" fill="#FF4700"/>
<polygon points="76,64.9 79,65.6 82,67.5 85,69.5 88,71.4 91,73.3 94,75.5 97,77.7 100,79.9 103,81.9 106,80.8 109,79.7 112,78.7 115,74.2 118,68.8 121,63.4 124,58 127,55.6 130,57.2 133,58.8 136,61.3 139,65.5 142,69.7 145,71.1 148,72.4 151,73.7 154,75 157,76.3 160,77.2 163,77.8 166,78.3 169,78.9 172,79.4 175,80 178,80.6 181,81.2 184,81.9 187,82.5 190,83.1 193,83.8 196,84.4 199,85.1 202,85.7 205,86.3 208,87 211,87.3 214,87.7 217,88.1 220,88.4 223,88.8 226,88.6 229,87.9 232,86.4 235,83.1 238,76.7 241,71.5 244,71.7 247,71.9 250,72.1 253,72.3 256,72.4 259,72.3 262,72.2 265,72.1 268,72 271,71.9 274,71.9 277,71.9 280,71.9 283,71.9 283,-5 76,-5" fill="#FF3C00"/>
<polygon points="76,64.2 79,64.9 82,66.8 85,68.8 88,70.8 91,72.7 94,74.9 97,77.1 100,79.3 103,81.3 106,80.2 109,79.2 112,78.2 115,73.5 118,68 121,62.5 124,57 127,54.6 130,56.1 133,57.7 136,60.2 139,64.5 142,68.8 145,70.3 148,71.6 151,73 154,74.3 157,75.7 160,76.6 163,77.2 166,77.7 169,78.3 172,78.8 175,79.4 178,80 181,80.6 184,81.2 187,81.9 190,82.5 193,83.1 196,83.8 199,84.4 202,85.1 205,85.7 208,86.4 211,86.7 214,87.1 217,87.5 220,87.8 223,88.2 226,88 229,87.4 232,85.8 235,82.5 238,76 241,70.7 244,70.9 247,71.1 250,71.3 253,71.5 256,71.6 259,71.5 262,71.4 265,71.2 268,71.1 271,71.1 274,71.1 277,71.1 280,71.1 283,71.1 283,-5 76,-5" fill="#FF3300"/>
<polygon points="76,63.5 79,64.1 82,66.1 85,68.1 88,70.1 91,72.1 94,74.3 97,76.5 100,78.8 103,80.7 106,79.7 109,78.6 112,77.6 115,72.9 118,67.3 121,61.7 124,56.1 127,53.5 130,55 133,56.5 136,59 139,63.5 142,67.9 145,69.5 148,70.9 151,72.3 154,73.6 157,75 160,76 163,76.6 166,77.1 169,77.7 172,78.2 175,78.8 178,79.4 181,80 184,80.6 187,81.2 190,81.8 193,82.5 196,83.1 199,83.8 202,84.5 205,85.1 208,85.8 211,86.2 214,86.5 217,86.9 220,87.2 223,87.6 226,87.5 229,86.8 232,85.3 235,81.9 238,75.3 241,69.9 244,70.1 247,70.3 250,70.5 253,70.7 256,70.8 259,70.6 262,70.5 265,70.4 268,70.3 271,70.2 274,70.2 277,70.2 280,70.2 283,70.2 283,-5 76,-5" fill="#FF2A00"/>
<polygon points="76,62.7 79,63.4 82,65.4 85,67.5 88,69.5 91,71.5 94,73.7 97,75.9 100,78.2 103,80.1 106,79.1 109,78.1 112,77.1 115,72.3 118,66.6 121,60.8 124,55.1 127,52.5 130,53.9 133,55.4 136,57.9 139,62.4 142,67 145,68.6 148,70.1 151,71.5 154,73 157,74.4 160,75.4 163,76 166,76.5 169,77.1 172,77.6 175,78.2 178,78.8 181,79.4 184,80 187,80.6 190,81.2 193,81.8 196,82.5 199,83.2 202,83.8 205,84.5 208,85.2 211,85.6 214,85.9 217,86.3 220,86.7 223,87 226,86.9 229,86.3 232,84.8 235,81.3 238,74.6 241,69.1 244,69.3 247,69.5 250,69.7 253,69.9 256,70 259,69.8 262,69.7 265,69.5 268,69.4 271,69.3 274,69.3 277,69.3 280,69.3 283,69.3 283,-5 76,-5" fill="#FF2100"/>
<polygon points="76,62 79,62.7 82,64.7 85,66.8 88,68.9 91,70.9 94,73.1 97,75.3 100,77.6 103,79.5 106,78.5 109,77.6 112,76.6 115,71.7 118,65.8 121,60 124,54.1 127,51.4 130,52.8 133,54.3 136,56.8 139,61.4 142,66.1 145,67.8 148,69.3 151,70.8 154,72.3 157,73.8 160,74.9 163,75.4 166,76 169,76.5 172,77.1 175,77.6 178,78.2 181,78.8 184,79.3 187,79.9 190,80.5 193,81.1 196,81.8 199,82.5 202,83.2 205,83.9 208,84.6 211,85 214,85.3 217,85.7 220,86.1 223,86.4 226,86.3 229,85.8 232,84.2 235,80.8 238,73.9 241,68.3 244,68.5 247,68.7 250,68.9 253,69.1 256,69.1 259,69 262,68.8 265,68.7 268,68.5 271,68.4 274,68.4 277,68.4 280,68.4 283,68.4 283,-5 76,-5" fill="#FF1800"/>
<polygon points="76,61.3 79,62 82,64 85,66.1 88,68.2 91,70.3 94,72.5 97,74.7 100,77 103,78.9 106,78 109,77 112,76.1 115,71.1 118,65.1 121,59.1 124,53.2 127,50.4 130,51.7 133,53.1 136,55.6 139,60.4 142,65.2 145,67 148,68.5 151,70.1 154,71.6 157,73.2 160,74.3 163,74.8 166,75.4 169,75.9 172,76.5 175,77 178,77.6 181,78.1 184,78.7 187,79.3 190,79.9 193,80.5 196,81.2 199,81.9 202,82.6 205,83.3 208,84 211,84.4 214,84.7 217,85.1 220,85.5 223,85.8 226,85.7 229,85.2 232,83.7 235,80.2 238,73.2 241,67.5 244,67.7 247,67.9 250,68.1 253,68.3 256,68.3 259,68.2 262,68 265,67.8 268,67.6 271,67.5 274,67.5 277,67.5 280,67.5 283,67.5 283,-5 76,-5" fill="#FF0F00"/>
<polygon points="76,60.5 79,61.2 82,63.4 85,65.5 88,67.6 91,69.7 94,71.9 97,74.2 100,76.4 103,78.3 106,77.4 109,76.5 112,75.6 115,70.5 118,64.4 121,58.3 124,52.2 127,49.3 130,50.6 133,52 136,54.5 139,59.4 142,64.3 145,66.1 148,67.7 151,69.3 154,71 157,72.6 160,73.7 163,74.2 166,74.8 169,75.3 172,75.9 175,76.4 178,77 181,77.5 184,78.1 187,78.6 190,79.2 193,79.8 196,80.6 199,81.3 202,82 205,82.7 208,83.4 211,83.8 214,84.2 217,84.5 220,84.9 223,85.3 226,85.2 229,84.7 232,83.2 235,79.6 238,72.5 241,66.6 244,66.8 247,67 250,67.2 253,67.4 256,67.5 259,67.3 262,67.1 265,66.9 268,66.8 271,66.6 274,66.6 277,66.6 280,66.6 283,66.6 283,-5 76,-5" fill="#FF0600"/>
<polygon points="76,59.7 79,60.4 82,62.6 85,64.7 88,66.8 91,69 94,71.2 97,73.4 100,75.7 103,77.6 106,76.7 109,75.8 112,74.9 115,69.8 118,63.6 121,57.4 124,51.2 127,48.3 130,49.5 133,50.8 136,53.4 139,58.4 142,63.4 145,65.3 148,66.8 151,68.4 154,70 157,71.5 160,72.6 163,73.1 166,73.6 169,74.1 172,74.7 175,75.2 178,75.7 181,76.3 184,76.8 187,77.4 190,77.9 193,78.6 196,79.3 199,80.1 202,80.8 205,81.6 208,82.3 211,82.7 214,83.1 217,83.5 220,83.8 223,84.2 226,84.2 229,83.7 232,82.3 235,78.7 238,71.6 241,65.8 244,66 247,66.2 250,66.4 253,66.6 256,66.7 259,66.5 262,66.3 265,66 268,65.8 271,65.7 274,65.7 277,65.7 280,65.7 283,65.7 283,-5 76,-5" fill="#FF0000"/>
<polygon points="76,58.6 79,59.4 82,61.5 85,63.6 88,65.8 91,67.9 94,70.1 97,72.4 100,74.6 103,76.6 106,75.6 109,74.7 112,73.8 115,68.7 118,62.5 121,56.3 124,50.2 127,47.2 130,48.5 133,49.8 136,52.3 139,57.5 142,62.6 145,64.3 148,65.6 151,66.9 154,68.2 157,69.4 160,70.3 163,70.6 166,70.9 169,71.3 172,71.8 175,72.4 178,72.9 181,73.5 184,74.1 187,74.6 190,75.2 193,75.9 196,76.6 199,77.5 202,78.3 205,79.1 208,79.9 211,80.4 214,80.8 217,81.2 220,81.6 223,82.1 226,82.1 229,81.7 232,80.3 235,77 238,70.4 241,64.9 244,65.2 247,65.4 250,65.7 253,65.9 256,66 259,65.7 262,65.3 265,65 268,64.8 271,64.6 274,64.6 277,64.6 280,64.6 283,64.6 283,-5 76,-5" fill="#FF0000"/>
<polygon points="76,57.6 79,58.3 82,60.5 85,62.6 88,64.7 91,66.9 94,69.1 97,71.3 100,73.6 103,75.5 106,74.6 109,73.7 112,72.8 115,67.7 118,61.5 121,55.3 124,49.1 127,46.2 130,47.4 133,48.7 136,51.3 139,56.6 142,61.8 145,63.4 148,64.5 151,65.4 154,66.3 157,67.4 160,68 163,68.1 166,68.3 169,68.6 172,69 175,69.5 178,70.1 181,70.7 184,71.3 187,71.8 190,72.4 193,73.1 196,74 199,74.8 202,75.7 205,76.6 208,77.5 211,78 214,78.5 217,79 220,79.5 223,79.9 226,80 229,79.7 232,78.4 235,75.4 238,69.2 241,64.1 244,64.4 247,64.6 250,64.9 253,65.1 256,65.2 259,64.8 262,64.4 265,63.9 268,63.7 271,63.6 274,63.6 277,63.6 280,63.6 283,63.6 283,-5 76,-5" fill="#FF0000"/>
<polygon points="76,56.5 79,57.3 82,59.4 85,61.5 88,63.7 91,65.8 94,68 97,70.3 100,72.5 103,74.5 106,73.5 109,72.6 112,71.7 115,66.6 118,60.4 121,54.2 124,48.1 127,45.1 130,46.4 133,47.7 136,50.2 139,55.8 142,60.9 145,62.4 148,63.3 151,63.9 154,64.5 157,65.3 160,65.7 163,65.6 166,65.6 169,65.8 172,66.2 175,66.7 178,67.3 181,67.9 184,68.5 187,69.1 190,69.6 193,70.4 196,71.3 199,72.2 202,73.2 205,74.2 208,75.1 211,75.7 214,76.2 217,76.7 220,77.3 223,77.8 226,77.9 229,77.7 232,76.5 235,73.7 238,67.9 241,63.2 244,63.5 247,63.9 250,64.1 253,64.3 256,64.4 259,64 262,63.4 265,62.9 268,62.7 271,62.5 274,62.5 277,62.5 280,62.5 283,62.5 283,-5 76,-5" fill="#FF0000"/>
<polygon points="76,55.5 79,56.2 82,58.4 85,60.5 88,62.6 91,64.8 94,67 97,69.2 100,71.5 103,73.4 106,72.5 109,71.6 112,70.7 115,65.6 118,59.4 121,53.2 124,47 127,44.1 130,45.3 133,46.6 136,49.2 139,54.9 142,60.1 145,61.5 148,62.1 151,62.4 154,62.7 157,63.2 160,63.3 163,63.1 166,63 169,63.1 172,63.4 175,63.9 178,64.4 181,65.1 184,65.7 187,66.3 190,66.9 193,67.7 196,68.6 199,69.6 202,70.6 205,71.7 208,72.6 211,73.3 214,73.9 217,74.5 220,75.1 223,75.6 226,75.8 229,75.6 232,74.6 235,72 238,66.7 241,62.3 244,62.7 247,63.1 250,63.3 253,63.6 256,63.7 259,63.2 262,62.5 265,61.8 268,61.6 271,61.5 274,61.5 277,61.5 280,61.5 283,61.5 283,-5 76,-5" fill="#FF0000"/>
<polygon points="76,54.4 79,55.2 82,57.3 85,59.4 88,61.6 91,63.7 94,65.9 97,68.2 100,70.4 103,72.4 106,71.4 109,70.5 112,69.6 115,64.5 118,58.3 121,52.1 124,46 127,43 130,44.3 133,45.6 136,48.1 139,54 142,59.2 145,60.6 148,60.9 151,60.8 154,60.9 157,61.1 160,61 163,60.6 166,60.3 169,60.3 172,60.6 175,61 178,61.6 181,62.3 184,62.9 187,63.5 190,64.1 193,65 196,65.9 199,67 202,68.1 205,69.2 208,70.2 211,71 214,71.6 217,72.3 220,72.9 223,73.5 226,73.8 229,73.6 232,72.7 235,70.3 238,65.4 241,61.5 244,61.9 247,62.3 250,62.6 253,62.8 256,62.9 259,62.3 262,61.5 265,60.8 268,60.6 271,60.4 274,60.4 277,60.4 280,60.4 283,60.4 283,-5 76,-5" fill="#FF0000"/>
<polygon points="76,53.4 79,54.1 82,56.3 85,58.4 88,60.5 91,62.7 94,64.9 97,67.1 100,69.4 103,71.3 106,70.4 109,69.5 112,68.6 115,63.5 118,57.3 121,51.1 124,44.9 127,42 130,43.2 133,44.5 136,47.1 139,53.1 142,58.4 145,59.6 148,59.7 151,59.3 154,59.1 157,59 160,58.7 163,58.1 166,57.7 169,57.5 172,57.8 175,58.2 178,58.8 181,59.5 184,60.1 187,60.7 190,61.3 193,62.2 196,63.2 199,64.3 202,65.5 205,66.7 208,67.8 211,68.7 214,69.4 217,70 220,70.7 223,71.3 226,71.7 229,71.6 232,70.8 235,68.7 238,64.2 241,60.6 244,61 247,61.5 250,61.8 253,62 256,62.2 259,61.5 262,60.6 265,59.7 268,59.5 271,59.4 274,59.4 277,59.4 280,59.4 283,59.4 283,-5 76,-5" fill="#FF0000"/>
<polygon points="76,52.3 79,53.1 82,55.2 85,57.3 88,59.5 91,61.6 94,63.8 97,66.1 100,68.3 103,70.3 106,69.3 109,68.4 112,67.5 115,62.4 118,56.2 121,50 124,43.9 127,40.9 130,42.2 133,43.5 136,46 139,52.2 142,57.6 145,58.7 148,58.5 151,57.8 154,57.3 157,57 160,56.4 163,55.6 166,55 169,54.8 172,55 175,55.4 178,56 181,56.7 184,57.3 187,58 190,58.6 193,59.5 196,60.5 199,61.7 202,63 205,64.3 208,65.4 211,66.3 214,67.1 217,67.8 220,68.5 223,69.2 226,69.6 229,69.6 232,68.9 235,67 238,63 241,59.7 244,60.2 247,60.7 250,61 253,61.2 256,61.4 259,60.7 262,59.7 265,58.7 268,58.5 271,58.3 274,58.3 277,58.3 280,58.3 283,58.3 283,-5 76,-5" fill="#FF0000"/>
<polygon points="76,51.3 79,52 82,54.2 85,56.3 88,58.4 91,60.6 94,62.8 97,65 100,67.3 103,69.2 106,68.3 109,67.4 112,66.5 115,61.4 118,55.2 121,49 124,42.8 127,39.9 130,41.1 133,42.4 136,45 139,51.3 142,56.7 145,57.7 148,57.3 151,56.3 154,55.5 157,54.9 160,54.1 163,53.1 166,52.4 169,52 172,52.2 175,52.5 178,53.1 181,53.9 184,54.5 187,55.2 190,55.8 193,56.8 196,57.9 199,59.1 202,60.5 205,61.8 208,63 211,64 214,64.8 217,65.5 220,66.3 223,67 226,67.5 229,67.6 232,67 235,65.3 238,61.7 241,58.8 244,59.4 247,59.9 250,60.2 253,60.5 256,60.7 259,59.8 262,58.7 265,57.6 268,57.4 271,57.3 274,57.3 277,57.3 280,57.3 283,57.3 283,-5 76,-5" fill="#FF0000"/>
<polygon points="76,50.2 79,51 82,53.1 85,55.2 88,57.4 91,59.5 94,61.7 97,64 100,66.2 103,68.2 106,67.2 109,66.3 112,65.4 115,60.3 118,54.1 121,47.9 124,41.8 127,38.8 130,40.1 133,41.4 136,43.9 139,50.5 142,55.9 145,56.8 148,56.1 151,54.8 154,53.7 157,52.8 160,51.8 163,50.6 166,49.8 169,49.2 172,49.4 175,49.7 178,50.3 181,51.1 184,51.8 187,52.4 190,53 193,54.1 196,55.2 199,56.5 202,57.9 205,59.3 208,60.6 211,61.6 214,62.5 217,63.3 220,64.1 223,64.9 226,65.4 229,65.5 232,65.1 235,63.6 238,60.5 241,58 244,58.5 247,59.1 250,59.5 253,59.7 256,59.9 259,59 262,57.8 265,56.6 268,56.4 271,56.2 274,56.2 277,56.2 280,56.2 283,56.2 283,-5 76,-5" fill="#FF0000"/>
<polygon points="76,49.2 79,49.9 82,52.1 85,54.2 88,56.3 91,58.5 94,60.7 97,62.9 100,65.2 103,67.1 106,66.2 109,65.3 112,64.4 115,59.3 118,53.1 121,46.9 124,40.7 127,37.8 130,39 133,40.3 136,42.9 139,49.6 142,55.1 145,55.9 148,54.9 151,53.3 154,51.9 157,50.7 160,49.5 163,48 166,47.1 169,46.5 172,46.6 175,46.9 178,47.5 181,48.3 184,49 187,49.6 190,50.2 193,51.3 196,52.5 199,53.8 202,55.4 205,56.8 208,58.1 211,59.3 214,60.2 217,61.1 220,61.9 223,62.7 226,63.3 229,63.5 232,63.2 235,62 238,59.2 241,57.1 244,57.7 247,58.3 250,58.7 253,58.9 256,59.1 259,58.2 262,56.8 265,55.5 268,55.3 271,55.2 274,55.2 277,55.2 280,55.2 283,55.2 283,-5 76,-5" fill="#FF0000"/>
<polygon points="76,48.1 79,48.9 82,51 85,53.1 88,55.3 91,57.4 94,59.6 97,61.9 100,64.1 103,66.1 106,65.1 109,64.2 112,63.3 115,58.2 118,52 121,45.8 124,39.7 127,36.7 130,38 133,39.3 136,41.8 139,48.7 142,54.2 145,54.9 148,53.7 151,51.8 154,50.1 157,48.6 160,47.2 163,45.5 166,44.5 169,43.7 172,43.8 175,44 178,44.7 181,45.5 184,46.2 187,46.9 190,47.5 193,48.6 196,49.8 199,51.2 202,52.8 205,54.4 208,55.7 211,56.9 214,57.9 217,58.8 220,59.7 223,60.6 226,61.3 229,61.5 232,61.3 235,60.3 238,58 241,56.2 244,56.9 247,57.5 250,57.9 253,58.2 256,58.4 259,57.3 262,55.9 265,54.5 268,54.3 271,54.1 274,54.1 277,54.1 280,54.1 283,54.1 283,-5 76,-5" fill="#FF0000"/>
<polygon points="76,47.1 79,47.8 82,50 85,52.1 88,54.2 91,56.4 94,58.6 97,60.8 100,63.1 103,65 106,64.1 109,63.2 112,62.3 115,57.2 118,51 121,44.8 124,38.6 127,35.7 130,36.9 133,38.2 136,40.8 139,47.8 142,53.4 145,54 148,52.5 151,50.3 154,48.3 157,46.6 160,44.8 163,43 166,41.8 169,40.9 172,41 175,41.2 178,41.8 181,42.7 184,43.4 187,44.1 190,44.7 193,45.9 196,47.1 199,48.6 202,50.3 205,51.9 208,53.3 211,54.6 214,55.6 217,56.6 220,57.5 223,58.4 226,59.2 229,59.5 232,59.4 235,58.6 238,56.8 241,55.4 244,56 247,56.7 250,57.1 253,57.4 256,57.6 259,56.5 262,54.9 265,53.4 268,53.2 271,53.1 274,53.1 277,53.1 280,53.1 283,53.1 283,-5 76,-5" fill="#FF0000"/>
<polygon points="76,46 79,46.8 82,48.9 85,51 88,53.2 91,55.3 94,57.5 97,59.8 100,62 103,64 106,63 109,62.1 112,61.2 115,56.1 118,49.9 121,43.7 124,37.6 127,34.6 130,35.9 133,37.2 136,39.7 139,46.9 142,52.5 145,53 148,51.3 151,48.8 154,46.5 157,44.5 160,42.5 163,40.5 166,39.2 169,38.2 172,38.2 175,38.4 178,39 181,39.9 184,40.6 187,41.3 190,41.9 193,43.2 196,44.4 199,46 202,47.7 205,49.4 208,50.9 211,52.3 214,53.4 217,54.3 220,55.3 223,56.3 226,57.1 229,57.5 232,57.4 235,56.9 238,55.5 241,54.5 244,55.2 247,55.9 250,56.4 253,56.6 256,56.9 259,55.7 262,54 265,52.4 268,52.2 271,52 274,52 277,52 280,52 283,52 283,-5 76,-5" fill="#FF0000"/>
<polygon points="76,45 79,45.7 82,47.9 85,50 88,52.1 91,54.3 94,56.5 97,58.7 100,61 103,62.9 106,62 109,61.1 112,60.2 115,55.1 118,48.9 121,42.7 124,36.5 127,33.6 130,34.8 133,36.1 136,38.7 139,46 142,51.7 145,52.1 148,50.1 151,47.2 154,44.7 157,42.4 160,40.2 163,38 166,36.5 169,35.4 172,35.4 175,35.5 178,36.2 181,37.1 184,37.8 187,38.5 190,39.2 193,40.5 196,41.8 199,43.4 202,45.2 205,46.9 208,48.5 211,49.9 214,51.1 217,52.1 220,53.1 223,54.1 226,55 229,55.4 232,55.5 235,55.2 238,54.3 241,53.6 244,54.3 247,55.1 250,55.6 253,55.8 256,56.1 259,54.8 262,53 265,51.3 268,51.1 271,51 274,51 277,51 280,51 283,51 283,-5 76,-5" fill="#FF0000"/>
<polygon points="76,43.9 79,44.7 82,46.8 85,48.9 88,51.1 91,53.2 94,55.4 97,57.7 100,59.9 103,61.9 106,60.9 109,60 112,59.1 115,54 118,47.8 121,41.6 124,35.5 127,32.5 130,33.8 133,35.1 136,37.6 139,45.2 142,50.9 145,51.2 148,48.9 151,45.7 154,42.8 157,40.3 160,37.9 163,35.5 166,33.9 169,32.6 172,32.6 175,32.7 178,33.4 181,34.3 184,35 187,35.8 190,36.4 193,37.7 196,39.1 199,40.7 202,42.6 205,44.5 208,46 211,47.6 214,48.8 217,49.9 220,50.9 223,52 226,52.9 229,53.4 232,53.6 235,53.6 238,53 241,52.7 244,53.5 247,54.3 250,54.8 253,55.1 256,55.4 259,54 262,52.1 265,50.3 268,50.1 271,49.9 274,49.9 277,49.9 280,49.9 283,49.9 283,-5 76,-5" fill="#FF0000"/>
<polygon points="76,42.9 79,43.6 82,45.8 85,47.9 88,50 91,52.2 94,54.4 97,56.6 100,58.9 103,60.8 106,59.9 109,59 112,58.1 115,53 118,46.8 121,40.6 124,34.4 127,31.5 130,32.7 133,34 136,36.6 139,44.3 142,50 145,50.2 148,47.7 151,44.2 154,41 157,38.2 160,35.6 163,33 166,31.2 169,29.9 172,29.8 175,29.9 178,30.5 181,31.4 184,32.2 187,33 190,33.6 193,35 196,36.4 199,38.1 202,40.1 205,42 208,43.6 211,45.2 214,46.5 217,47.6 220,48.7 223,49.8 226,50.9 229,51.4 232,51.7 235,51.9 238,51.8 241,51.9 244,52.7 247,53.5 250,54 253,54.3 256,54.6 259,53.2 262,51.2 265,49.2 268,49 271,48.9 274,48.9 277,48.9 280,48.9 283,48.9 283,-5 76,-5" fill="#FF0000"/>
<polygon points="76,41.8 79,42.6 82,44.7 85,46.8 88,49 91,51.1 94,53.3 97,55.6 100,57.8 103,59.8 106,58.8 109,57.9 112,57 115,51.9 118,45.7 121,39.5 124,33.4 127,30.4 130,31.7 133,33 136,35.5 139,43.4 142,49.2 145,49.3 148,46.5 151,42.7 154,39.2 157,36.2 160,33.3 163,30.5 166,28.6 169,27.1 172,27 175,27 178,27.7 181,28.6 184,29.5 187,30.2 190,30.9 193,32.3 196,33.7 199,35.5 202,37.5 205,39.5 208,41.2 211,42.9 214,44.2 217,45.4 220,46.5 223,47.7 226,48.8 229,49.4 232,49.8 235,50.2 238,50.6 241,51 244,51.8 247,52.7 250,53.3 253,53.5 256,53.9 259,52.3 262,50.2 265,48.2 268,48 271,47.8 274,47.8 277,47.8 280,47.8 283,47.8 283,-5 76,-5" fill="#FF0000"/>
<polygon points="76,40.8 79,41.5 82,43.7 85,45.8 88,47.9 91,50.1 94,52.3 97,54.5 100,56.8 103,58.7 106,57.8 109,56.9 112,56 115,50.9 118,44.7 121,38.5 124,32.3 127,29.4 130,30.6 133,31.9 136,34.5 139,42.5 142,48.3 145,48.3 148,45.4 151,41.2 154,37.4 157,34.1 160,31 163,28 166,25.9 169,24.3 172,24.2 175,24.2 178,24.9 181,25.8 184,26.7 187,27.4 190,28.1 193,29.6 196,31 199,32.9 202,35 205,37 208,38.8 211,40.5 214,41.9 217,43.1 220,44.3 223,45.5 226,46.7 229,47.4 232,47.9 235,48.5 238,49.3 241,50.1 244,51 247,51.9 250,52.5 253,52.8 256,53.1 259,51.5 262,49.3 265,47.1 268,46.9 271,46.8 274,46.8 277,46.8 280,46.8 283,46.8 283,-5 76,-5" fill="#FF0000"/>
<polygon points="76,39.7 79,40.5 82,42.6 85,44.7 88,46.9 91,49 94,51.2 97,53.5 100,55.7 103,57.7 106,56.7 109,55.8 112,54.9 115,49.8 118,43.6 121,37.4 124,31.3 127,28.3 130,29.6 133,30.9 136,33.4 139,41.5 142,47.5 145,47.5 148,44.5 151,40.3 154,36.4 157,33 160,29.8 163,26.8 166,24.7 169,23.1 172,22.9 175,22.9 178,23.6 181,24.6 184,25.4 187,26.2 190,26.8 193,28.3 196,29.8 199,31.6 202,33.8 205,35.9 208,37.6 211,39.4 214,40.8 217,42 220,43.2 223,44.4 226,45.6 229,46.3 232,46.9 235,47.6 238,48.5 241,49.4 244,50.3 247,51.2 250,51.8 253,52.1 256,52.4 259,50.7 262,48.3 265,46.1 268,45.9 271,45.7 274,45.7 277,45.7 280,45.7 283,45.7 283,-5 76,-5" fill="#FB0000"/>
<polygon points="76,38.7 79,39.4 82,41.6 85,43.7 88,45.8 91,48 94,50.2 97,52.4 100,54.7 103,56.6 106,55.7 109,54.8 112,53.9 115,48.8 118,42.6 121,36.4 124,30.2 127,27.3 130,28.5 133,29.8 136,32.4 139,40.6 142,46.6 145,46.7 148,43.8 151,39.6 154,35.8 157,32.4 160,29.2 163,26.2 166,24 169,22.4 172,22.3 175,22.3 178,22.9 181,23.9 184,24.7 187,25.5 190,26.2 193,27.6 196,29.1 199,31 202,33.1 205,35.2 208,37 211,38.7 214,40.1 217,41.4 220,42.6 223,43.8 226,45 229,45.6 232,46.2 235,46.9 238,47.8 241,48.7 244,49.6 247,50.5 250,51.1 253,51.4 256,51.7 259,49.9 262,47.4 265,45 268,44.8 271,44.7 274,44.7 277,44.7 280,44.7 283,44.7 283,-5 76,-5" fill="#F60000"/>
<polygon points="76,37.6 79,38.4 82,40.5 85,42.6 88,44.8 91,46.9 94,49.1 97,51.4 100,53.6 103,55.6 106,54.6 109,53.7 112,52.8 115,47.7 118,41.5 121,35.3 124,29.2 127,26.2 130,27.5 133,28.8 136,31.3 139,39.6 142,45.7 145,45.9 148,43.1 151,39 154,35.1 157,31.7 160,28.5 163,25.5 166,23.4 169,21.8 172,21.6 175,21.6 178,22.3 181,23.2 184,24.1 187,24.9 190,25.5 193,27 196,28.5 199,30.3 202,32.5 205,34.5 208,36.3 211,38.1 214,39.5 217,40.7 220,41.9 223,43.1 226,44.3 229,45 232,45.6 235,46.3 238,47.2 241,48.1 244,49 247,49.9 250,50.5 253,50.7 256,51.1 259,49.1 262,46.4 265,44 268,43.8 271,43.6 274,43.6 277,43.6 280,43.6 283,43.6 283,-5 76,-5" fill="#F00000"/>
<polygon points="76,36.6 79,37.3 82,39.5 85,41.6 88,43.7 91,45.9 94,48.1 97,50.3 100,52.6 103,54.5 106,53.6 109,52.7 112,51.8 115,46.7 118,40.5 121,34.3 124,28.1 127,25.2 130,26.4 133,27.7 136,30.3 139,38.6 142,44.8 145,45.1 148,42.4 151,38.3 154,34.4 157,31 160,27.8 163,24.8 166,22.7 169,21.1 172,20.9 175,20.9 178,21.6 181,22.6 184,23.4 187,24.2 190,24.8 193,26.3 196,27.8 199,29.7 202,31.8 205,33.9 208,35.6 211,37.4 214,38.8 217,40 220,41.3 223,42.5 226,43.6 229,44.3 232,44.9 235,45.6 238,46.5 241,47.4 244,48.3 247,49.2 250,49.8 253,50.1 256,50.4 259,48.2 262,45.5 265,42.9 268,42.7 271,42.6 274,42.6 277,42.6 280,42.6 283,42.6 283,-5 76,-5" fill="#EB0000"/>
<polygon points="76,35.5 79,36.3 82,38.4 85,40.5 88,42.7 91,44.8 94,47 97,49.3 100,51.5 103,53.5 106,52.5 109,51.6 112,50.7 115,45.6 118,39.4 121,33.2 124,27.1 127,24.1 130,25.4 133,26.7 136,29.2 139,37.6 142,43.9 145,44.3 148,41.7 151,37.6 154,33.8 157,30.4 160,27.2 163,24.2 166,22 169,20.4 172,20.3 175,20.3 178,21 181,21.9 184,22.8 187,23.5 190,24.2 193,25.7 196,27.1 199,29 202,31.1 205,33.2 208,35 211,36.8 214,38.1 217,39.4 220,40.6 223,41.8 226,43 229,43.7 232,44.2 235,44.9 238,45.8 241,46.8 244,47.7 247,48.6 250,49.1 253,49.4 256,49.8 259,47.4 262,44.5 265,41.9 268,41.7 271,41.5 274,41.5 277,41.5 280,41.5 283,41.5 283,-5 76,-5" fill="#E50000"/>
<polygon points="76,34.5 79,35.2 82,37.4 85,39.5 88,41.6 91,43.8 94,46 97,48.2 100,50.5 103,52.4 106,51.5 109,50.6 112,49.7 115,44.6 118,38.4 121,32.2 124,26 127,23.1 130,24.3 133,25.6 136,28.2 139,36.6 142,43 145,43.5 148,41 151,37 154,33.1 157,29.7 160,26.5 163,23.5 166,21.4 169,19.8 172,19.6 175,19.6 178,20.3 181,21.3 184,22.1 187,22.9 190,23.5 193,25 196,26.5 199,28.3 202,30.5 205,32.6 208,34.3 211,36.1 214,37.5 217,38.7 220,39.9 223,41.1 226,42.3 229,43 232,43.6 235,44.3 238,45.2 241,46.1 244,47 247,47.9 250,48.5 253,48.8 256,49.1 259,46.6 262,43.6 265,40.8 268,40.6 271,40.5 274,40.5 277,40.5 280,40.5 283,40.5 283,-5 76,-5" fill="#E00000"/>
<polygon points="76,33.4 79,34.2 82,36.3 85,38.4 88,40.6 91,42.7 94,44.9 97,47.2 100,49.4 103,51.4 106,50.4 109,49.5 112,48.6 115,43.5 118,37.3 121,31.1 124,25 127,22 130,23.3 133,24.6 136,27.1 139,35.6 142,42.1 145,42.8 148,40.4 151,36.3 154,32.5 157,29.1 160,25.9 163,22.9 166,20.7 169,19.1 172,19 175,19 178,19.6 181,20.6 184,21.4 187,22.2 190,22.9 193,24.3 196,25.8 199,27.7 202,29.8 205,31.9 208,33.7 211,35.4 214,36.8 217,38.1 220,39.3 223,40.5 226,41.7 229,42.3 232,42.9 235,43.6 238,44.5 241,45.4 244,46.3 247,47.2 250,47.8 253,48.1 256,48.4 259,45.8 262,42.6 265,39.8 268,39.6 271,39.4 274,39.4 277,39.4 280,39.4 283,39.4 283,-5 76,-5" fill="#DA0000"/>
<polygon points="76,32.4 79,33.1 82,35.3 85,37.4 88,39.5 91,41.7 94,43.9 97,46.1 100,48.4 103,50.3 106,49.4 109,48.5 112,47.6 115,42.5 118,36.3 121,30.1 124,23.9 127,21 130,22.2 133,23.5 136,26.1 139,34.7 142,41.3 145,42 148,39.7 151,35.7 154,31.8 157,28.4 160,25.2 163,22.2 166,20 169,18.5 172,18.3 175,18.3 178,19 181,19.9 184,20.8 187,21.5 190,22.2 193,23.7 196,25.2 199,27 202,29.1 205,31.2 208,33 211,34.8 214,36.2 217,37.4 220,38.6 223,39.8 226,41 229,41.7 232,42.3 235,43 238,43.9 241,44.8 244,45.7 247,46.6 250,47.2 253,47.4 256,47.8 259,45 262,41.6 265,38.7 268,38.5 271,38.4 274,38.4 277,38.4 280,38.4 283,38.4 283,-5 76,-5" fill="#D40000"/>
<polygon points="76,31.3 79,32.1 82,34.2 85,36.3 88,38.5 91,40.6 94,42.8 97,45.1 100,47.3 103,49.3 106,48.3 109,47.4 112,46.5 115,41.4 118,35.2 121,29 124,22.9 127,19.9 130,21.2 133,22.5 136,25 139,33.7 142,40.4 145,41.2 148,39 151,35 154,31.1 157,27.7 160,24.5 163,21.5 166,19.4 169,17.8 172,17.6 175,17.6 178,18.3 181,19.3 184,20.1 187,20.9 190,21.5 193,23 196,24.5 199,26.3 202,28.5 205,30.6 208,32.3 211,34.1 214,35.5 217,36.7 220,38 223,39.1 226,40.3 229,41 232,41.6 235,42.3 238,43.2 241,44.1 244,45 247,45.9 250,46.5 253,46.8 256,47.1 259,44.2 262,40.7 265,37.7 268,37.5 271,37.3 274,37.3 277,37.3 280,37.3 283,37.3 283,-5 76,-5" fill="#CE0000"/>
<polygon points="76,30.3 79,31 82,33.2 85,35.3 88,37.4 91,39.6 94,41.8 97,44 100,46.3 103,48.2 106,47.3 109,46.4 112,45.5 115,40.4 118,34.2 121,28 124,21.8 127,18.9 130,20.1 133,21.4 136,24 139,32.7 142,39.5 145,40.4 148,38.3 151,34.3 154,30.5 157,27.1 160,23.9 163,20.9 166,18.7 169,17.1 172,17 175,17 178,17.7 181,18.6 184,19.4 187,20.2 190,20.9 193,22.4 196,23.8 199,25.7 202,27.8 205,29.9 208,31.7 211,33.4 214,34.8 217,36.1 220,37.3 223,38.5 226,39.7 229,40.4 232,40.9 235,41.6 238,42.5 241,43.4 244,44.4 247,45.3 250,45.8 253,46.1 256,46.5 259,43.4 262,39.7 265,36.6 268,36.4 271,36.3 274,36.3 277,36.3 280,36.3 283,36.3 283,-5 76,-5" fill="#C80000"/>
<polygon points="76,29.2 79,30 82,32.1 85,34.2 88,36.4 91,38.5 94,40.7 97,43 100,45.2 103,47.2 106,46.2 109,45.3 112,44.4 115,39.3 118,33.1 121,26.9 124,20.8 127,17.8 130,19.1 133,20.4 136,22.9 139,31.7 142,38.6 145,39.6 148,37.6 151,33.7 154,29.8 157,26.4 160,23.2 163,20.2 166,18.1 169,16.5 172,16.3 175,16.3 178,17 181,18 184,18.8 187,19.6 190,20.2 193,21.7 196,23.2 199,25 202,27.2 205,29.3 208,31 211,32.8 214,34.2 217,35.4 220,36.6 223,37.8 226,39 229,39.7 232,40.3 235,41 238,41.9 241,42.8 244,43.7 247,44.6 250,45.2 253,45.5 256,45.8 259,42.6 262,38.8 265,35.6 268,35.4 271,35.2 274,35.2 277,35.2 280,35.2 283,35.2 283,-5 76,-5" fill="#C20000"/>
<polygon points="76,28.2 79,28.9 82,31.1 85,33.2 88,35.3 91,37.5 94,39.7 97,41.9 100,44.2 103,46.1 106,45.2 109,44.3 112,43.4 115,38.3 118,32.1 121,25.9 124,19.7 127,16.8 130,18 133,19.3 136,21.9 139,30.7 142,37.7 145,38.8 148,36.9 151,33 154,29.2 157,25.7 160,22.6 163,19.6 166,17.4 169,15.8 172,15.7 175,15.7 178,16.3 181,17.3 184,18.1 187,18.9 190,19.6 193,21 196,22.5 199,24.4 202,26.5 205,28.6 208,30.4 211,32.1 214,33.5 217,34.8 220,36 223,37.2 226,38.4 229,39 232,39.6 235,40.3 238,41.2 241,42.1 244,43 247,43.9 250,44.5 253,44.8 256,45.1 259,41.8 262,37.8 265,34.5 268,34.3 271,34.2 274,34.2 277,34.2 280,34.2 283,34.2 283,-5 76,-5" fill="#BC0000"/>
<polygon points="76,27.1 79,27.9 82,30 85,32.1 88,34.3 91,36.4 94,38.6 97,40.9 100,43.1 103,45.1 106,44.1 109,43.2 112,42.3 115,37.2 118,31 121,24.8 124,18.7 127,15.7 130,17 133,18.3 136,20.8 139,29.7 142,36.8 145,38 148,36.2 151,32.4 154,28.5 157,25.1 160,21.9 163,18.9 166,16.7 169,15.2 172,15 175,15 178,15.7 181,16.6 184,17.5 187,18.2 190,18.9 193,20.4 196,21.9 199,23.7 202,25.8 205,27.9 208,29.7 211,31.5 214,32.9 217,34.1 220,35.3 223,36.5 226,37.7 229,38.4 232,38.9 235,39.7 238,40.6 241,41.5 244,42.4 247,43.3 250,43.8 253,44.1 256,44.5 259,41 262,36.9 265,33.5 268,33.3 271,33.1 274,33.1 277,33.1 280,33.1 283,33.1 283,-5 76,-5" fill="#B60000"/>
</g></g>
<g clip-path="url(#cpMain)" stroke="url(#gMesh)" stroke-width="0.55" stroke-opacity="0.45" fill="none">
<path d="M60,0L27,150 M63.7,0L30.7,150 M67.4,0L34.4,150 M71.1,0L38.1,150 M74.8,0L41.8,150 M78.5,0L45.5,150 M82.2,0L49.2,150 M85.9,0L52.9,150 M89.6,0L56.6,150 M93.3,0L60.3,150 M97,0L64,150 M100.7,0L67.7,150 M104.4,0L71.4,150 M108.1,0L75.1,150 M111.8,0L78.8,150 M115.5,0L82.5,150 M119.2,0L86.2,150 M122.9,0L89.9,150 M126.6,0L93.6,150 M130.3,0L97.3,150 M134,0L101,150 M137.7,0L104.7,150 M141.4,0L108.4,150 M145.1,0L112.1,150 M148.8,0L115.8,150 M152.5,0L119.5,150 M156.2,0L123.2,150 M159.9,0L126.9,150 M163.6,0L130.6,150 M167.3,0L134.3,150 M171,0L138,150 M174.7,0L141.7,150 M178.4,0L145.4,150 M182.1,0L149.1,150 M185.8,0L152.8,150 M189.5,0L156.5,150 M193.2,0L160.2,150 M196.9,0L163.9,150 M200.6,0L167.6,150 M204.3,0L171.3,150 M208,0L175,150 M211.7,0L178.7,150 M215.4,0L182.4,150 M219.1,0L186.1,150 M222.8,0L189.8,150 M226.5,0L193.5,150 M230.2,0L197.2,150 M233.9,0L200.9,150 M237.6,0L204.6,150 M241.3,0L208.3,150 M245,0L212,150 M248.7,0L215.7,150 M252.4,0L219.4,150 M256.1,0L223.1,150 M259.8,0L226.8,150 M263.5,0L230.5,150 M267.2,0L234.2,150 M270.9,0L237.9,150 M274.6,0L241.6,150 M278.3,0L245.3,150 M282,0L249,150 M285.7,0L252.7,150 M289.4,0L256.4,150 M293.1,0L260.1,150 M296.8,0L263.8,150 M300.5,0L267.5,150 M304.2,0L271.2,150 M307.9,0L274.9,150 M311.6,0L278.6,150 M315.3,0L282.3,150 M319,0L286,150 M322.7,0L289.7,150 M326.4,0L293.4,150 M84,133L88,133.1 L92,131.1 L96,123.7 L100,116.2 L104,105 L108,93.9 L112,80 L116,71.3 L120,65 L124,62.1 L128,57.3 L132,54.5 L136,51.9 L140,49 L144,43.7 L148,37.1 L152,33 L156,28.5 L160,24.8 L164,19.5 L168,18.5 L172,17.4 L176,18.6 L180,16.7 L184,18.6 L188,20.1 L192,23.1 L196,23.2 L200,25.4 L204,28.3 L208,31.8 L212,33.1 L216,33.9 L220,36.6 L224,38.5 L228,40.1 L232,39.2 L236,41.5 L240,42.7 L244,44.9 L248,43.4 L252,45.2 L256,46.5 L260,54.3 L264,57.1 L268,65.3 L272,73.6 L276,82.1 L280,83.2 M84,120.8L88,118.9 L92,117.1 L96,112.1 L100,107 L104,96.6 L108,85.7 L112,75.5 L116,69.2 L120,64 L124,59.3 L128,56.8 L132,55.3 L136,54.1 L140,49.2 L144,45.6 L148,41.1 L152,38.9 L156,33.1 L160,29.9 L164,26.7 L168,27.3 L172,25.3 L176,25.1 L180,25.2 L184,27.9 L188,29.2 L192,29.7 L196,31.4 L200,34.3 L204,37.8 L208,38.3 L212,40.5 L216,42.2 L220,45.9 L224,45.5 L228,46.9 L232,47.5 L236,50.9 L240,50.8 L244,51.6 L248,51.9 L252,54.6 L256,55.7 L260,60.3 L264,64.4 L268,72.4 L272,80.4 L276,85.3 L280,87.4 M84,107.1L88,105.6 L92,105.5 L96,103 L100,96.8 L104,88.2 L108,79.8 L112,73.7 L116,66.7 L120,62.2 L124,58.4 L128,59 L132,56.7 L136,55 L140,50.9 L144,50.2 L148,46.6 L152,43.4 L156,38.6 L160,37.5 L164,36.2 L168,34.9 L172,33.3 L176,33.9 L180,36.3 L184,36.8 L188,37.8 L192,38.3 L196,42.4 L200,43.7 L204,46 L208,46.3 L212,50.5 L216,52 L220,53.8 L224,53.5 L228,56.3 L232,58 L236,59.1 L240,59 L244,60.5 L248,63.1 L252,63.6 L256,64.4 L260,68.4 L264,74.4 L268,79.9 L272,86.1 L276,90 L280,94.2 M84,93.9L88,95.6 L92,95.3 L96,93 L100,86.7 L104,82.5 L108,76.2 L112,71.1 L116,64 L120,62.3 L124,60.6 L128,60.8 L132,57.8 L136,57.1 L140,56.1 L144,55.1 L148,51.5 L152,48.5 L156,47.4 L160,46.3 L164,45 L168,42.6 L172,44.1 L176,44.8 L180,46.6 L184,45.5 L188,48.3 L192,49.9 L196,53 L200,52.7 L204,55.4 L208,57.8 L212,60.8 L216,61.2 L220,62.3 L224,64.7 L228,66.8 L232,67.8 L236,67.5 L240,70.2 L244,71.6 L248,73.5 L252,72.3 L256,75.1 L260,79.4 L264,84.1 L268,87.1 L272,93 L276,98.1 L280,101.2 M84,83.9L88,86.5 L92,84.3 L96,83.2 L100,79.9 L104,78.2 L108,72.2 L112,68 L116,64.4 L120,64.4 L124,62.9 L128,61.5 L132,61.2 L136,61.7 L140,61.7 L144,58.9 L148,57.8 L152,56.6 L156,57.2 L160,54.3 L164,54.1 L168,53.6 L172,56.3 L176,55.4 L180,56.5 L184,57.3 L188,60.7 L192,61.6 L196,62.5 L200,64.2 L204,67.3 L208,69.8 L212,70 L216,71.9 L220,73.8 L224,76.9 L228,76.4 L232,78.1 L236,79.1 L240,82.6 L244,82.2 L248,83.5 L252,84.2 L256,87.7 L260,90.4 L264,92.7 L268,96.7 L272,102.3 L276,106.8 L280,107.1 M84,73.8L88,74.9 L92,73.7 L96,75.1 L100,73.9 L104,71.5 L108,67.9 L112,66.4 L116,66.1 L120,64.6 L124,64 L128,63.7 L132,66.2 L136,65.4 L140,65.4 L144,63.7 L148,65.7 L152,64.7 L156,64.5 L160,62.7 L164,64.8 L168,65.4 L172,66 L176,65.8 L180,67.8 L184,70.4 L188,71.3 L192,72.2 L196,73.4 L200,77.2 L204,78.1 L208,79.8 L212,80.2 L216,84.2 L220,85.1 L224,86.7 L228,86.5 L232,89.9 L236,91.4 L240,92.7 L244,92.6 L248,95 L252,97.4 L256,98.3 L260,100.4 L264,102.6 L268,108 L272,110.5 L276,113.6 L280,114 M84,63.3L88,64.4 L92,66.5 L96,67.6 L100,67.1 L104,65.5 L108,66.6 L112,66.4 L116,66.9 L120,65.1 L124,67.5 L128,68.4 L132,70.3 L136,68.9 L140,70.7 L144,71.8 L148,73.3 L152,72.2 L156,72.8 L160,74.6 L164,76 L168,76.4 L172,76.3 L176,79.2 L180,80.8 L184,82.6 L188,82 L192,85.2 L196,86.8 L200,89.5 L204,88.8 L208,91.6 L212,93.6 L216,96.2 L220,96 L224,97.6 L228,100 L232,102.2 L236,102.9 L240,103.3 L244,106.2 L248,107.9 L252,109.6 L256,109.1 L260,113 L264,115 L268,118.4 L272,118.6 L276,122.2 L280,124 M84,53.8L88,55.7 L92,58.7 L96,58.2 L100,60.3 L104,61.7 L108,65.3 L112,64.9 L116,66.6 L120,67.9 L124,71.4 L128,71.8 L132,72.8 L136,74.3 L140,77.3 L144,78.9 L148,79 L152,80.9 L156,83 L160,85.8 L164,85.4 L168,87.5 L172,88.9 L176,92.5 L180,92 L184,93.8 L188,95.1 L192,98.7 L196,98.9 L200,100.1 L204,101.5 L208,104.5 L212,106 L216,106.2 L220,108.1 L224,110.3 L228,113 L232,112.6 L236,114.6 L240,116.1 L244,119.7 L248,119.2 L252,121 L256,122.2 L260,125.9 L264,126.1 L268,127.3 L272,128.6 L276,131.8 L280,133.1 M84,63.3L88,63.9 L92,65.5 L96,65.6 L100,69.3 L104,70.6 L108,71.9 L112,72.2 L116,75.1 L120,77.4 L124,78.3 L128,79.1 L132,80.7 L136,84.1 L140,84.6 L144,86 L148,86.6 L152,90.6 L156,91.1 L160,92.7 L164,92.8 L168,96.6 L172,97.8 L176,99.2 L180,99.4 L184,102.3 L188,104.6 L192,105.5 L196,106.2 L200,108 L204,111.3 L208,111.8 L212,113.1 L216,113.8 L220,117.8 L224,118.3 L228,119.9 L232,120 L236,123.8 L240,124.9 L244,126.4 L248,126.5 L252,129.6 L256,131.7 L260,132.7 L264,133.4 L268,135.3 L272,138.5 L276,139 L280,140.3 M84,71.2L88,70.9 L92,72.9 L96,75.3 L100,77.4 L104,77.9 L108,78.7 L112,81.8 L116,83.5 L120,85 L124,84.7 L128,88.2 L132,89.6 L136,91.9 L140,91.2 L144,94.3 L148,96 L152,98.4 L156,98 L160,100.1 L164,102.5 L168,104.6 L172,105.1 L176,106 L180,109 L184,110.7 L188,112.2 L192,112 L196,115.4 L200,116.9 L204,119.1 L208,118.3 L212,121.5 L216,123.2 L220,125.6 L224,125.1 L228,127.4 L232,129.6 L236,131.9 L240,132.2 L244,133.2 L248,136.2 L252,138 L256,139.3 L260,139.2 L264,142.6 L268,144.1 L272,146.2 L276,145.5 L280,148.7 M84,77.3L88,79.4 L92,81.7 L96,84.1 L100,83.6 L104,85.9 L108,87.6 L112,90.8 L116,90.2 L120,92.3 L124,93.7 L128,97.2 L132,97 L136,98.4 L140,100 L144,103.2 L148,104.1 L152,104.6 L156,106.5 L160,109 L164,111.2 L168,110.8 L172,113.1 L176,114.8 L180,118 L184,117.3 L188,119.5 L192,120.9 L196,124.4 L200,124.2 L204,125.7 L208,127.2 L212,130.4 L216,131.2 L220,131.8 L224,133.7 L228,136.2 L232,138.3 L236,138 L240,140.3 L244,142.1 L248,145.2 L252,144.5 L256,146.7 L260,148.1 L264,151.6 L268,151.3 L272,152.9 L276,154.4 L280,157.7 M84,85.2L88,89.1 L92,89.3 L96,90.9 L100,91.3 L104,95.2 L108,96 L112,97.4 L116,97.8 L120,101.1 L124,102.9 L128,103.7 L132,104.5 L136,106.7 L140,109.7 L144,110.1 L148,111.4 L152,112.5 L156,116.3 L160,116.5 L164,118.1 L168,118.5 L172,122.5 L176,123.2 L180,124.6 L184,124.9 L188,128.3 L192,130 L196,131 L200,131.6 L204,134 L208,136.8 L212,137.3 L216,138.5 L220,139.7 L224,143.5 L228,143.7 L232,145.3 L236,145.7 L240,149.7 L244,150.3 L248,151.8 L252,152.1 L256,155.6 L260,157.2 L264,158.2 L268,158.8 L272,161.3 L276,164 L280,164.5 M84,94.5L88,96.7 L92,96.2 L96,98.8 L100,101 L104,103 L108,103.2 L112,104.6 L116,107.5 L120,109.1 L124,110.2 L128,110.5 L132,114 L136,115.3 L140,117.2 L144,116.7 L148,120.1 L152,121.6 L156,123.9 L160,123.3 L164,126.1 L168,128.1 L172,130.2 L176,130.3 L180,131.8 L184,134.7 L188,136.4 L192,137.4 L196,137.7 L200,141.2 L204,142.5 L208,144.4 L212,143.9 L216,147.4 L220,148.8 L224,151.1 L228,150.5 L232,153.3 L236,155.3 L240,157.5 L244,157.4 L248,159.1 L252,161.9 L256,163.6 L260,164.5 L264,165 L268,168.3 L272,169.8 L276,171.5 L280,171.1 M84,102.2L88,103 L92,105.1 L96,107.6 L100,109.3 L104,109.1 L108,111.6 L112,113.4 L116,116.2 L120,115.5 L124,117.9 L128,119.5 L132,122.8 L136,122.3 L140,124.1 L144,125.7 L148,129 L152,129.3 L156,130.2 L160,132.2 L164,134.9 L168,136.4 L172,136.4 L176,138.7 L180,140.7 L184,143.4 L188,142.7 L192,145.2 L196,146.7 L200,150 L204,149.4 L208,151.4 L212,152.9 L216,156.2 L220,156.4 L224,157.5 L228,159.4 L232,162.1 L236,163.6 L240,163.6 L244,165.9 L248,168 L252,170.6 L256,169.9 L260,172.3 L264,173.9 L268,177.2 L272,176.6 L276,178.6 L280,180.1 M84,109.6L88,111.2 L92,114.7 L96,114.7 L100,116.3 L104,117.1 L108,121.1 L112,121.4 L116,122.9 L120,123.4 L124,127 L128,128.3 L132,129.2 L136,130 L140,132.7 L144,135.2 L148,135.5 L152,136.8 L156,138.4 L160,141.9 L164,141.9 L168,143.5 L172,144.3 L176,148.3 L180,148.6 L184,150.1 L188,150.6 L192,154.3 L196,155.4 L200,156.5 L204,157.1 L208,160 L212,162.3 L216,162.8 L220,163.9 L224,165.7 L228,169.1 L232,169.2 L236,170.7 L240,171.6 L244,175.5 L248,175.7 L252,177.3 L256,177.7 L260,181.6 L264,182.5 L268,183.7 L272,184.3 L276,187.3 L280,189.4 M84,118.8L88,120.1 L92,122.1 L96,121.6 L100,124.7 L104,126.6 L108,128.5 L112,128.4 L116,130.5 L120,133.2 L124,134.7 L128,135.5 L132,136.3 L136,139.7 L140,140.9 L144,142.5 L148,142.3 L152,146 L156,147.3 L160,149.3 L164,148.7 L168,152 L172,153.8 L176,155.7 L180,155.5 L184,157.8 L188,160.4 L192,162 L196,162.6 L200,163.5 L204,166.9 L208,168.2 L212,169.6 L216,169.5 L220,173.2 L224,174.5 L228,176.4 L232,175.9 L236,179.3 L240,180.9 L244,183 L248,182.7 L252,185.1 L256,187.5 L260,189.2 L264,189.7 L268,190.8 L272,194.1 L276,195.4 L280,196.8 M84,127.4L88,127.4 L92,128.7 L96,130.8 L100,133.4 L104,134.5 L108,134.7 L112,137.3 L116,139.3 L120,141.6 L124,141 L128,143.7 L132,145.3 L136,148.3 L140,147.6 L144,149.9 L148,151.5 L152,154.7 L156,154.5 L160,155.9 L164,157.9 L168,160.7 L172,161.6 L176,162 L180,164.4 L184,166.6 L188,168.7 L192,168.2 L196,170.9 L200,172.5 L204,175.5 L208,174.7 L212,177.1 L216,178.7 L220,181.9 L224,181.6 L228,183.2 L232,185.1 L236,188 L240,188.8 L244,189.2 L248,191.6 L252,193.9 L256,195.9 L260,195.4 L264,198 L268,199.8 L272,202.7 L276,201.9 L280,204.3 M84,133.8L88,135.1 L92,137.1 L96,140.3 L100,140.2 L104,141.8 L108,143 L112,146.8 L116,146.7 L120,148.4 L124,149.1 L128,152.9 L132,153.6 L136,154.7 L140,155.6 L144,158.8 L148,160.5 L152,161 L156,162.2 L160,164.4 L164,167.4 L168,167.4 L172,169 L176,170.2 L180,174 L184,173.9 L188,175.6 L192,176.3 L196,180.2 L200,180.7 L204,182 L208,182.7 L212,186 L216,187.7 L220,188.3 L224,189.4 L228,191.7 L232,194.6 L236,194.6 L240,196.1 L244,197.5 L248,201.2 L252,201.1 L256,202.8 L260,203.5 L264,207.4 L268,207.9 L272,209.2 L276,209.9 L280,213.3 M84,140.8L88,144.6 L92,145.6 L96,147.4 L100,147.1 L104,150.7 L108,152.2 L112,154 L116,153.8 L120,156.5 L124,158.8 L128,160.3 L132,160.7 L136,162.2 L140,165.4 L144,166.5 L148,167.7 L152,168.1 L156,171.8 L160,172.8 L164,174.6 L168,174.3 L172,177.9 L176,179.3 L180,181.2 L184,180.9 L188,183.7 L192,186 L196,187.5 L200,187.8 L204,189.5 L208,192.6 L212,193.8 L216,194.9 L220,195.3 L224,199 L228,200.1 L232,201.8 L236,201.5 L240,205.2 L244,206.5 L248,208.4 L252,208 L256,211 L260,213.1 L264,214.8 L268,215 L272,216.7 L276,219.7 L280,221 M84,150.1L88,153.1 L92,152.6 L96,154.4 L100,156.5 L104,159.2 L108,159.7 L112,160.4 L116,163 L120,165.2 L124,166.8 L128,166.5 L132,169.4 L136,171.1 L140,173.7 L144,172.9 L148,175.7 L152,177.3 L156,180.3 L160,179.7 L164,181.7 L168,183.6 L172,186.5 L176,186.8 L180,187.7 L184,190.1 L188,192.4 L192,194 L196,193.8 L200,196.6 L204,198.4 L208,200.9 L212,200.1 L216,202.9 L220,204.5 L224,207.5 L228,206.9 L232,209 L236,210.8 L240,213.7 L244,213.9 L248,214.9 L252,217.3 L256,219.7 L260,221.1 L264,221 L268,223.8 L272,225.6 L276,228.1 L280,227.3 M84,158.7L88,159.3 L92,160.6 L96,163.1 L100,165.7 L104,165.6 L108,167.3 L112,168.9 L116,172.4 L120,172.1 L124,173.9 L128,174.9 L132,178.8 L136,178.9 L140,180.3 L144,181.2 L148,184.7 L152,185.8 L156,186.5 L160,187.8 L164,190.4 L168,192.8 L172,192.8 L176,194.5 L180,196.2 L184,199.6 L188,199.3 L192,201.1 L196,202.1 L200,206 L204,206 L208,207.5 L212,208.4 L216,212 L220,213 L224,213.8 L228,214.9 L232,217.7 L236,220 L240,220.1 L244,221.6 L248,223.4 L252,226.8 L256,226.5 L260,228.3 L264,229.3 L268,233.2 L272,233.2 L276,234.7 L280,235.6"/>
<path d="M-300,140L-150,233 M-300,240L-150,147 M-291.5,140L-141.5,233 M-291.5,240L-141.5,147 M-283,140L-133,233 M-283,240L-133,147 M-274.5,140L-124.5,233 M-274.5,240L-124.5,147 M-266,140L-116,233 M-266,240L-116,147 M-257.5,140L-107.5,233 M-257.5,240L-107.5,147 M-249,140L-99,233 M-249,240L-99,147 M-240.5,140L-90.5,233 M-240.5,240L-90.5,147 M-232,140L-82,233 M-232,240L-82,147 M-223.5,140L-73.5,233 M-223.5,240L-73.5,147 M-215,140L-65,233 M-215,240L-65,147 M-206.5,140L-56.5,233 M-206.5,240L-56.5,147 M-198,140L-48,233 M-198,240L-48,147 M-189.5,140L-39.5,233 M-189.5,240L-39.5,147 M-181,140L-31,233 M-181,240L-31,147 M-172.5,140L-22.5,233 M-172.5,240L-22.5,147 M-164,140L-14,233 M-164,240L-14,147 M-155.5,140L-5.5,233 M-155.5,240L-5.5,147 M-147,140L3,233 M-147,240L3,147 M-138.5,140L11.5,233 M-138.5,240L11.5,147 M-130,140L20,233 M-130,240L20,147 M-121.5,140L28.5,233 M-121.5,240L28.5,147 M-113,140L37,233 M-113,240L37,147 M-104.5,140L45.5,233 M-104.5,240L45.5,147 M-96,140L54,233 M-96,240L54,147 M-87.5,140L62.5,233 M-87.5,240L62.5,147 M-79,140L71,233 M-79,240L71,147 M-70.5,140L79.5,233 M-70.5,240L79.5,147 M-62,140L88,233 M-62,240L88,147 M-53.5,140L96.5,233 M-53.5,240L96.5,147 M-45,140L105,233 M-45,240L105,147 M-36.5,140L113.5,233 M-36.5,240L113.5,147 M-28,140L122,233 M-28,240L122,147 M-19.5,140L130.5,233 M-19.5,240L130.5,147 M-11,140L139,233 M-11,240L139,147 M-2.5,140L147.5,233 M-2.5,240L147.5,147 M6,140L156,233 M6,240L156,147 M14.5,140L164.5,233 M14.5,240L164.5,147 M23,140L173,233 M23,240L173,147 M31.5,140L181.5,233 M31.5,240L181.5,147 M40,140L190,233 M40,240L190,147 M48.5,140L198.5,233 M48.5,240L198.5,147 M57,140L207,233 M57,240L207,147 M65.5,140L215.5,233 M65.5,240L215.5,147 M74,140L224,233 M74,240L224,147 M82.5,140L232.5,233 M82.5,240L232.5,147 M91,140L241,233 M91,240L241,147 M99.5,140L249.5,233 M99.5,240L249.5,147 M108,140L258,233 M108,240L258,147 M116.5,140L266.5,233 M116.5,240L266.5,147 M125,140L275,233 M125,240L275,147 M133.5,140L283.5,233 M133.5,240L283.5,147 M142,140L292,233 M142,240L292,147 M150.5,140L300.5,233 M150.5,240L300.5,147 M159,140L309,233 M159,240L309,147 M167.5,140L317.5,233 M167.5,240L317.5,147 M176,140L326,233 M176,240L326,147 M184.5,140L334.5,233 M184.5,240L334.5,147 M193,140L343,233 M193,240L343,147 M201.5,140L351.5,233 M201.5,240L351.5,147 M210,140L360,233 M210,240L360,147 M218.5,140L368.5,233 M218.5,240L368.5,147 M227,140L377,233 M227,240L377,147 M235.5,140L385.5,233 M235.5,240L385.5,147 M244,140L394,233 M244,240L394,147 M252.5,140L402.5,233 M252.5,240L402.5,147 M261,140L411,233 M261,240L411,147 M269.5,140L419.5,233 M269.5,240L419.5,147 M278,140L428,233 M278,240L428,147 M286.5,140L436.5,233 M286.5,240L436.5,147 M295,140L445,233 M295,240L445,147 M303.5,140L453.5,233 M303.5,240L453.5,147 M312,140L462,233 M312,240L462,147 M320.5,140L470.5,233 M320.5,240L470.5,147 M329,140L479,233 M329,240L479,147 M337.5,140L487.5,233 M337.5,240L487.5,147 M346,140L496,233 M346,240L496,147 M354.5,140L504.5,233 M354.5,240L504.5,147 M363,140L513,233 M363,240L513,147 M371.5,140L521.5,233 M371.5,240L521.5,147 M380,140L530,233 M380,240L530,147 M388.5,140L538.5,233 M388.5,240L538.5,147 M397,140L547,233 M397,240L547,147" clip-path="url(#cpLow)"/>
</g>
<g clip-path="url(#cpMain)"><polygon points="86,150 88.5,143.5 91.5,137.5 94.5,131 97,133 97.5,141 95.5,150 92,153" fill="#1830F0" fill-opacity="0.85" filter="url(#bl2)"/><polygon points="78,160 80.4,156.8 85.6,149.9 88.5,145.5 91.5,147 94,152 94,158 91,166.5" fill="url(#gBand)" filter="url(#bl2)"/></g>
<line x1="23.5" y1="29.9" x2="38.4" y2="192" stroke="#000" stroke-width="1.3" />
<line x1="281" y1="21.3" x2="277.9" y2="185.3" stroke="#000" stroke-width="1.3" />
<line x1="38.4" y1="192" x2="156.2" y2="246" stroke="#000" stroke-width="1.3" />
<line x1="156.2" y1="246" x2="277.9" y2="185.3" stroke="#000" stroke-width="1.3" />
<text x="4" y="38.2" font-family="Liberation Sans" font-size="11.8" font-weight="bold" text-anchor="start" fill="#000" >A</text>
<rect x="293.1" y="17.6" width="16.5" height="157.6" fill="url(#gCbar)" stroke="#777" stroke-width="0.5"/>
<line x1="293.1" y1="17.5" x2="309.6" y2="17.5" stroke="#A8A8A8" stroke-width="1.0" />
<line x1="293.1" y1="175.4" x2="309.6" y2="175.4" stroke="#000" stroke-width="1.3" />
<line x1="309.6" y1="18.4" x2="312.6" y2="18.4" stroke="#777" stroke-width="0.8" />
<line x1="309.6" y1="174.6" x2="312.6" y2="174.6" stroke="#777" stroke-width="0.8" />
<text x="15" y="69.3" font-family="Liberation Sans" font-size="11" font-weight="bold" text-anchor="start" fill="#000" transform="rotate(83.6 15 69.3)" textLength="95.5" lengthAdjust="spacingAndGlyphs">Absorbance (a.u.)</text>
<text x="29.29" y="197.5" font-family="Liberation Sans" font-size="6.0" font-weight="bold" text-anchor="middle" fill="#000" transform="rotate(-25 29.29 197.5)" textLength="14.5" lengthAdjust="spacingAndGlyphs">400</text>
<text x="55.69" y="209.8" font-family="Liberation Sans" font-size="6.0" font-weight="bold" text-anchor="middle" fill="#000" transform="rotate(-25 55.69 209.8)" textLength="14.5" lengthAdjust="spacingAndGlyphs">500</text>
<text x="83.09" y="222.9" font-family="Liberation Sans" font-size="6.0" font-weight="bold" text-anchor="middle" fill="#000" transform="rotate(-25 83.09 222.9)" textLength="14.5" lengthAdjust="spacingAndGlyphs">600</text>
<text x="113.49" y="237.5" font-family="Liberation Sans" font-size="6.0" font-weight="bold" text-anchor="middle" fill="#000" transform="rotate(-25 113.49 237.5)" textLength="14.5" lengthAdjust="spacingAndGlyphs">700</text>
<text x="146.29" y="252.9" font-family="Liberation Sans" font-size="6.0" font-weight="bold" text-anchor="middle" fill="#000" transform="rotate(-25 146.29 252.9)" textLength="14.5" lengthAdjust="spacingAndGlyphs">800</text>
<line x1="36.3" y1="192.6" x2="35.1" y2="194" stroke="#000" stroke-width="0.8" />
<line x1="62.9" y1="204.3" x2="61.7" y2="205.7" stroke="#000" stroke-width="0.8" />
<line x1="91.5" y1="217.1" x2="90.3" y2="218.5" stroke="#000" stroke-width="0.8" />
<line x1="121.5" y1="231.2" x2="120.3" y2="232.6" stroke="#000" stroke-width="0.8" />
<line x1="154.6" y1="246" x2="153.4" y2="247.4" stroke="#000" stroke-width="0.8" />
<line x1="49.8" y1="197.2" x2="50.4" y2="196" stroke="#000" stroke-width="0.7" />
<line x1="77.7" y1="210.4" x2="78.3" y2="209.2" stroke="#000" stroke-width="0.7" />
<line x1="106.9" y1="223.9" x2="107.5" y2="222.7" stroke="#000" stroke-width="0.7" />
<line x1="137.2" y1="238.5" x2="137.8" y2="237.3" stroke="#000" stroke-width="0.7" />
<text x="32.6" y="215.6" font-family="Liberation Sans" font-size="10.4" font-weight="bold" text-anchor="start" fill="#000" transform="rotate(29 32.6 215.6)" textLength="82" lengthAdjust="spacingAndGlyphs">Wavelength (nm)</text>
<text x="163.5" y="257.5" font-family="Liberation Sans" font-size="10.2" font-weight="bold" text-anchor="middle" fill="#000" transform="rotate(-25.5 163.5 257.5)" >-0.24</text>
<text x="222" y="227.8" font-family="Liberation Sans" font-size="10.2" font-weight="bold" text-anchor="middle" fill="#000" transform="rotate(-24.5 222 227.8)" >0.36</text>
<text x="281" y="197.8" font-family="Liberation Sans" font-size="10.2" font-weight="bold" text-anchor="middle" fill="#000" transform="rotate(-25 281 197.8)" >-0.24</text>
<text x="191.0" y="255.4" font-family="Liberation Sans" font-size="10.4" font-weight="bold" transform="rotate(-25.3 191.0 255.4)">Potential (V<tspan font-size="7" dy="1.8">Ag/AgCl</tspan><tspan dy="-1.8">)</tspan></text>
<line x1="178" y1="247.2" x2="199.5" y2="235" stroke="#000" stroke-width="1.5" />
<polygon points="205.6,231.3 196.6,233 200.8,238.2" fill="#000" stroke="none" stroke-width="1" />
<line x1="237.4" y1="215.8" x2="259" y2="203.6" stroke="#000" stroke-width="1.5" />
<polygon points="265.4,199.4 256.8,201 260.8,206.8" fill="#000" stroke="none" stroke-width="1" />
<rect x="396.2" y="2.6" width="287.1" height="105.2" fill="none" stroke="#000" stroke-width="1.45"/>
<rect x="396.2" y="145.4" width="287.1" height="104.6" fill="none" stroke="#000" stroke-width="1.45"/>
<line x1="515.75" y1="107.8" x2="515.75" y2="104.8" stroke="#000" stroke-width="1.1" />
<line x1="635.3" y1="107.8" x2="635.3" y2="104.8" stroke="#000" stroke-width="1.1" />
<line x1="455.97" y1="107.8" x2="455.97" y2="106" stroke="#000" stroke-width="1.1" />
<line x1="575.52" y1="107.8" x2="575.52" y2="106" stroke="#000" stroke-width="1.1" />
<line x1="515.75" y1="250" x2="515.75" y2="247" stroke="#000" stroke-width="1.1" />
<line x1="635.3" y1="250" x2="635.3" y2="247" stroke="#000" stroke-width="1.1" />
<line x1="455.97" y1="250" x2="455.97" y2="248.2" stroke="#000" stroke-width="1.1" />
<line x1="575.52" y1="250" x2="575.52" y2="248.2" stroke="#000" stroke-width="1.1" />
<line x1="396.2" y1="175.1" x2="399.7" y2="175.1" stroke="#000" stroke-width="1.1" />
<line x1="396.2" y1="205.1" x2="399.7" y2="205.1" stroke="#000" stroke-width="1.1" />
<line x1="396.2" y1="235.1" x2="399.7" y2="235.1" stroke="#000" stroke-width="1.1" />
<circle cx="398.5" cy="67.3" r="2.35" fill="url(#gDot)"/>
<circle cx="401.7" cy="72.3" r="2.35" fill="url(#gDot)"/>
<circle cx="405.6" cy="76" r="2.35" fill="url(#gDot)"/>
<circle cx="409.3" cy="78.5" r="2.35" fill="url(#gDot)"/>
<circle cx="413.3" cy="82.1" r="2.35" fill="url(#gDot)"/>
<circle cx="416.8" cy="84.6" r="2.35" fill="url(#gDot)"/>
<circle cx="420.7" cy="86.3" r="2.35" fill="url(#gDot)"/>
<circle cx="424.2" cy="85.6" r="2.35" fill="url(#gDot)"/>
<circle cx="428.2" cy="89.6" r="2.35" fill="url(#gDot)"/>
<circle cx="431.9" cy="89" r="2.35" fill="url(#gDot)"/>
<circle cx="435.8" cy="88.7" r="2.35" fill="url(#gDot)"/>
<circle cx="439.5" cy="87.2" r="2.35" fill="url(#gDot)"/>
<circle cx="443.3" cy="86.1" r="2.35" fill="url(#gDot)"/>
<circle cx="446.8" cy="84.8" r="2.35" fill="url(#gDot)"/>
<circle cx="450.7" cy="82.6" r="2.35" fill="url(#gDot)"/>
<circle cx="454.2" cy="80.8" r="2.35" fill="url(#gDot)"/>
<circle cx="457.8" cy="79" r="2.35" fill="url(#gDot)"/>
<circle cx="461.7" cy="76.2" r="2.35" fill="url(#gDot)"/>
<circle cx="465.3" cy="72.9" r="2.35" fill="url(#gDot)"/>
<circle cx="469.3" cy="71" r="2.35" fill="url(#gDot)"/>
<circle cx="472.9" cy="68.1" r="2.35" fill="url(#gDot)"/>
<circle cx="477" cy="64.9" r="2.35" fill="url(#gDot)"/>
<circle cx="480.7" cy="62.7" r="2.35" fill="url(#gDot)"/>
<circle cx="484.3" cy="59" r="2.35" fill="url(#gDot)"/>
<circle cx="488" cy="56.4" r="2.35" fill="url(#gDot)"/>
<circle cx="492.3" cy="52.9" r="2.35" fill="url(#gDot)"/>
<circle cx="495.3" cy="50.3" r="2.35" fill="url(#gDot)"/>
<circle cx="499.3" cy="46.6" r="2.35" fill="url(#gDot)"/>
<circle cx="502.8" cy="42.7" r="2.35" fill="url(#gDot)"/>
<circle cx="506.6" cy="41.5" r="2.35" fill="url(#gDot)"/>
<circle cx="510.1" cy="38.9" r="2.35" fill="url(#gDot)"/>
<circle cx="513.5" cy="37.1" r="2.35" fill="url(#gDot)"/>
<circle cx="517.9" cy="33.5" r="2.35" fill="url(#gDot)"/>
<circle cx="521.5" cy="31.3" r="2.35" fill="url(#gDot)"/>
<circle cx="525.2" cy="29.1" r="2.35" fill="url(#gDot)"/>
<circle cx="528.8" cy="26.2" r="2.35" fill="url(#gDot)"/>
<circle cx="532.9" cy="24" r="2.35" fill="url(#gDot)"/>
<circle cx="536.9" cy="24" r="2.35" fill="url(#gDot)"/>
<circle cx="540.8" cy="23.2" r="2.35" fill="url(#gDot)"/>
<circle cx="544.2" cy="23.7" r="2.35" fill="url(#gDot)"/>
<circle cx="548" cy="20.2" r="2.35" fill="url(#gDot)"/>
<circle cx="551.6" cy="21.8" r="2.35" fill="url(#gDot)"/>
<circle cx="555.2" cy="21.1" r="2.35" fill="url(#gDot)"/>
<circle cx="558.9" cy="22.2" r="2.35" fill="url(#gDot)"/>
<circle cx="562.5" cy="23.2" r="2.35" fill="url(#gDot)"/>
<circle cx="566.6" cy="22.8" r="2.35" fill="url(#gDot)"/>
<circle cx="570.1" cy="21.8" r="2.35" fill="url(#gDot)"/>
<circle cx="573.9" cy="23.2" r="2.35" fill="url(#gDot)"/>
<circle cx="577.4" cy="23.7" r="2.35" fill="url(#gDot)"/>
<circle cx="581.5" cy="20.3" r="2.35" fill="url(#gDot)"/>
<circle cx="584.7" cy="23.7" r="2.35" fill="url(#gDot)"/>
<circle cx="588.5" cy="23.7" r="2.35" fill="url(#gDot)"/>
<circle cx="592.4" cy="24.4" r="2.35" fill="url(#gDot)"/>
<circle cx="596.4" cy="24.4" r="2.35" fill="url(#gDot)"/>
<circle cx="600.2" cy="23.2" r="2.35" fill="url(#gDot)"/>
<circle cx="603.7" cy="24.4" r="2.35" fill="url(#gDot)"/>
<circle cx="607.5" cy="25.4" r="2.35" fill="url(#gDot)"/>
<circle cx="611" cy="26.9" r="2.35" fill="url(#gDot)"/>
<circle cx="614.8" cy="30.4" r="2.35" fill="url(#gDot)"/>
<circle cx="618.6" cy="31.9" r="2.35" fill="url(#gDot)"/>
<circle cx="622.4" cy="31.9" r="2.35" fill="url(#gDot)"/>
<circle cx="626" cy="32.8" r="2.35" fill="url(#gDot)"/>
<circle cx="630" cy="33.4" r="2.35" fill="url(#gDot)"/>
<circle cx="633.9" cy="33.7" r="2.35" fill="url(#gDot)"/>
<circle cx="638" cy="34.3" r="2.35" fill="url(#gDot)"/>
<circle cx="641.2" cy="36.9" r="2.35" fill="url(#gDot)"/>
<circle cx="645" cy="37.7" r="2.35" fill="url(#gDot)"/>
<circle cx="648.7" cy="38.9" r="2.35" fill="url(#gDot)"/>
<circle cx="652.3" cy="40.9" r="2.35" fill="url(#gDot)"/>
<circle cx="656.4" cy="43" r="2.35" fill="url(#gDot)"/>
<circle cx="660" cy="44.5" r="2.35" fill="url(#gDot)"/>
<circle cx="663.5" cy="47.1" r="2.35" fill="url(#gDot)"/>
<circle cx="667.3" cy="47.8" r="2.35" fill="url(#gDot)"/>
<circle cx="671" cy="50.1" r="2.35" fill="url(#gDot)"/>
<circle cx="674.8" cy="53.2" r="2.35" fill="url(#gDot)"/>
<circle cx="613.8" cy="89.3" r="2.2" fill="#F40000"/>
<text x="631.6" y="93" font-family="Liberation Sans" font-size="10.2" font-weight="bold" text-anchor="start" fill="#000" >550 nm</text>
<text x="396.2" y="120.3" font-family="Liberation Sans" font-size="10.2" font-weight="bold" text-anchor="middle" fill="#000" >0</text>
<text x="515.75" y="120.3" font-family="Liberation Sans" font-size="10.2" font-weight="bold" text-anchor="middle" fill="#000" >100</text>
<text x="635.3" y="120.3" font-family="Liberation Sans" font-size="10.2" font-weight="bold" text-anchor="middle" fill="#000" >200</text>
<text x="396.2" y="262.5" font-family="Liberation Sans" font-size="10.2" font-weight="bold" text-anchor="middle" fill="#000" >0</text>
<text x="515.75" y="262.5" font-family="Liberation Sans" font-size="10.2" font-weight="bold" text-anchor="middle" fill="#000" >100</text>
<text x="635.3" y="262.5" font-family="Liberation Sans" font-size="10.2" font-weight="bold" text-anchor="middle" fill="#000" >200</text>
<text x="392.2" y="148.7" font-family="Liberation Sans" font-size="10.2" font-weight="bold" text-anchor="end" fill="#000" >0.4</text>
<text x="392.2" y="178.7" font-family="Liberation Sans" font-size="10.2" font-weight="bold" text-anchor="end" fill="#000" >0.2</text>
<text x="392.2" y="208.7" font-family="Liberation Sans" font-size="10.2" font-weight="bold" text-anchor="end" fill="#000" >0.0</text>
<text x="392.2" y="238.7" font-family="Liberation Sans" font-size="10.2" font-weight="bold" text-anchor="end" fill="#000" >−0.2</text>
<text x="529.5" y="275.3" font-family="Liberation Sans" font-size="10.2" font-weight="bold" text-anchor="middle" fill="#000" >Time (s)</text>
<text x="392.6" y="56.2" font-family="Liberation Sans" font-size="10.4" font-weight="bold" text-anchor="middle" fill="#000" transform="rotate(-90 392.6 56.2)" >Absorbance (a.u.)</text>
<text x="370.6" y="238.5" font-family="Liberation Sans" font-size="10.2" font-weight="bold" transform="rotate(-90 370.6 238.5)">Potential (V<tspan font-size="6.8" dy="2.2">Ag/AgCl</tspan><tspan dy="-2.2">)</tspan></text>
<text x="357.5" y="33.8" font-family="Liberation Sans" font-size="11.8" font-weight="bold" text-anchor="start" fill="#000" >B</text>
<polyline points="396.5,241.3 539.7,151.8 671.4,234.6" fill="none" stroke="#000" stroke-width="1.35" stroke-linejoin="miter"/>
<polygon points="442.33,197.51 460.44,186.89 459.31,183.96 467.83,186.03 465.86,194.14 463.48,192.06 445.37,202.69 445.83,198.94" fill="#D9D9D9" stroke="none" stroke-width="1" />
<text x="469.3" y="213" font-family="Liberation Sans" font-size="10.5" font-weight="bold" text-anchor="middle" fill="#878787" transform="rotate(-32 469.3 213)" >Anodic scan</text>
<polygon points="623.18,189.39 641.45,199.73 643.42,197.28 645.9,205.69 637.89,208.06 638.5,204.95 620.22,194.61 623.7,193.13" fill="#D9D9D9" stroke="none" stroke-width="1" />
<text x="612.8" y="215" font-family="Liberation Sans" font-size="10.5" font-weight="bold" text-anchor="middle" fill="#878787" transform="rotate(32.2 612.8 215)" >Cathodic scan</text>
<rect x="396.7" y="288.9" width="287" height="104.5" fill="none" stroke="#000" stroke-width="1.45"/>
<rect x="396.7" y="435.7" width="287" height="104.5" fill="none" stroke="#000" stroke-width="1.45"/>
<line x1="527.25" y1="393.4" x2="527.25" y2="390.4" stroke="#000" stroke-width="1.1" />
<line x1="657.8" y1="393.4" x2="657.8" y2="390.4" stroke="#000" stroke-width="1.1" />
<line x1="461.98" y1="393.4" x2="461.98" y2="391.6" stroke="#000" stroke-width="1.1" />
<line x1="592.52" y1="393.4" x2="592.52" y2="391.6" stroke="#000" stroke-width="1.1" />
<line x1="527.25" y1="540.2" x2="527.25" y2="537.2" stroke="#000" stroke-width="1.1" />
<line x1="657.8" y1="540.2" x2="657.8" y2="537.2" stroke="#000" stroke-width="1.1" />
<line x1="461.98" y1="540.2" x2="461.98" y2="538.4" stroke="#000" stroke-width="1.1" />
<line x1="592.52" y1="540.2" x2="592.52" y2="538.4" stroke="#000" stroke-width="1.1" />
<line x1="396.7" y1="465.4" x2="400.2" y2="465.4" stroke="#000" stroke-width="1.1" />
<line x1="396.7" y1="495.2" x2="400.2" y2="495.2" stroke="#000" stroke-width="1.1" />
<line x1="396.7" y1="525" x2="400.2" y2="525" stroke="#000" stroke-width="1.1" />
<g clip-path="url(#cpD1)">
<circle cx="396.7" cy="383.4" r="2.6" fill="#F40000"/>
<line x1="475.03" y1="357.4" x2="475.03" y2="363.4" stroke="#F00" stroke-width="1.3" />
<line x1="472.23" y1="357.4" x2="477.83" y2="357.4" stroke="#F00" stroke-width="1.5" />
<line x1="472.23" y1="363.4" x2="477.83" y2="363.4" stroke="#F00" stroke-width="1.5" />
<circle cx="475.03" cy="360.4" r="2.6" fill="#F40000"/>
<line x1="501.14" y1="321.3" x2="501.14" y2="326.9" stroke="#F00" stroke-width="1.3" />
<line x1="498.34" y1="321.3" x2="503.94" y2="321.3" stroke="#F00" stroke-width="1.5" />
<line x1="498.34" y1="326.9" x2="503.94" y2="326.9" stroke="#F00" stroke-width="1.5" />
<circle cx="501.14" cy="324.1" r="2.6" fill="#F40000"/>
<line x1="527.25" y1="296.7" x2="527.25" y2="306.3" stroke="#F00" stroke-width="1.3" />
<line x1="524.45" y1="296.7" x2="530.05" y2="296.7" stroke="#F00" stroke-width="1.5" />
<line x1="524.45" y1="306.3" x2="530.05" y2="306.3" stroke="#F00" stroke-width="1.5" />
<circle cx="527.25" cy="301.5" r="2.6" fill="#F40000"/>
<line x1="553.36" y1="316.7" x2="553.36" y2="324.3" stroke="#F00" stroke-width="1.3" />
<line x1="550.56" y1="316.7" x2="556.16" y2="316.7" stroke="#F00" stroke-width="1.5" />
<line x1="550.56" y1="324.3" x2="556.16" y2="324.3" stroke="#F00" stroke-width="1.5" />
<circle cx="553.36" cy="320.5" r="2.6" fill="#F40000"/>
<circle cx="657.8" cy="383" r="2.6" fill="#F40000"/>
</g>
<text x="396.7" y="406.3" font-family="Liberation Sans" font-size="10.2" font-weight="bold" text-anchor="middle" fill="#000" >0</text>
<text x="527.25" y="406.3" font-family="Liberation Sans" font-size="10.2" font-weight="bold" text-anchor="middle" fill="#000" >100</text>
<text x="657.8" y="406.3" font-family="Liberation Sans" font-size="10.2" font-weight="bold" text-anchor="middle" fill="#000" >200</text>
<text x="396.7" y="553.2" font-family="Liberation Sans" font-size="10.2" font-weight="bold" text-anchor="middle" fill="#000" >0</text>
<text x="527.25" y="553.2" font-family="Liberation Sans" font-size="10.2" font-weight="bold" text-anchor="middle" fill="#000" >100</text>
<text x="657.8" y="553.2" font-family="Liberation Sans" font-size="10.2" font-weight="bold" text-anchor="middle" fill="#000" >200</text>
<text x="392.6" y="439.2" font-family="Liberation Sans" font-size="10.2" font-weight="bold" text-anchor="end" fill="#000" >0.4</text>
<text x="392.6" y="469" font-family="Liberation Sans" font-size="10.2" font-weight="bold" text-anchor="end" fill="#000" >0.2</text>
<text x="392.6" y="498.8" font-family="Liberation Sans" font-size="10.2" font-weight="bold" text-anchor="end" fill="#000" >0.0</text>
<text x="392.6" y="528.6" font-family="Liberation Sans" font-size="10.2" font-weight="bold" text-anchor="end" fill="#000" >−0.2</text>
<text x="544" y="563.8" font-family="Liberation Sans" font-size="10.2" font-weight="bold" text-anchor="middle" fill="#000" >Time (s)</text>
<text x="388.6" y="341" font-family="Liberation Sans" font-size="10.0" font-weight="bold" text-anchor="middle" transform="rotate(-90 388.6 341)"><tspan>CO</tspan><tspan font-size="6.8" dy="2.5">2</tspan><tspan dy="-2.5"> peak intensity (a.u.)</tspan></text>
<text x="372.6" y="522.0" font-family="Liberation Sans" font-size="10.2" font-weight="bold" transform="rotate(-90 372.6 522.0)">Potential (V<tspan font-size="6.8" dy="2.2">Ag/AgCl</tspan><tspan dy="-2.2">)</tspan></text>
<text x="357.5" y="299.6" font-family="Liberation Sans" font-size="11.8" font-weight="bold" text-anchor="start" fill="#000" >D</text>
<polyline points="396.9,532 527.5,456.6 658.3,532" fill="none" stroke="#000" stroke-width="1.35" />
<polygon points="437.02,493.19 455.3,482.85 454.21,479.9 462.7,482.11 460.6,490.19 458.25,488.07 439.98,498.41 440.5,494.67" fill="#D9D9D9" stroke="none" stroke-width="1" />
<text x="464.3" y="509" font-family="Liberation Sans" font-size="10.5" font-weight="bold" text-anchor="middle" fill="#878787" transform="rotate(-30 464.3 509)" >Anodic scan</text>
<polygon points="599.23,482.56 617.69,492.58 619.61,490.1 622.23,498.47 614.27,500.97 614.82,497.86 596.37,487.84 599.82,486.3" fill="#D9D9D9" stroke="none" stroke-width="1" />
<text x="589.8" y="509.2" font-family="Liberation Sans" font-size="10.5" font-weight="bold" text-anchor="middle" fill="#878787" transform="rotate(30 589.8 509.2)" >Cathodic scan</text>
<rect x="16.1" y="274.3" width="302.9" height="277.5" fill="none" stroke="#000" stroke-width="1.45"/>
<line x1="91.82" y1="551.8" x2="91.82" y2="549.8" stroke="#000" stroke-width="1.0" />
<line x1="167.55" y1="551.8" x2="167.55" y2="549.8" stroke="#000" stroke-width="1.0" />
<line x1="243.28" y1="551.8" x2="243.28" y2="549.8" stroke="#000" stroke-width="1.0" />
<line x1="53.96" y1="551.8" x2="53.96" y2="550.4" stroke="#000" stroke-width="0.9" />
<line x1="129.69" y1="551.8" x2="129.69" y2="550.4" stroke="#000" stroke-width="0.9" />
<line x1="205.41" y1="551.8" x2="205.41" y2="550.4" stroke="#000" stroke-width="0.9" />
<line x1="281.14" y1="551.8" x2="281.14" y2="550.4" stroke="#000" stroke-width="0.9" />
<text x="16.1" y="563" font-family="Liberation Sans" font-size="10.2" font-weight="bold" text-anchor="middle" fill="#000" >2500</text>
<text x="91.82" y="563" font-family="Liberation Sans" font-size="10.2" font-weight="bold" text-anchor="middle" fill="#000" >2400</text>
<text x="167.55" y="563" font-family="Liberation Sans" font-size="10.2" font-weight="bold" text-anchor="middle" fill="#000" >2300</text>
<text x="243.28" y="563" font-family="Liberation Sans" font-size="10.2" font-weight="bold" text-anchor="middle" fill="#000" >2200</text>
<text x="319" y="563" font-family="Liberation Sans" font-size="10.2" font-weight="bold" text-anchor="middle" fill="#000" >2100</text>
<text x="173.5" y="575.5" font-family="Liberation Sans" font-size="10.2" font-weight="bold" text-anchor="middle">Wavenumber (cm<tspan font-size="6.8" dy="-3.5">-1</tspan><tspan dy="3.5">)</tspan></text>
<text x="8.6" y="415" font-family="Liberation Sans" font-size="10.2" font-weight="bold" text-anchor="middle" fill="#000" transform="rotate(-90 8.6 415)" >Transmittance (a.u.)</text>
<text x="4.7" y="299.2" font-family="Liberation Sans" font-size="11.8" font-weight="bold" text-anchor="start" fill="#000" >C</text>
<path d="M16.4,329.1C16.8,329.32 17.87,330.27 18.8,330.4C19.73,330.53 20.8,330.12 22,329.9C23.2,329.68 24.65,328.75 26,329.1C27.35,329.45 28.88,332.13 30.1,332C31.32,331.87 32.23,328.65 33.3,328.3C34.37,327.95 35.43,329.82 36.5,329.9C37.57,329.98 38.63,329.15 39.7,328.8C40.77,328.45 41.83,327.7 42.9,327.8C43.97,327.9 44.77,328.6 46.1,329.4C47.43,330.2 49.28,332.52 50.9,332.6C52.52,332.68 54.18,330.48 55.8,329.9C57.42,329.32 59.13,329.63 60.6,329.1C62.07,328.57 63,326.43 64.6,326.7C66.2,326.97 68.52,330.62 70.2,330.7C71.88,330.78 73.37,327.33 74.7,327.2C76.03,327.07 76.93,328.7 78.2,329.9C79.47,331.1 80.82,334.93 82.3,334.4C83.78,333.87 85.63,327.27 87.1,326.7C88.57,326.13 89.37,329.85 91.1,331C92.83,332.15 95.63,333.38 97.5,333.6C99.37,333.82 100.7,332.73 102.3,332.3C103.9,331.87 105.75,331.48 107.1,331C108.45,330.52 109.32,328.87 110.4,329.4C111.48,329.93 112.53,334.2 113.6,334.2C114.67,334.2 115.73,330.25 116.8,329.4C117.87,328.55 118.93,329.02 120,329.1C121.07,329.18 122.13,330.43 123.2,329.9C124.27,329.37 125.47,325.37 126.4,325.9C127.33,326.43 127.87,332.17 128.8,333.1C129.73,334.03 131.05,333.02 132,331.5C132.95,329.98 133.55,325.07 134.5,324C135.45,322.93 136.37,324.65 137.7,325.1C139.03,325.55 140.63,326.62 142.5,326.7C144.37,326.78 147.03,325.15 148.9,325.6C150.77,326.05 151.97,329.48 153.7,329.4C155.43,329.32 157.55,325.02 159.3,325.1C161.05,325.18 162.58,329.5 164.2,329.9C165.82,330.3 167.53,327.68 169,327.5C170.47,327.32 171.53,329.12 173,328.8C174.47,328.48 176.33,326.22 177.8,325.6C179.27,324.98 180.6,325.53 181.8,325.1C183,324.67 183.78,323 185,323C186.22,323 187.35,323.82 189.1,325.1C190.85,326.38 193.77,330.08 195.5,330.7C197.23,331.32 198.03,328.48 199.5,328.8C200.97,329.12 202.83,332.33 204.3,332.6C205.77,332.87 206.97,330.85 208.3,330.4C209.63,329.95 211.08,330.52 212.3,329.9C213.52,329.28 214.12,327.1 215.6,326.7C217.08,326.3 219.6,327.58 221.2,327.5C222.8,327.42 224.07,326.1 225.2,326.2C226.33,326.3 227,328.32 228,328.1C229,327.88 230.12,325.97 231.2,324.9C232.28,323.83 233.42,321.7 234.5,321.7C235.58,321.7 236.63,324.23 237.7,324.9C238.77,325.57 239.83,325.62 240.9,325.7C241.97,325.78 243.03,326.07 244.1,325.4C245.17,324.73 246.1,321.17 247.3,321.7C248.5,322.23 249.83,328.87 251.3,328.6C252.77,328.33 254.77,320.85 256.1,320.1C257.43,319.35 258.22,323.43 259.3,324.1C260.38,324.77 261.38,323.35 262.6,324.1C263.82,324.85 265.13,328.87 266.6,328.6C268.07,328.33 269.8,323.25 271.4,322.5C273,321.75 274.47,323.35 276.2,324.1C277.93,324.85 280.33,327.05 281.8,327C283.27,326.95 284.07,324.02 285,323.8C285.93,323.58 286.05,325.17 287.4,325.7C288.75,326.23 291.08,327.8 293.1,327C295.12,326.2 297.77,321.52 299.5,320.9C301.23,320.28 301.9,323.97 303.5,323.3C305.1,322.63 307.63,317.43 309.1,316.9C310.57,316.37 311.22,319.17 312.3,320.1C313.38,321.03 314.6,322.5 315.6,322.5C316.6,322.5 317.85,320.5 318.3,320.1" fill="none" stroke="#5A00FF" stroke-width="2.35" stroke-linejoin="round" stroke-linecap="round"/>
<path d="M16.4,384.1C17.07,384.5 18.8,386.37 20.4,386.5C22,386.63 24.38,384.82 26,384.9C27.62,384.98 28.75,386.87 30.1,387C31.45,387.13 32.82,385.33 34.1,385.7C35.38,386.07 36.6,389.07 37.8,389.2C39,389.33 39.92,386.77 41.3,386.5C42.68,386.23 44.77,387.68 46.1,387.6C47.43,387.52 48.1,386.18 49.3,386C50.5,385.82 52.17,386.82 53.3,386.5C54.43,386.18 54.88,383.97 56.1,384.1C57.32,384.23 59.27,387.25 60.6,387.3C61.93,387.35 62.77,384.4 64.1,384.4C65.43,384.4 67.32,386.55 68.6,387.3C69.88,388.05 70.6,389.77 71.8,388.9C73,388.03 74.6,382.37 75.8,382.1C77,381.83 77.92,385.5 79,387.3C80.08,389.1 80.95,392.95 82.3,392.9C83.65,392.85 85.77,387.4 87.1,387C88.43,386.6 89.23,390.18 90.3,390.5C91.37,390.82 92.43,388.9 93.5,388.9C94.57,388.9 95.5,390.55 96.7,390.5C97.9,390.45 99.37,388.65 100.7,388.6C102.03,388.55 103.37,390.42 104.7,390.2C106.03,389.98 107.35,387.52 108.7,387.3C110.05,387.08 111.45,388.95 112.8,388.9C114.15,388.85 115.55,387.37 116.8,387C118.05,386.63 118.95,386.58 120.3,386.7C121.65,386.82 123.45,387.38 124.9,387.7C126.35,388.02 127.9,386.68 129,388.6C130.1,390.52 130.58,394.13 131.5,399.2C132.42,404.27 133.53,417.35 134.5,419C135.47,420.65 136.15,412.4 137.3,409.1C138.45,405.8 140.03,402.62 141.4,399.2C142.77,395.78 144,390.45 145.5,388.6C147,386.75 148.75,388.38 150.4,388.1C152.05,387.82 153.88,387.52 155.4,386.9C156.92,386.28 158.13,383.5 159.5,384.4C160.87,385.3 162.23,391.6 163.6,392.3C164.97,393 165.92,389.63 167.7,388.6C169.48,387.57 172.38,386.8 174.3,386.1C176.22,385.4 177.83,384.35 179.2,384.4C180.57,384.45 181.4,386.25 182.5,386.4C183.6,386.55 184.43,385.22 185.8,385.3C187.17,385.38 189.07,386.55 190.7,386.9C192.33,387.25 194.23,387.58 195.6,387.4C196.97,387.22 197.67,385.42 198.9,385.8C200.13,386.18 201.63,389.78 203,389.7C204.37,389.62 205.72,385.77 207.1,385.3C208.48,384.83 209.92,387.05 211.3,386.9C212.68,386.75 214.17,384.87 215.4,384.4C216.63,383.93 217.53,384.82 218.7,384.1C219.87,383.38 220.85,379.83 222.4,380.1C223.95,380.37 226.27,384.9 228,385.7C229.73,386.5 231.32,385.17 232.8,384.9C234.28,384.63 235.15,383.65 236.9,384.1C238.65,384.55 241.57,388.08 243.3,387.6C245.03,387.12 245.83,381.52 247.3,381.2C248.77,380.88 250.37,385.48 252.1,385.7C253.83,385.92 256.08,382.9 257.7,382.5C259.32,382.1 260.45,382.72 261.8,383.3C263.15,383.88 264.07,386.18 265.8,386C267.53,385.82 270.2,382.12 272.2,382.2C274.2,382.28 276.2,385.78 277.8,386.5C279.4,387.22 280.47,386.95 281.8,386.5C283.13,386.05 284.32,384.47 285.8,383.8C287.28,383.13 288.95,382.98 290.7,382.5C292.45,382.02 294.43,379.83 296.3,380.9C298.17,381.97 300.03,389.5 301.9,388.9C303.77,388.3 305.77,378.77 307.5,377.3C309.23,375.83 310.82,379.82 312.3,380.1C313.78,380.38 315.4,379.35 316.4,379C317.4,378.65 317.98,378.17 318.3,378" fill="none" stroke="#1A7DFF" stroke-width="2.35" stroke-linejoin="round" stroke-linecap="round"/>
<path d="M16.4,416.2C17.07,416.6 18.67,418.87 20.4,418.6C22.13,418.33 25.18,415 26.8,414.6C28.42,414.2 29.07,416.73 30.1,416.2C31.13,415.67 31.8,411.13 33,411.4C34.2,411.67 35.92,417.13 37.3,417.8C38.68,418.47 39.83,415.67 41.3,415.4C42.77,415.13 44.9,416.07 46.1,416.2C47.3,416.33 47.48,415.18 48.5,416.2C49.52,417.22 50.98,421.82 52.2,422.3C53.42,422.78 54.4,419.45 55.8,419.1C57.2,418.75 59.13,420.55 60.6,420.2C62.07,419.85 63.27,417.8 64.6,417C65.93,416.2 67.27,414.87 68.6,415.4C69.93,415.93 71.27,419.8 72.6,420.2C73.93,420.6 74.98,417.8 76.6,417.8C78.22,417.8 80.42,421 82.3,420.2C84.18,419.4 86.17,413.93 87.9,413C89.63,412.07 91.1,413.8 92.7,414.6C94.3,415.4 95.9,417.05 97.5,417.8C99.1,418.55 100.7,418.57 102.3,419.1C103.9,419.63 105.62,420.82 107.1,421C108.58,421.18 109.72,420.87 111.2,420.2C112.68,419.53 114.53,417.1 116,417C117.47,416.9 118.65,419.55 120,419.6C121.35,419.65 122.87,417.13 124.1,417.3C125.33,417.47 126.3,418.4 127.4,420.6C128.5,422.8 129.52,424.33 130.7,430.5C131.88,436.67 133.4,455.13 134.5,457.6C135.6,460.07 136.15,449.82 137.3,445.3C138.45,440.78 140.03,434.62 141.4,430.5C142.77,426.38 144,422.47 145.5,420.6C147,418.73 148.9,419.72 150.4,419.3C151.9,418.88 153.13,418.7 154.5,418.1C155.87,417.5 157.23,415.55 158.6,415.7C159.97,415.85 161.18,419 162.7,419C164.22,419 166.32,415.98 167.7,415.7C169.08,415.42 169.63,417.35 171,417.3C172.37,417.25 174.27,415.62 175.9,415.4C177.53,415.18 179.15,415.47 180.8,416C182.45,416.53 184.15,418.38 185.8,418.6C187.45,418.82 189.07,417.65 190.7,417.3C192.33,416.95 194.1,416.77 195.6,416.5C197.1,416.23 198.47,414.97 199.7,415.7C200.93,416.43 201.77,420.77 203,420.9C204.23,421.03 205.72,417.37 207.1,416.5C208.48,415.63 209.92,416.38 211.3,415.7C212.68,415.02 214.17,412.53 215.4,412.4C216.63,412.27 217.47,415.03 218.7,414.9C219.93,414.77 221.43,411.6 222.8,411.6C224.17,411.6 226.03,414.27 226.9,414.9C227.77,415.53 227.02,415.85 228,415.4C228.98,414.95 231.05,412.07 232.8,412.2C234.55,412.33 236.62,415.4 238.5,416.2C240.38,417 242.5,417.67 244.1,417C245.7,416.33 246.77,412.87 248.1,412.2C249.43,411.53 250.63,413.45 252.1,413C253.57,412.55 255.28,409.63 256.9,409.5C258.52,409.37 260.18,411.62 261.8,412.2C263.42,412.78 265.13,412.47 266.6,413C268.07,413.53 269.13,415.53 270.6,415.4C272.07,415.27 273.53,412.33 275.4,412.2C277.27,412.07 280.07,414.52 281.8,414.6C283.53,414.68 284.32,412.97 285.8,412.7C287.28,412.43 289.08,413.27 290.7,413C292.32,412.73 293.77,411.15 295.5,411.1C297.23,411.05 298.97,413.32 301.1,412.7C303.23,412.08 306.3,407.48 308.3,407.4C310.3,407.32 311.43,412.2 313.1,412.2C314.77,412.2 317.43,408.2 318.3,407.4" fill="none" stroke="#1EE01E" stroke-width="2.35" stroke-linejoin="round" stroke-linecap="round"/>
<path d="M16.4,464.5C17.2,464.5 19.18,463.83 21.2,464.5C23.22,465.17 26.48,468.78 28.5,468.5C30.52,468.22 31.83,462.93 33.3,462.8C34.77,462.67 35.97,467.7 37.3,467.7C38.63,467.7 39.7,462.87 41.3,462.8C42.9,462.73 45.03,466.62 46.9,467.3C48.77,467.98 50.35,466.52 52.5,466.9C54.65,467.28 57.92,469.8 59.8,469.6C61.68,469.4 62.47,466.42 63.8,465.7C65.13,464.98 66.52,465.1 67.8,465.3C69.08,465.5 70.3,467.45 71.5,466.9C72.7,466.35 73.75,462.4 75,462C76.25,461.6 77.65,463.55 79,464.5C80.35,465.45 81.67,467.65 83.1,467.7C84.53,467.75 86.27,464.87 87.6,464.8C88.93,464.73 89.45,466.77 91.1,467.3C92.75,467.83 95.68,468.2 97.5,468C99.32,467.8 100.53,466.15 102,466.1C103.47,466.05 104.9,467.7 106.3,467.7C107.7,467.7 109.32,465.97 110.4,466.1C111.48,466.23 111.73,468.63 112.8,468.5C113.87,468.37 115.53,465.95 116.8,465.3C118.07,464.65 119.2,464.68 120.4,464.6C121.6,464.52 122.73,464.62 124,464.8C125.27,464.98 126.85,464.15 128,465.7C129.15,467.25 129.82,469.62 130.9,474.1C131.98,478.58 133.37,491 134.5,492.6C135.63,494.2 136.63,486.78 137.7,483.7C138.77,480.62 139.83,476.77 140.9,474.1C141.97,471.43 142.77,469.1 144.1,467.7C145.43,466.3 147.3,465.92 148.9,465.7C150.5,465.48 152.1,466.73 153.7,466.4C155.3,466.07 157.02,463.35 158.5,463.7C159.98,464.05 161.12,468.78 162.6,468.5C164.08,468.22 165.53,462.08 167.4,462C169.27,461.92 171.8,467.87 173.8,468C175.8,468.13 177.4,463.38 179.4,462.8C181.4,462.22 183.65,463.75 185.8,464.5C187.95,465.25 190.15,467.43 192.3,467.3C194.45,467.17 196.7,463.63 198.7,463.7C200.7,463.77 202.57,467.63 204.3,467.7C206.03,467.77 207.63,464.43 209.1,464.1C210.57,463.77 211.88,465.7 213.1,465.7C214.32,465.7 215.15,464.85 216.4,464.1C217.65,463.35 219.47,461.55 220.6,461.2C221.73,460.85 222.1,461.32 223.2,462C224.3,462.68 225.45,465.43 227.2,465.3C228.95,465.17 231.82,461.33 233.7,461.2C235.58,461.07 237.17,464.37 238.5,464.5C239.83,464.63 240.77,461.95 241.7,462C242.63,462.05 243.03,464.93 244.1,464.8C245.17,464.67 246.63,460.85 248.1,461.2C249.57,461.55 251.3,467.1 252.9,466.9C254.5,466.7 255.95,461 257.7,460C259.45,459 261.78,460.22 263.4,460.9C265.02,461.58 265.93,464.25 267.4,464.1C268.87,463.95 270.6,460.15 272.2,460C273.8,459.85 275.27,462.4 277,463.2C278.73,464 280.87,465.33 282.6,464.8C284.33,464.27 285.78,460.12 287.4,460C289.02,459.88 290.55,463.95 292.3,464.1C294.05,464.25 296.3,461.17 297.9,460.9C299.5,460.63 300.17,463.12 301.9,462.5C303.63,461.88 306.43,457.47 308.3,457.2C310.17,456.93 311.43,460.9 313.1,460.9C314.77,460.9 317.43,457.82 318.3,457.2" fill="none" stroke="#FFEE00" stroke-width="2.35" stroke-linejoin="round" stroke-linecap="round"/>
<path d="M16.4,499C17.07,499.35 18.67,500.92 20.4,501.1C22.13,501.28 24.78,500.1 26.8,500.1C28.82,500.1 30.75,500.83 32.5,501.1C34.25,501.37 35.83,502.32 37.3,501.7C38.77,501.08 39.7,497.4 41.3,497.4C42.9,497.4 45.3,501.52 46.9,501.7C48.5,501.88 49.42,498.55 50.9,498.5C52.38,498.45 54.18,500.97 55.8,501.4C57.42,501.83 59.13,501.58 60.6,501.1C62.07,500.62 62.73,497.97 64.6,498.5C66.47,499.03 69.67,504.88 71.8,504.3C73.93,503.72 75.52,495.35 77.4,495C79.28,494.65 81.35,501.45 83.1,502.2C84.85,502.95 86.3,500.17 87.9,499.5C89.5,498.83 91.1,497.48 92.7,498.2C94.3,498.92 95.95,503.32 97.5,503.8C99.05,504.28 100.53,501.23 102,501.1C103.47,500.97 104.9,503.62 106.3,503C107.7,502.38 109.05,497.13 110.4,497.4C111.75,497.67 112.93,504.33 114.4,504.6C115.87,504.87 117.53,500.17 119.2,499C120.87,497.83 122.8,498.07 124.4,497.6C126,497.13 127.67,495.97 128.8,496.2C129.93,496.43 130.25,497.2 131.2,499C132.15,500.8 133.28,506.33 134.5,507C135.72,507.67 137.03,504.15 138.5,503C139.97,501.85 141.7,500.58 143.3,500.1C144.9,499.62 146.77,499.83 148.1,500.1C149.43,500.37 149.7,502.07 151.3,501.7C152.9,501.33 155.68,497.47 157.7,497.9C159.72,498.33 161.65,504.38 163.4,504.3C165.15,504.22 166.73,498.02 168.2,497.4C169.67,496.78 170.73,500.73 172.2,500.6C173.67,500.47 175.4,497.4 177,496.6C178.6,495.8 180.33,495.75 181.8,495.8C183.27,495.85 184.18,495.97 185.8,496.9C187.42,497.83 189.35,501.23 191.5,501.4C193.65,501.57 196.57,497.1 198.7,497.9C200.83,498.7 202.57,505.62 204.3,506.2C206.03,506.78 207.5,502.6 209.1,501.4C210.7,500.2 212.42,499.27 213.9,499C215.38,498.73 216.48,500.27 218,499.8C219.52,499.33 221.2,495.93 223,496.2C224.8,496.47 227.02,501.02 228.8,501.4C230.58,501.78 232.22,498.55 233.7,498.5C235.18,498.45 236.1,500.48 237.7,501.1C239.3,501.72 241.7,502.68 243.3,502.2C244.9,501.72 246.1,498.47 247.3,498.2C248.5,497.93 249.17,500.6 250.5,500.6C251.83,500.6 253.55,498.07 255.3,498.2C257.05,498.33 259.25,501.27 261,501.4C262.75,501.53 263.93,499.58 265.8,499C267.67,498.42 270.33,497.5 272.2,497.9C274.07,498.3 275,501.13 277,501.4C279,501.67 282.18,499.63 284.2,499.5C286.22,499.37 287.22,500.95 289.1,500.6C290.98,500.25 293.9,497.93 295.5,497.4C297.1,496.87 297.5,496.78 298.7,497.4C299.9,498.02 301.1,501.5 302.7,501.1C304.3,500.7 306.57,495.08 308.3,495C310.03,494.92 311.43,500.47 313.1,500.6C314.77,500.73 317.43,496.6 318.3,495.8" fill="none" stroke="#FF7300" stroke-width="2.35" stroke-linejoin="round" stroke-linecap="round"/>
<path d="M16.4,527.1C17.07,527.77 18.93,531.1 20.4,531.1C21.87,531.1 23.72,527.37 25.2,527.1C26.68,526.83 28,529.98 29.3,529.5C30.6,529.02 31.67,524.07 33,524.2C34.33,524.33 35.78,529.95 37.3,530.3C38.82,530.65 40.5,526.57 42.1,526.3C43.7,526.03 45.17,528.62 46.9,528.7C48.63,528.78 50.75,526.53 52.5,526.8C54.25,527.07 55.52,530.73 57.4,530.3C59.28,529.87 61.8,524.33 63.8,524.2C65.8,524.07 67.27,529.88 69.4,529.5C71.53,529.12 74.45,522.03 76.6,521.9C78.75,521.77 80.55,528.5 82.3,528.7C84.05,528.9 85.77,523.42 87.1,523.1C88.43,522.78 89.23,526.53 90.3,526.8C91.37,527.07 92.03,524.25 93.5,524.7C94.97,525.15 97.1,528.25 99.1,529.5C101.1,530.75 103.62,532.47 105.5,532.2C107.38,531.93 109.05,528.08 110.4,527.9C111.75,527.72 112.27,531.37 113.6,531.1C114.93,530.83 117,526.98 118.4,526.3C119.8,525.62 121.07,527.13 122,527C122.93,526.87 123,526.68 124,525.5C125,524.32 126.8,519.85 128,519.9C129.2,519.95 129.98,524.33 131.2,525.8C132.42,527.27 133.82,528.27 135.3,528.7C136.78,529.13 138.5,528.93 140.1,528.4C141.7,527.87 143.17,525.45 144.9,525.5C146.63,525.55 148.77,529.1 150.5,528.7C152.23,528.3 153.97,523.77 155.3,523.1C156.63,522.43 157.15,523.5 158.5,524.7C159.85,525.9 161.78,529.63 163.4,530.3C165.02,530.97 166.6,528.83 168.2,528.7C169.8,528.57 171.53,529.63 173,529.5C174.47,529.37 175.67,528.35 177,527.9C178.33,527.45 179.27,527.25 181,526.8C182.73,526.35 185.78,525.42 187.4,525.2C189.02,524.98 189.35,525.05 190.7,525.5C192.05,525.95 193.9,527.68 195.5,527.9C197.1,528.12 198.43,526.18 200.3,526.8C202.17,527.42 204.83,531.15 206.7,531.6C208.57,532.05 209.88,530.65 211.5,529.5C213.12,528.35 214.78,525.37 216.4,524.7C218.02,524.03 220,525.5 221.2,525.5C222.4,525.5 222.67,524.17 223.6,524.7C224.53,525.23 225.98,527.98 226.8,528.7C227.62,529.42 227.5,529.13 228.5,529C229.5,528.87 231,527.95 232.8,527.9C234.6,527.85 237.42,528.3 239.3,528.7C241.18,529.1 242.63,530.35 244.1,530.3C245.57,530.25 247.03,528.27 248.1,528.4C249.17,528.53 248.77,531.98 250.5,531.1C252.23,530.22 256.48,524.03 258.5,523.1C260.52,522.17 261.12,524.17 262.6,525.5C264.08,526.83 265.8,531.23 267.4,531.1C269,530.97 270.73,524.83 272.2,524.7C273.67,524.57 274.87,529.95 276.2,530.3C277.53,530.65 278.73,526.48 280.2,526.8C281.67,527.12 283.52,531.62 285,532.2C286.48,532.78 287.62,531.15 289.1,530.3C290.58,529.45 292.3,527.85 293.9,527.1C295.5,526.35 297.1,525.48 298.7,525.8C300.3,526.12 301.77,529.18 303.5,529C305.23,528.82 307.5,525.02 309.1,524.7C310.7,524.38 311.57,527.28 313.1,527.1C314.63,526.92 317.43,524.18 318.3,523.6" fill="none" stroke="#FF1414" stroke-width="2.35" stroke-linejoin="round" stroke-linecap="round"/>
<line x1="134.9" y1="314.6" x2="134.9" y2="519.5" stroke="#000" stroke-width="2.0" stroke-dasharray="10 5.5 1.6 7.9"/>
<text x="322.3" y="324.4" font-family="Liberation Sans" font-size="10.2" font-weight="bold" text-anchor="start" fill="#000" >-0.24</text>
<text x="323.5" y="424.8" font-family="Liberation Sans" font-size="10.2" font-weight="bold" text-anchor="start" fill="#000" >0.26</text>
<text x="322.3" y="532.7" font-family="Liberation Sans" font-size="10.2" font-weight="bold" text-anchor="start" fill="#000" >-0.24</text>
<line x1="335" y1="398.5" x2="335" y2="340" stroke="#000" stroke-width="1.3" />
<polygon points="335,334.6 339.2,342.6 330.8,342.6" fill="#000" stroke="none" stroke-width="1" />
<line x1="335" y1="497" x2="335" y2="451" stroke="#000" stroke-width="1.3" />
<polygon points="335,445.8 339.2,453.8 330.8,453.8" fill="#000" stroke="none" stroke-width="1" />
<text x="350.5" y="368.5" font-family="Liberation Sans" font-size="10.2" font-weight="bold" transform="rotate(90 350.5 368.5)">Potential (V<tspan font-size="6.8" dy="2.2">Ag/AgCl</tspan><tspan dy="-2.2">)</tspan></text>
<line x1="93.3" y1="290.5" x2="99.6" y2="295.6" stroke="#E00010" stroke-width="2.1"/>
<line x1="99.6" y1="295.6" x2="105.8" y2="300.6" stroke="#8A9A9A" stroke-width="2.1"/>
<line x1="105.8" y1="300.6" x2="112.2" y2="305.1" stroke="#8A9A9A" stroke-width="2.1"/>
<line x1="112.2" y1="305.1" x2="118.6" y2="309.6" stroke="#E00010" stroke-width="2.1"/>
<circle cx="93.3" cy="290.6" r="4.6" fill="url(#gO)"/>
<circle cx="105.8" cy="300.6" r="4.7" fill="url(#gC)"/>
<circle cx="118.6" cy="309.6" r="4.6" fill="url(#gO)"/>
<text x="95.9" y="285" font-family="Liberation Sans" font-size="10.8" font-weight="bold" text-anchor="middle" fill="#C00010" >O</text>
<text x="111.5" y="294.8" font-family="Liberation Sans" font-size="9.3" font-weight="bold" text-anchor="middle" fill="#333" >C</text>
<text x="124.5" y="305.2" font-family="Liberation Sans" font-size="10.8" font-weight="bold" text-anchor="middle" fill="#C00010" >O</text>
<text x="128.4" y="295.3" font-family="Liberation Sans" font-size="10.2" font-weight="bold">free CO<tspan font-size="7" dy="2.5">2</tspan></text>
<text x="190" y="309.3" font-family="Liberation Sans" font-size="10.2" font-weight="bold">2340 cm<tspan font-size="6.8" dy="-3.5">-1</tspan></text>
<rect x="531.2" y="8" width="16.8" height="235.5" rx="8.4" fill="#FF0000" fill-opacity="0.185"/>
<rect x="519.5" y="291.7" width="17.0" height="246.2" rx="8.4" fill="#FF0000" fill-opacity="0.185"/>
</svg>
</body></html>
